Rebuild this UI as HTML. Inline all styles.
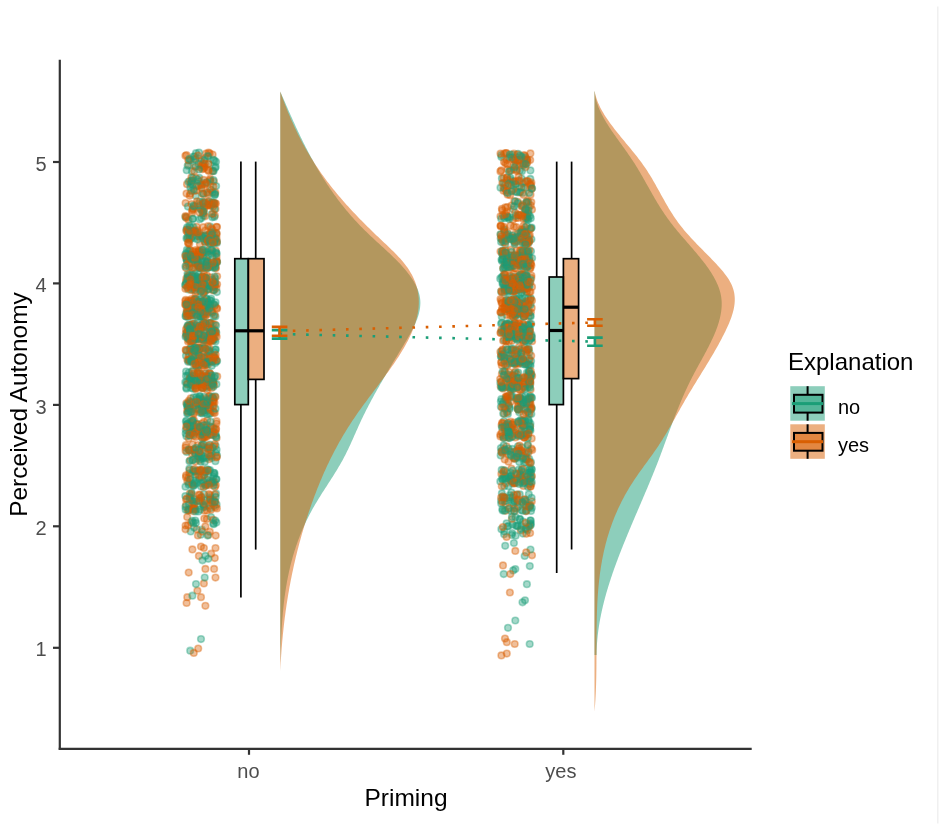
<!DOCTYPE html>
<html><head><meta charset="utf-8"><style>
html,body{margin:0;padding:0;background:#fff;}
body{width:945px;height:830px;overflow:hidden;}
svg{display:block;font-family:"Liberation Sans",sans-serif;filter:blur(0.4px);}
</style></head><body>
<svg width="945" height="830" viewBox="0 0 945 830">
<rect x="0" y="0" width="945" height="830" fill="#fff"/>
<line x1="937.8" y1="6.5" x2="937.8" y2="823.5" stroke="#efefef" stroke-width="1.4"/>
<path d="M280.3,91.6 L280.30,91.60 L280.92,93.03 L281.55,94.46 L282.17,95.89 L282.79,97.33 L283.41,98.76 L284.04,100.19 L284.66,101.62 L285.29,103.05 L285.91,104.48 L286.54,105.91 L287.16,107.34 L287.79,108.78 L288.42,110.21 L289.05,111.64 L289.69,113.07 L290.32,114.50 L290.96,115.93 L291.60,117.36 L292.24,118.80 L292.89,120.23 L293.53,121.66 L294.19,123.09 L294.84,124.52 L295.50,125.95 L296.16,127.38 L296.82,128.81 L297.49,130.25 L298.16,131.68 L298.84,133.11 L299.52,134.54 L300.21,135.97 L300.90,137.40 L301.59,138.83 L302.29,140.27 L303.00,141.70 L303.71,143.13 L304.42,144.56 L305.14,145.99 L305.87,147.42 L306.61,148.85 L307.35,150.28 L308.09,151.72 L308.85,153.15 L309.60,154.58 L310.37,156.01 L311.14,157.44 L311.93,158.87 L312.71,160.30 L313.51,161.74 L314.31,163.17 L315.13,164.60 L315.94,166.03 L316.77,167.46 L317.61,168.89 L318.45,170.32 L319.31,171.75 L320.17,173.19 L321.04,174.62 L321.92,176.05 L322.81,177.48 L323.71,178.91 L324.62,180.34 L325.54,181.77 L326.47,183.21 L327.41,184.64 L328.37,186.07 L329.33,187.50 L330.30,188.93 L331.29,190.36 L332.28,191.79 L333.29,193.22 L334.32,194.66 L335.35,196.09 L336.40,197.52 L337.46,198.95 L338.54,200.38 L339.63,201.81 L340.73,203.24 L341.85,204.67 L342.99,206.11 L344.14,207.54 L345.30,208.97 L346.49,210.40 L347.68,211.83 L348.90,213.26 L350.13,214.69 L351.38,216.13 L352.65,217.56 L353.93,218.99 L355.23,220.42 L356.56,221.85 L357.90,223.28 L359.25,224.71 L360.63,226.14 L362.03,227.58 L363.45,229.01 L364.89,230.44 L366.35,231.87 L367.83,233.30 L369.33,234.73 L370.84,236.16 L372.38,237.60 L373.92,239.03 L375.47,240.46 L377.03,241.89 L378.59,243.32 L380.16,244.75 L381.72,246.18 L383.28,247.61 L384.84,249.05 L386.39,250.48 L387.92,251.91 L389.45,253.34 L390.96,254.77 L392.45,256.20 L393.92,257.63 L395.37,259.07 L396.79,260.50 L398.18,261.93 L399.55,263.36 L400.88,264.79 L402.19,266.22 L403.46,267.65 L404.69,269.08 L405.89,270.52 L407.06,271.95 L408.18,273.38 L409.26,274.81 L410.30,276.24 L411.30,277.67 L412.26,279.10 L413.17,280.54 L414.03,281.97 L414.84,283.40 L415.60,284.83 L416.31,286.26 L416.97,287.69 L417.58,289.12 L418.12,290.55 L418.62,291.99 L419.05,293.42 L419.42,294.85 L419.73,296.28 L419.98,297.71 L420.17,299.14 L420.29,300.57 L420.36,302.01 L420.36,303.44 L420.31,304.87 L420.20,306.30 L420.05,307.73 L419.84,309.16 L419.58,310.59 L419.27,312.02 L418.92,313.46 L418.53,314.89 L418.10,316.32 L417.62,317.75 L417.11,319.18 L416.56,320.61 L415.98,322.04 L415.37,323.48 L414.73,324.91 L414.06,326.34 L413.36,327.77 L412.64,329.20 L411.90,330.63 L411.14,332.06 L410.36,333.49 L409.56,334.93 L408.75,336.36 L407.92,337.79 L407.08,339.22 L406.24,340.65 L405.39,342.08 L404.53,343.51 L403.67,344.95 L402.81,346.38 L401.94,347.81 L401.08,349.24 L400.22,350.67 L399.35,352.10 L398.49,353.53 L397.62,354.96 L396.76,356.40 L395.90,357.83 L395.04,359.26 L394.17,360.69 L393.31,362.12 L392.45,363.55 L391.60,364.98 L390.74,366.42 L389.89,367.85 L389.03,369.28 L388.18,370.71 L387.33,372.14 L386.49,373.57 L385.64,375.00 L384.80,376.43 L383.96,377.87 L383.13,379.30 L382.30,380.73 L381.47,382.16 L380.64,383.59 L379.82,385.02 L379.01,386.45 L378.19,387.88 L377.38,389.32 L376.58,390.75 L375.78,392.18 L374.98,393.61 L374.19,395.04 L373.41,396.47 L372.63,397.90 L371.85,399.34 L371.08,400.77 L370.32,402.20 L369.56,403.63 L368.81,405.06 L368.07,406.49 L367.33,407.92 L366.60,409.35 L365.87,410.79 L365.15,412.22 L364.44,413.65 L363.74,415.08 L363.04,416.51 L362.35,417.94 L361.67,419.37 L361.00,420.81 L360.33,422.24 L359.67,423.67 L359.02,425.10 L358.37,426.53 L357.73,427.96 L357.09,429.39 L356.45,430.82 L355.82,432.26 L355.19,433.69 L354.55,435.12 L353.92,436.55 L353.28,437.98 L352.64,439.41 L352.00,440.84 L351.35,442.28 L350.70,443.71 L350.05,445.14 L349.38,446.57 L348.71,448.00 L348.03,449.43 L347.34,450.86 L346.63,452.29 L345.92,453.73 L345.20,455.16 L344.46,456.59 L343.70,458.02 L342.94,459.45 L342.15,460.88 L341.36,462.31 L340.54,463.75 L339.72,465.18 L338.88,466.61 L338.03,468.04 L337.16,469.47 L336.29,470.90 L335.41,472.33 L334.52,473.76 L333.62,475.20 L332.72,476.63 L331.81,478.06 L330.89,479.49 L329.98,480.92 L329.06,482.35 L328.13,483.78 L327.21,485.22 L326.29,486.65 L325.37,488.08 L324.45,489.51 L323.53,490.94 L322.61,492.37 L321.70,493.80 L320.80,495.23 L319.90,496.67 L319.01,498.10 L318.13,499.53 L317.26,500.96 L316.39,502.39 L315.54,503.82 L314.70,505.25 L313.87,506.69 L313.06,508.12 L312.26,509.55 L311.47,510.98 L310.70,512.41 L309.94,513.84 L309.20,515.27 L308.46,516.70 L307.74,518.14 L307.04,519.57 L306.34,521.00 L305.66,522.43 L304.99,523.86 L304.34,525.29 L303.69,526.72 L303.06,528.16 L302.44,529.59 L301.83,531.02 L301.24,532.45 L300.65,533.88 L300.08,535.31 L299.52,536.74 L298.97,538.17 L298.43,539.61 L297.90,541.04 L297.39,542.47 L296.88,543.90 L296.39,545.33 L295.90,546.76 L295.43,548.19 L294.97,549.63 L294.51,551.06 L294.07,552.49 L293.64,553.92 L293.21,555.35 L292.80,556.78 L292.39,558.21 L292.00,559.64 L291.61,561.08 L291.24,562.51 L290.87,563.94 L290.51,565.37 L290.16,566.80 L289.82,568.23 L289.49,569.66 L289.16,571.09 L288.85,572.53 L288.54,573.96 L288.24,575.39 L287.95,576.82 L287.67,578.25 L287.39,579.68 L287.12,581.11 L286.86,582.55 L286.61,583.98 L286.36,585.41 L286.12,586.84 L285.89,588.27 L285.67,589.70 L285.45,591.13 L285.24,592.56 L285.03,594.00 L284.83,595.43 L284.64,596.86 L284.45,598.29 L284.27,599.72 L284.09,601.15 L283.93,602.58 L283.76,604.02 L283.60,605.45 L283.45,606.88 L283.30,608.31 L283.16,609.74 L283.02,611.17 L282.89,612.60 L282.76,614.03 L282.64,615.47 L282.52,616.90 L282.40,618.33 L282.29,619.76 L282.18,621.19 L282.08,622.62 L281.98,624.05 L281.89,625.49 L281.80,626.92 L281.71,628.35 L281.62,629.78 L281.54,631.21 L281.46,632.64 L281.39,634.07 L281.31,635.50 L281.24,636.94 L281.18,638.37 L281.11,639.80 L281.05,641.23 L280.99,642.66 L280.93,644.09 L280.87,645.52 L280.82,646.96 L280.76,648.39 L280.71,649.82 L280.66,651.25 L280.61,652.68 L280.57,654.11 L280.52,655.54 L280.48,656.97 L280.43,658.41 L280.39,659.84 L280.34,661.27 L280.30,662.70 L280.3,662.7 Z" fill="#1B9E77" fill-opacity="0.5"/>
<path d="M280.3,91.6 L280.30,91.60 L280.81,93.05 L281.32,94.50 L281.84,95.96 L282.36,97.41 L282.89,98.86 L283.43,100.31 L283.97,101.77 L284.52,103.22 L285.08,104.67 L285.64,106.12 L286.21,107.58 L286.79,109.03 L287.37,110.48 L287.96,111.93 L288.56,113.39 L289.17,114.84 L289.78,116.29 L290.40,117.74 L291.03,119.20 L291.67,120.65 L292.31,122.10 L292.96,123.55 L293.63,125.00 L294.30,126.46 L294.98,127.91 L295.66,129.36 L296.36,130.81 L297.07,132.27 L297.78,133.72 L298.50,135.17 L299.24,136.62 L299.98,138.08 L300.73,139.53 L301.50,140.98 L302.27,142.43 L303.05,143.89 L303.85,145.34 L304.65,146.79 L305.46,148.24 L306.29,149.70 L307.12,151.15 L307.97,152.60 L308.83,154.05 L309.70,155.50 L310.58,156.96 L311.47,158.41 L312.37,159.86 L313.29,161.31 L314.21,162.77 L315.15,164.22 L316.10,165.67 L317.06,167.12 L318.04,168.58 L319.03,170.03 L320.03,171.48 L321.04,172.93 L322.07,174.39 L323.10,175.84 L324.16,177.29 L325.22,178.74 L326.30,180.20 L327.39,181.65 L328.50,183.10 L329.62,184.55 L330.75,186.00 L331.90,187.46 L333.06,188.91 L334.23,190.36 L335.42,191.81 L336.62,193.27 L337.84,194.72 L339.06,196.17 L340.30,197.62 L341.56,199.08 L342.82,200.53 L344.10,201.98 L345.39,203.43 L346.69,204.89 L348.00,206.34 L349.32,207.79 L350.66,209.24 L352.01,210.70 L353.37,212.15 L354.74,213.60 L356.12,215.05 L357.51,216.50 L358.91,217.96 L360.32,219.41 L361.74,220.86 L363.18,222.31 L364.62,223.77 L366.07,225.22 L367.53,226.67 L369.01,228.12 L370.49,229.58 L371.98,231.03 L373.48,232.48 L374.98,233.93 L376.50,235.39 L378.03,236.84 L379.56,238.29 L381.10,239.74 L382.64,241.20 L384.18,242.65 L385.72,244.10 L387.25,245.55 L388.77,247.00 L390.28,248.46 L391.77,249.91 L393.24,251.36 L394.69,252.81 L396.11,254.27 L397.51,255.72 L398.87,257.17 L400.20,258.62 L401.48,260.08 L402.73,261.53 L403.93,262.98 L405.09,264.43 L406.19,265.89 L407.24,267.34 L408.24,268.79 L409.20,270.24 L410.10,271.70 L410.95,273.15 L411.76,274.60 L412.52,276.05 L413.23,277.50 L413.90,278.96 L414.52,280.41 L415.10,281.86 L415.63,283.31 L416.12,284.77 L416.57,286.22 L416.97,287.67 L417.34,289.12 L417.66,290.58 L417.94,292.03 L418.18,293.48 L418.38,294.93 L418.54,296.39 L418.66,297.84 L418.75,299.29 L418.79,300.74 L418.81,302.20 L418.78,303.65 L418.72,305.10 L418.63,306.55 L418.50,308.00 L418.34,309.46 L418.14,310.91 L417.92,312.36 L417.66,313.81 L417.37,315.27 L417.05,316.72 L416.70,318.17 L416.32,319.62 L415.91,321.08 L415.47,322.53 L415.01,323.98 L414.51,325.43 L414.00,326.89 L413.45,328.34 L412.88,329.79 L412.29,331.24 L411.67,332.70 L411.03,334.15 L410.36,335.60 L409.68,337.05 L408.97,338.50 L408.24,339.96 L407.49,341.41 L406.72,342.86 L405.93,344.31 L405.12,345.77 L404.30,347.22 L403.45,348.67 L402.59,350.12 L401.72,351.58 L400.82,353.03 L399.92,354.48 L399.00,355.93 L398.06,357.39 L397.11,358.84 L396.15,360.29 L395.17,361.74 L394.19,363.20 L393.19,364.65 L392.18,366.10 L391.16,367.55 L390.14,369.00 L389.10,370.46 L388.06,371.91 L387.01,373.36 L385.95,374.81 L384.89,376.27 L383.82,377.72 L382.74,379.17 L381.67,380.62 L380.58,382.08 L379.50,383.53 L378.41,384.98 L377.32,386.43 L376.22,387.89 L375.13,389.34 L374.04,390.79 L372.94,392.24 L371.85,393.70 L370.76,395.15 L369.67,396.60 L368.59,398.05 L367.50,399.50 L366.42,400.96 L365.35,402.41 L364.28,403.86 L363.21,405.31 L362.16,406.77 L361.11,408.22 L360.06,409.67 L359.03,411.12 L358.00,412.58 L356.98,414.03 L355.97,415.48 L354.97,416.93 L353.99,418.39 L353.01,419.84 L352.05,421.29 L351.09,422.74 L350.15,424.20 L349.21,425.65 L348.29,427.10 L347.38,428.55 L346.48,430.00 L345.58,431.46 L344.70,432.91 L343.83,434.36 L342.96,435.81 L342.11,437.27 L341.27,438.72 L340.43,440.17 L339.61,441.62 L338.79,443.08 L337.99,444.53 L337.19,445.98 L336.40,447.43 L335.62,448.89 L334.85,450.34 L334.09,451.79 L333.33,453.24 L332.59,454.70 L331.85,456.15 L331.12,457.60 L330.40,459.05 L329.69,460.50 L328.99,461.96 L328.29,463.41 L327.60,464.86 L326.92,466.31 L326.25,467.77 L325.58,469.22 L324.92,470.67 L324.27,472.12 L323.63,473.58 L322.99,475.03 L322.36,476.48 L321.74,477.93 L321.12,479.39 L320.51,480.84 L319.91,482.29 L319.31,483.74 L318.72,485.20 L318.13,486.65 L317.55,488.10 L316.98,489.55 L316.42,491.00 L315.86,492.46 L315.30,493.91 L314.75,495.36 L314.21,496.81 L313.67,498.27 L313.14,499.72 L312.61,501.17 L312.09,502.62 L311.57,504.08 L311.06,505.53 L310.55,506.98 L310.04,508.43 L309.55,509.89 L309.05,511.34 L308.56,512.79 L308.08,514.24 L307.60,515.70 L307.13,517.15 L306.66,518.60 L306.19,520.05 L305.73,521.50 L305.27,522.96 L304.82,524.41 L304.38,525.86 L303.93,527.31 L303.50,528.77 L303.06,530.22 L302.63,531.67 L302.21,533.12 L301.79,534.58 L301.38,536.03 L300.97,537.48 L300.56,538.93 L300.16,540.39 L299.76,541.84 L299.37,543.29 L298.98,544.74 L298.60,546.20 L298.22,547.65 L297.84,549.10 L297.47,550.55 L297.10,552.00 L296.74,553.46 L296.38,554.91 L296.03,556.36 L295.68,557.81 L295.34,559.27 L294.99,560.72 L294.66,562.17 L294.33,563.62 L294.00,565.08 L293.67,566.53 L293.35,567.98 L293.04,569.43 L292.73,570.89 L292.42,572.34 L292.11,573.79 L291.81,575.24 L291.52,576.70 L291.23,578.15 L290.94,579.60 L290.66,581.05 L290.38,582.50 L290.10,583.96 L289.83,585.41 L289.56,586.86 L289.30,588.31 L289.04,589.77 L288.79,591.22 L288.53,592.67 L288.29,594.12 L288.04,595.58 L287.80,597.03 L287.57,598.48 L287.33,599.93 L287.11,601.39 L286.88,602.84 L286.66,604.29 L286.44,605.74 L286.23,607.20 L286.02,608.65 L285.81,610.10 L285.61,611.55 L285.41,613.00 L285.22,614.46 L285.02,615.91 L284.84,617.36 L284.65,618.81 L284.47,620.27 L284.29,621.72 L284.12,623.17 L283.95,624.62 L283.79,626.08 L283.62,627.53 L283.46,628.98 L283.31,630.43 L283.16,631.89 L283.01,633.34 L282.86,634.79 L282.72,636.24 L282.58,637.70 L282.44,639.15 L282.31,640.60 L282.18,642.05 L282.06,643.50 L281.94,644.96 L281.82,646.41 L281.70,647.86 L281.59,649.31 L281.48,650.77 L281.38,652.22 L281.28,653.67 L281.18,655.12 L281.08,656.58 L280.99,658.03 L280.90,659.48 L280.81,660.93 L280.73,662.39 L280.65,663.84 L280.58,665.29 L280.50,666.74 L280.43,668.20 L280.36,669.65 L280.30,671.10 L280.3,671.1 Z" fill="#D95F02" fill-opacity="0.5"/>
<path d="M594.5,91.6 L594.80,91.60 L594.91,93.01 L595.07,94.42 L595.28,95.84 L595.53,97.25 L595.83,98.66 L596.17,100.07 L596.55,101.48 L596.98,102.90 L597.44,104.31 L597.94,105.72 L598.48,107.13 L599.05,108.54 L599.66,109.96 L600.30,111.37 L600.98,112.78 L601.68,114.19 L602.41,115.60 L603.17,117.02 L603.95,118.43 L604.76,119.84 L605.59,121.25 L606.45,122.66 L607.32,124.08 L608.22,125.49 L609.13,126.90 L610.05,128.31 L611.00,129.72 L611.95,131.14 L612.92,132.55 L613.90,133.96 L614.89,135.37 L615.89,136.78 L616.90,138.20 L617.91,139.61 L618.92,141.02 L619.94,142.43 L620.96,143.85 L621.98,145.26 L623.00,146.67 L624.01,148.08 L625.02,149.49 L626.03,150.91 L627.03,152.32 L628.02,153.73 L629.00,155.14 L629.97,156.55 L630.93,157.97 L631.88,159.38 L632.81,160.79 L633.73,162.20 L634.63,163.61 L635.52,165.03 L636.40,166.44 L637.26,167.85 L638.12,169.26 L638.96,170.67 L639.80,172.09 L640.63,173.50 L641.45,174.91 L642.26,176.32 L643.07,177.73 L643.87,179.15 L644.67,180.56 L645.47,181.97 L646.26,183.38 L647.06,184.79 L647.85,186.21 L648.64,187.62 L649.43,189.03 L650.23,190.44 L651.02,191.85 L651.83,193.27 L652.63,194.68 L653.44,196.09 L654.26,197.50 L655.08,198.91 L655.91,200.33 L656.75,201.74 L657.60,203.15 L658.46,204.56 L659.34,205.97 L660.22,207.39 L661.11,208.80 L662.02,210.21 L662.95,211.62 L663.89,213.03 L664.84,214.45 L665.81,215.86 L666.80,217.27 L667.81,218.68 L668.84,220.09 L669.89,221.51 L670.96,222.92 L672.05,224.33 L673.16,225.74 L674.28,227.15 L675.43,228.57 L676.59,229.98 L677.76,231.39 L678.94,232.80 L680.14,234.22 L681.34,235.63 L682.56,237.04 L683.77,238.45 L685.00,239.86 L686.22,241.28 L687.45,242.69 L688.68,244.10 L689.91,245.51 L691.13,246.92 L692.35,248.34 L693.56,249.75 L694.77,251.16 L695.96,252.57 L697.15,253.98 L698.33,255.40 L699.49,256.81 L700.64,258.22 L701.77,259.63 L702.88,261.04 L703.97,262.46 L705.05,263.87 L706.10,265.28 L707.13,266.69 L708.13,268.10 L709.11,269.52 L710.05,270.93 L710.97,272.34 L711.86,273.75 L712.72,275.16 L713.55,276.58 L714.34,277.99 L715.10,279.40 L715.82,280.81 L716.50,282.22 L717.15,283.64 L717.76,285.05 L718.33,286.46 L718.86,287.87 L719.35,289.28 L719.79,290.70 L720.19,292.11 L720.54,293.52 L720.84,294.93 L721.10,296.34 L721.31,297.76 L721.48,299.17 L721.60,300.58 L721.68,301.99 L721.71,303.40 L721.70,304.82 L721.66,306.23 L721.58,307.64 L721.46,309.05 L721.30,310.46 L721.11,311.88 L720.89,313.29 L720.64,314.70 L720.36,316.11 L720.05,317.52 L719.71,318.94 L719.34,320.35 L718.94,321.76 L718.52,323.17 L718.08,324.58 L717.61,326.00 L717.12,327.41 L716.60,328.82 L716.07,330.23 L715.51,331.65 L714.94,333.06 L714.34,334.47 L713.73,335.88 L713.10,337.29 L712.46,338.71 L711.80,340.12 L711.13,341.53 L710.44,342.94 L709.74,344.35 L709.03,345.77 L708.31,347.18 L707.58,348.59 L706.84,350.00 L706.09,351.41 L705.34,352.83 L704.58,354.24 L703.82,355.65 L703.05,357.06 L702.28,358.47 L701.50,359.89 L700.73,361.30 L699.95,362.71 L699.17,364.12 L698.40,365.53 L697.63,366.95 L696.86,368.36 L696.09,369.77 L695.33,371.18 L694.57,372.59 L693.83,374.01 L693.08,375.42 L692.35,376.83 L691.63,378.24 L690.91,379.65 L690.21,381.07 L689.51,382.48 L688.82,383.89 L688.15,385.30 L687.47,386.71 L686.81,388.13 L686.16,389.54 L685.51,390.95 L684.87,392.36 L684.24,393.77 L683.61,395.19 L682.99,396.60 L682.38,398.01 L681.77,399.42 L681.17,400.83 L680.57,402.25 L679.99,403.66 L679.40,405.07 L678.82,406.48 L678.25,407.89 L677.68,409.31 L677.12,410.72 L676.56,412.13 L676.00,413.54 L675.45,414.95 L674.90,416.37 L674.36,417.78 L673.81,419.19 L673.28,420.60 L672.74,422.02 L672.21,423.43 L671.68,424.84 L671.15,426.25 L670.62,427.66 L670.10,429.08 L669.57,430.49 L669.05,431.90 L668.53,433.31 L668.01,434.72 L667.49,436.14 L666.97,437.55 L666.45,438.96 L665.94,440.37 L665.42,441.78 L664.90,443.20 L664.38,444.61 L663.86,446.02 L663.34,447.43 L662.81,448.84 L662.29,450.26 L661.76,451.67 L661.23,453.08 L660.70,454.49 L660.17,455.90 L659.64,457.32 L659.10,458.73 L658.56,460.14 L658.01,461.55 L657.46,462.96 L656.91,464.38 L656.36,465.79 L655.80,467.20 L655.24,468.61 L654.68,470.02 L654.11,471.44 L653.54,472.85 L652.97,474.26 L652.39,475.67 L651.81,477.08 L651.23,478.50 L650.65,479.91 L650.06,481.32 L649.48,482.73 L648.89,484.14 L648.30,485.56 L647.71,486.97 L647.11,488.38 L646.52,489.79 L645.92,491.20 L645.32,492.62 L644.72,494.03 L644.12,495.44 L643.52,496.85 L642.92,498.26 L642.32,499.68 L641.71,501.09 L641.11,502.50 L640.50,503.91 L639.90,505.32 L639.29,506.74 L638.69,508.15 L638.08,509.56 L637.48,510.97 L636.87,512.38 L636.27,513.80 L635.66,515.21 L635.06,516.62 L634.46,518.03 L633.86,519.45 L633.26,520.86 L632.66,522.27 L632.06,523.68 L631.46,525.09 L630.86,526.51 L630.27,527.92 L629.68,529.33 L629.08,530.74 L628.49,532.15 L627.91,533.57 L627.32,534.98 L626.74,536.39 L626.16,537.80 L625.58,539.21 L625.00,540.63 L624.43,542.04 L623.85,543.45 L623.29,544.86 L622.72,546.27 L622.16,547.69 L621.60,549.10 L621.04,550.51 L620.49,551.92 L619.94,553.33 L619.39,554.75 L618.85,556.16 L618.31,557.57 L617.78,558.98 L617.25,560.39 L616.72,561.81 L616.20,563.22 L615.68,564.63 L615.17,566.04 L614.66,567.45 L614.15,568.87 L613.65,570.28 L613.16,571.69 L612.67,573.10 L612.19,574.51 L611.71,575.93 L611.23,577.34 L610.76,578.75 L610.30,580.16 L609.84,581.57 L609.39,582.99 L608.95,584.40 L608.51,585.81 L608.07,587.22 L607.65,588.63 L607.22,590.05 L606.81,591.46 L606.40,592.87 L606.00,594.28 L605.61,595.69 L605.22,597.11 L604.84,598.52 L604.46,599.93 L604.10,601.34 L603.74,602.75 L603.39,604.17 L603.04,605.58 L602.70,606.99 L602.38,608.40 L602.06,609.82 L601.74,611.23 L601.44,612.64 L601.14,614.05 L600.85,615.46 L600.57,616.88 L600.30,618.29 L600.04,619.70 L599.78,621.11 L599.54,622.52 L599.30,623.94 L599.08,625.35 L598.86,626.76 L598.65,628.17 L598.45,629.58 L598.26,631.00 L598.08,632.41 L597.91,633.82 L597.75,635.23 L597.60,636.64 L597.46,638.06 L597.33,639.47 L597.21,640.88 L597.10,642.29 L597.00,643.70 L596.91,645.12 L596.83,646.53 L596.77,647.94 L596.71,649.35 L596.67,650.76 L596.63,652.18 L596.61,653.59 L596.60,655.00 L594.5,655.0 Z" fill="#1B9E77" fill-opacity="0.5"/>
<path d="M594.5,91.6 L594.80,91.60 L595.08,93.15 L595.42,94.71 L595.82,96.26 L596.28,97.82 L596.79,99.37 L597.35,100.92 L597.96,102.48 L598.63,104.03 L599.34,105.58 L600.09,107.14 L600.90,108.69 L601.74,110.25 L602.62,111.80 L603.54,113.35 L604.50,114.91 L605.49,116.46 L606.51,118.02 L607.57,119.57 L608.65,121.12 L609.76,122.68 L610.90,124.23 L612.05,125.79 L613.23,127.34 L614.43,128.89 L615.65,130.45 L616.88,132.00 L618.12,133.55 L619.38,135.11 L620.65,136.66 L621.92,138.22 L623.20,139.77 L624.49,141.32 L625.77,142.88 L627.06,144.43 L628.35,145.99 L629.63,147.54 L630.91,149.09 L632.18,150.65 L633.44,152.20 L634.69,153.76 L635.93,155.31 L637.15,156.86 L638.36,158.42 L639.55,159.97 L640.72,161.52 L641.86,163.08 L642.99,164.63 L644.08,166.19 L645.15,167.74 L646.20,169.29 L647.22,170.85 L648.21,172.40 L649.19,173.96 L650.15,175.51 L651.09,177.06 L652.02,178.62 L652.93,180.17 L653.83,181.73 L654.72,183.28 L655.60,184.83 L656.47,186.39 L657.33,187.94 L658.19,189.49 L659.05,191.05 L659.90,192.60 L660.76,194.16 L661.61,195.71 L662.47,197.26 L663.34,198.82 L664.20,200.37 L665.08,201.93 L665.97,203.48 L666.86,205.03 L667.77,206.59 L668.70,208.14 L669.64,209.70 L670.59,211.25 L671.57,212.80 L672.56,214.36 L673.58,215.91 L674.62,217.46 L675.68,219.02 L676.77,220.57 L677.89,222.13 L679.04,223.68 L680.22,225.23 L681.43,226.79 L682.68,228.34 L683.96,229.90 L685.28,231.45 L686.62,233.00 L688.00,234.56 L689.40,236.11 L690.82,237.67 L692.27,239.22 L693.74,240.77 L695.22,242.33 L696.72,243.88 L698.23,245.43 L699.75,246.99 L701.27,248.54 L702.80,250.10 L704.34,251.65 L705.87,253.20 L707.40,254.76 L708.93,256.31 L710.45,257.87 L711.96,259.42 L713.46,260.97 L714.95,262.53 L716.41,264.08 L717.84,265.64 L719.25,267.19 L720.62,268.74 L721.94,270.30 L723.23,271.85 L724.47,273.40 L725.65,274.96 L726.78,276.51 L727.84,278.07 L728.84,279.62 L729.77,281.17 L730.62,282.73 L731.39,284.28 L732.07,285.84 L732.68,287.39 L733.20,288.94 L733.64,290.50 L734.01,292.05 L734.30,293.61 L734.52,295.16 L734.67,296.71 L734.75,298.27 L734.77,299.82 L734.73,301.37 L734.63,302.93 L734.47,304.48 L734.26,306.04 L734.00,307.59 L733.68,309.14 L733.32,310.70 L732.92,312.25 L732.47,313.81 L731.99,315.36 L731.47,316.91 L730.91,318.47 L730.33,320.02 L729.71,321.57 L729.07,323.13 L728.40,324.68 L727.71,326.24 L727.00,327.79 L726.27,329.34 L725.53,330.90 L724.78,332.45 L724.01,334.01 L723.22,335.56 L722.43,337.11 L721.62,338.67 L720.80,340.22 L719.97,341.78 L719.13,343.33 L718.27,344.88 L717.41,346.44 L716.54,347.99 L715.66,349.54 L714.77,351.10 L713.87,352.65 L712.96,354.21 L712.05,355.76 L711.13,357.31 L710.20,358.87 L709.27,360.42 L708.34,361.98 L707.40,363.53 L706.45,365.08 L705.50,366.64 L704.55,368.19 L703.60,369.75 L702.64,371.30 L701.69,372.85 L700.73,374.41 L699.77,375.96 L698.81,377.51 L697.85,379.07 L696.89,380.62 L695.94,382.18 L694.98,383.73 L694.03,385.28 L693.08,386.84 L692.13,388.39 L691.19,389.95 L690.25,391.50 L689.32,393.05 L688.39,394.61 L687.47,396.16 L686.55,397.72 L685.64,399.27 L684.74,400.82 L683.85,402.38 L682.96,403.93 L682.07,405.48 L681.19,407.04 L680.32,408.59 L679.45,410.15 L678.57,411.70 L677.71,413.25 L676.84,414.81 L675.97,416.36 L675.10,417.92 L674.22,419.47 L673.35,421.02 L672.47,422.58 L671.59,424.13 L670.70,425.69 L669.81,427.24 L668.91,428.79 L668.00,430.35 L667.09,431.90 L666.16,433.45 L665.23,435.01 L664.28,436.56 L663.33,438.12 L662.36,439.67 L661.38,441.22 L660.39,442.78 L659.38,444.33 L658.35,445.89 L657.31,447.44 L656.26,448.99 L655.19,450.55 L654.10,452.10 L653.00,453.66 L651.89,455.21 L650.78,456.76 L649.65,458.32 L648.52,459.87 L647.39,461.42 L646.25,462.98 L645.12,464.53 L643.98,466.09 L642.85,467.64 L641.73,469.19 L640.61,470.75 L639.50,472.30 L638.40,473.86 L637.31,475.41 L636.24,476.96 L635.18,478.52 L634.14,480.07 L633.11,481.63 L632.11,483.18 L631.12,484.73 L630.16,486.29 L629.21,487.84 L628.28,489.39 L627.37,490.95 L626.47,492.50 L625.59,494.06 L624.73,495.61 L623.89,497.16 L623.06,498.72 L622.25,500.27 L621.46,501.83 L620.69,503.38 L619.93,504.93 L619.18,506.49 L618.46,508.04 L617.74,509.59 L617.05,511.15 L616.37,512.70 L615.70,514.26 L615.05,515.81 L614.41,517.36 L613.79,518.92 L613.19,520.47 L612.60,522.03 L612.02,523.58 L611.45,525.13 L610.90,526.69 L610.37,528.24 L609.85,529.80 L609.34,531.35 L608.84,532.90 L608.36,534.46 L607.89,536.01 L607.43,537.56 L606.98,539.12 L606.55,540.67 L606.13,542.23 L605.72,543.78 L605.33,545.33 L604.94,546.89 L604.57,548.44 L604.20,550.00 L603.85,551.55 L603.51,553.10 L603.18,554.66 L602.86,556.21 L602.55,557.77 L602.25,559.32 L601.97,560.87 L601.69,562.43 L601.42,563.98 L601.16,565.53 L600.91,567.09 L600.67,568.64 L600.44,570.20 L600.21,571.75 L600.00,573.30 L599.79,574.86 L599.59,576.41 L599.41,577.97 L599.22,579.52 L599.05,581.07 L598.88,582.63 L598.73,584.18 L598.57,585.74 L598.43,587.29 L598.29,588.84 L598.16,590.40 L598.04,591.95 L597.92,593.50 L597.81,595.06 L597.70,596.61 L597.60,598.17 L597.51,599.72 L597.42,601.27 L597.34,602.83 L597.26,604.38 L597.19,605.94 L597.12,607.49 L597.06,609.04 L597.00,610.60 L596.94,612.15 L596.89,613.71 L596.85,615.26 L596.80,616.81 L596.77,618.37 L596.73,619.92 L596.70,621.47 L596.67,623.03 L596.64,624.58 L596.62,626.14 L596.60,627.69 L596.58,629.24 L596.56,630.80 L596.55,632.35 L596.54,633.91 L596.53,635.46 L596.52,637.01 L596.51,638.57 L596.51,640.12 L596.50,641.68 L596.50,643.23 L596.49,644.78 L596.49,646.34 L596.49,647.89 L596.48,649.44 L596.48,651.00 L596.48,652.55 L596.47,654.11 L596.47,655.66 L596.46,657.21 L596.46,658.77 L596.45,660.32 L596.44,661.88 L596.44,663.43 L596.42,664.98 L596.41,666.54 L596.40,668.09 L596.38,669.65 L596.36,671.20 L596.34,672.75 L596.32,674.31 L596.29,675.86 L596.26,677.41 L596.23,678.97 L596.19,680.52 L596.15,682.08 L596.11,683.63 L596.06,685.18 L596.01,686.74 L595.95,688.29 L595.89,689.85 L595.83,691.40 L595.76,692.95 L595.68,694.51 L595.61,696.06 L595.52,697.62 L595.43,699.17 L595.34,700.72 L595.24,702.28 L595.13,703.83 L595.02,705.38 L594.90,706.94 L594.77,708.49 L594.64,710.05 L594.50,711.60 L594.5,711.6 Z" fill="#D95F02" fill-opacity="0.5"/>
<g fill-opacity="0.4" stroke-opacity="0.4" stroke-width="1.6"><circle cx="531.0" cy="472.8" r="3.3" fill="#1B9E77" stroke="#1B9E77"/><circle cx="507.5" cy="526.5" r="3.3" fill="#1B9E77" stroke="#1B9E77"/><circle cx="194.1" cy="190.9" r="3.3" fill="#D95F02" stroke="#D95F02"/><circle cx="529.7" cy="330.1" r="3.3" fill="#D95F02" stroke="#D95F02"/><circle cx="190.7" cy="347.0" r="3.3" fill="#D95F02" stroke="#D95F02"/><circle cx="529.2" cy="458.8" r="3.3" fill="#1B9E77" stroke="#1B9E77"/><circle cx="512.8" cy="219.8" r="3.3" fill="#D95F02" stroke="#D95F02"/><circle cx="529.8" cy="566.1" r="3.3" fill="#1B9E77" stroke="#1B9E77"/><circle cx="514.6" cy="322.8" r="3.3" fill="#1B9E77" stroke="#1B9E77"/><circle cx="195.6" cy="389.3" r="3.3" fill="#D95F02" stroke="#D95F02"/><circle cx="506.2" cy="379.9" r="3.3" fill="#D95F02" stroke="#D95F02"/><circle cx="523.4" cy="313.8" r="3.3" fill="#1B9E77" stroke="#1B9E77"/><circle cx="531.3" cy="374.2" r="3.3" fill="#1B9E77" stroke="#1B9E77"/><circle cx="208.8" cy="264.3" r="3.3" fill="#1B9E77" stroke="#1B9E77"/><circle cx="202.2" cy="432.2" r="3.3" fill="#1B9E77" stroke="#1B9E77"/><circle cx="198.3" cy="310.8" r="3.3" fill="#1B9E77" stroke="#1B9E77"/><circle cx="508.9" cy="379.3" r="3.3" fill="#D95F02" stroke="#D95F02"/><circle cx="510.2" cy="497.5" r="3.3" fill="#D95F02" stroke="#D95F02"/><circle cx="506.7" cy="431.7" r="3.3" fill="#D95F02" stroke="#D95F02"/><circle cx="507.8" cy="330.5" r="3.3" fill="#D95F02" stroke="#D95F02"/><circle cx="505.9" cy="387.0" r="3.3" fill="#1B9E77" stroke="#1B9E77"/><circle cx="189.6" cy="249.9" r="3.3" fill="#D95F02" stroke="#D95F02"/><circle cx="216.6" cy="449.8" r="3.3" fill="#1B9E77" stroke="#1B9E77"/><circle cx="529.4" cy="352.5" r="3.3" fill="#1B9E77" stroke="#1B9E77"/><circle cx="214.7" cy="193.5" r="3.3" fill="#1B9E77" stroke="#1B9E77"/><circle cx="189.8" cy="181.1" r="3.3" fill="#D95F02" stroke="#D95F02"/><circle cx="528.8" cy="421.1" r="3.3" fill="#1B9E77" stroke="#1B9E77"/><circle cx="203.0" cy="276.7" r="3.3" fill="#D95F02" stroke="#D95F02"/><circle cx="198.4" cy="306.8" r="3.3" fill="#1B9E77" stroke="#1B9E77"/><circle cx="212.3" cy="501.3" r="3.3" fill="#1B9E77" stroke="#1B9E77"/><circle cx="202.3" cy="413.5" r="3.3" fill="#1B9E77" stroke="#1B9E77"/><circle cx="213.7" cy="483.0" r="3.3" fill="#D95F02" stroke="#D95F02"/><circle cx="203.4" cy="447.9" r="3.3" fill="#D95F02" stroke="#D95F02"/><circle cx="525.8" cy="501.3" r="3.3" fill="#1B9E77" stroke="#1B9E77"/><circle cx="505.1" cy="325.9" r="3.3" fill="#1B9E77" stroke="#1B9E77"/><circle cx="507.4" cy="261.1" r="3.3" fill="#1B9E77" stroke="#1B9E77"/><circle cx="519.9" cy="323.7" r="3.3" fill="#D95F02" stroke="#D95F02"/><circle cx="521.2" cy="250.3" r="3.3" fill="#D95F02" stroke="#D95F02"/><circle cx="532.0" cy="286.9" r="3.3" fill="#D95F02" stroke="#D95F02"/><circle cx="528.9" cy="207.0" r="3.3" fill="#1B9E77" stroke="#1B9E77"/><circle cx="193.4" cy="511.2" r="3.3" fill="#D95F02" stroke="#D95F02"/><circle cx="503.1" cy="268.3" r="3.3" fill="#D95F02" stroke="#D95F02"/><circle cx="207.2" cy="314.3" r="3.3" fill="#D95F02" stroke="#D95F02"/><circle cx="508.4" cy="486.3" r="3.3" fill="#1B9E77" stroke="#1B9E77"/><circle cx="190.6" cy="326.4" r="3.3" fill="#1B9E77" stroke="#1B9E77"/><circle cx="507.2" cy="177.0" r="3.3" fill="#D95F02" stroke="#D95F02"/><circle cx="526.3" cy="276.4" r="3.3" fill="#D95F02" stroke="#D95F02"/><circle cx="506.9" cy="412.7" r="3.3" fill="#D95F02" stroke="#D95F02"/><circle cx="524.7" cy="347.9" r="3.3" fill="#1B9E77" stroke="#1B9E77"/><circle cx="199.5" cy="477.1" r="3.3" fill="#D95F02" stroke="#D95F02"/><circle cx="193.8" cy="309.5" r="3.3" fill="#D95F02" stroke="#D95F02"/><circle cx="527.1" cy="350.1" r="3.3" fill="#1B9E77" stroke="#1B9E77"/><circle cx="200.2" cy="299.0" r="3.3" fill="#1B9E77" stroke="#1B9E77"/><circle cx="188.7" cy="484.7" r="3.3" fill="#1B9E77" stroke="#1B9E77"/><circle cx="204.2" cy="356.9" r="3.3" fill="#1B9E77" stroke="#1B9E77"/><circle cx="215.8" cy="485.0" r="3.3" fill="#D95F02" stroke="#D95F02"/><circle cx="199.3" cy="267.7" r="3.3" fill="#D95F02" stroke="#D95F02"/><circle cx="197.0" cy="352.2" r="3.3" fill="#1B9E77" stroke="#1B9E77"/><circle cx="216.6" cy="437.9" r="3.3" fill="#D95F02" stroke="#D95F02"/><circle cx="513.4" cy="327.3" r="3.3" fill="#1B9E77" stroke="#1B9E77"/><circle cx="519.9" cy="307.3" r="3.3" fill="#1B9E77" stroke="#1B9E77"/><circle cx="209.3" cy="372.8" r="3.3" fill="#1B9E77" stroke="#1B9E77"/><circle cx="515.5" cy="237.0" r="3.3" fill="#1B9E77" stroke="#1B9E77"/><circle cx="515.8" cy="525.6" r="3.3" fill="#1B9E77" stroke="#1B9E77"/><circle cx="194.9" cy="471.3" r="3.3" fill="#D95F02" stroke="#D95F02"/><circle cx="209.1" cy="242.9" r="3.3" fill="#1B9E77" stroke="#1B9E77"/><circle cx="523.4" cy="485.9" r="3.3" fill="#D95F02" stroke="#D95F02"/><circle cx="197.4" cy="232.4" r="3.3" fill="#D95F02" stroke="#D95F02"/><circle cx="524.6" cy="256.0" r="3.3" fill="#1B9E77" stroke="#1B9E77"/><circle cx="198.0" cy="260.4" r="3.3" fill="#D95F02" stroke="#D95F02"/><circle cx="522.1" cy="256.0" r="3.3" fill="#D95F02" stroke="#D95F02"/><circle cx="511.1" cy="476.2" r="3.3" fill="#D95F02" stroke="#D95F02"/><circle cx="519.0" cy="451.5" r="3.3" fill="#D95F02" stroke="#D95F02"/><circle cx="192.9" cy="338.9" r="3.3" fill="#D95F02" stroke="#D95F02"/><circle cx="212.1" cy="241.0" r="3.3" fill="#D95F02" stroke="#D95F02"/><circle cx="527.2" cy="216.9" r="3.3" fill="#1B9E77" stroke="#1B9E77"/><circle cx="193.0" cy="208.7" r="3.3" fill="#D95F02" stroke="#D95F02"/><circle cx="200.3" cy="338.8" r="3.3" fill="#D95F02" stroke="#D95F02"/><circle cx="513.8" cy="261.2" r="3.3" fill="#D95F02" stroke="#D95F02"/><circle cx="191.9" cy="453.5" r="3.3" fill="#D95F02" stroke="#D95F02"/><circle cx="526.7" cy="379.7" r="3.3" fill="#1B9E77" stroke="#1B9E77"/><circle cx="187.9" cy="317.0" r="3.3" fill="#1B9E77" stroke="#1B9E77"/><circle cx="200.2" cy="384.2" r="3.3" fill="#1B9E77" stroke="#1B9E77"/><circle cx="514.7" cy="382.4" r="3.3" fill="#1B9E77" stroke="#1B9E77"/><circle cx="506.4" cy="190.4" r="3.3" fill="#D95F02" stroke="#D95F02"/><circle cx="519.9" cy="170.4" r="3.3" fill="#1B9E77" stroke="#1B9E77"/><circle cx="189.3" cy="473.3" r="3.3" fill="#D95F02" stroke="#D95F02"/><circle cx="530.4" cy="170.4" r="3.3" fill="#1B9E77" stroke="#1B9E77"/><circle cx="214.0" cy="237.8" r="3.3" fill="#D95F02" stroke="#D95F02"/><circle cx="208.1" cy="240.6" r="3.3" fill="#1B9E77" stroke="#1B9E77"/><circle cx="527.8" cy="445.5" r="3.3" fill="#D95F02" stroke="#D95F02"/><circle cx="517.1" cy="386.4" r="3.3" fill="#1B9E77" stroke="#1B9E77"/><circle cx="516.0" cy="298.8" r="3.3" fill="#1B9E77" stroke="#1B9E77"/><circle cx="523.5" cy="359.6" r="3.3" fill="#1B9E77" stroke="#1B9E77"/><circle cx="216.9" cy="241.6" r="3.3" fill="#1B9E77" stroke="#1B9E77"/><circle cx="506.6" cy="424.6" r="3.3" fill="#1B9E77" stroke="#1B9E77"/><circle cx="526.5" cy="277.2" r="3.3" fill="#1B9E77" stroke="#1B9E77"/><circle cx="512.4" cy="448.9" r="3.3" fill="#1B9E77" stroke="#1B9E77"/><circle cx="518.2" cy="423.6" r="3.3" fill="#D95F02" stroke="#D95F02"/><circle cx="514.1" cy="501.4" r="3.3" fill="#1B9E77" stroke="#1B9E77"/><circle cx="523.3" cy="260.0" r="3.3" fill="#D95F02" stroke="#D95F02"/><circle cx="199.5" cy="279.0" r="3.3" fill="#1B9E77" stroke="#1B9E77"/><circle cx="523.3" cy="287.9" r="3.3" fill="#D95F02" stroke="#D95F02"/><circle cx="528.7" cy="341.2" r="3.3" fill="#1B9E77" stroke="#1B9E77"/><circle cx="207.6" cy="448.6" r="3.3" fill="#D95F02" stroke="#D95F02"/><circle cx="200.8" cy="534.7" r="3.3" fill="#1B9E77" stroke="#1B9E77"/><circle cx="205.4" cy="323.8" r="3.3" fill="#1B9E77" stroke="#1B9E77"/><circle cx="502.8" cy="276.4" r="3.3" fill="#1B9E77" stroke="#1B9E77"/><circle cx="210.2" cy="181.4" r="3.3" fill="#D95F02" stroke="#D95F02"/><circle cx="196.0" cy="336.1" r="3.3" fill="#1B9E77" stroke="#1B9E77"/><circle cx="204.4" cy="340.0" r="3.3" fill="#D95F02" stroke="#D95F02"/><circle cx="188.6" cy="220.1" r="3.3" fill="#D95F02" stroke="#D95F02"/><circle cx="501.9" cy="450.7" r="3.3" fill="#D95F02" stroke="#D95F02"/><circle cx="531.2" cy="228.3" r="3.3" fill="#1B9E77" stroke="#1B9E77"/><circle cx="525.3" cy="217.5" r="3.3" fill="#D95F02" stroke="#D95F02"/><circle cx="525.5" cy="459.0" r="3.3" fill="#D95F02" stroke="#D95F02"/><circle cx="505.0" cy="333.5" r="3.3" fill="#D95F02" stroke="#D95F02"/><circle cx="217.1" cy="361.0" r="3.3" fill="#1B9E77" stroke="#1B9E77"/><circle cx="207.1" cy="289.7" r="3.3" fill="#D95F02" stroke="#D95F02"/><circle cx="190.3" cy="258.5" r="3.3" fill="#1B9E77" stroke="#1B9E77"/><circle cx="187.9" cy="338.3" r="3.3" fill="#D95F02" stroke="#D95F02"/><circle cx="215.7" cy="349.4" r="3.3" fill="#1B9E77" stroke="#1B9E77"/><circle cx="195.8" cy="256.0" r="3.3" fill="#1B9E77" stroke="#1B9E77"/><circle cx="215.4" cy="316.4" r="3.3" fill="#1B9E77" stroke="#1B9E77"/><circle cx="207.6" cy="346.9" r="3.3" fill="#D95F02" stroke="#D95F02"/><circle cx="520.6" cy="313.3" r="3.3" fill="#1B9E77" stroke="#1B9E77"/><circle cx="524.9" cy="499.3" r="3.3" fill="#D95F02" stroke="#D95F02"/><circle cx="501.2" cy="503.5" r="3.3" fill="#1B9E77" stroke="#1B9E77"/><circle cx="215.3" cy="192.3" r="3.3" fill="#D95F02" stroke="#D95F02"/><circle cx="511.8" cy="534.9" r="3.3" fill="#1B9E77" stroke="#1B9E77"/><circle cx="508.3" cy="428.0" r="3.3" fill="#D95F02" stroke="#D95F02"/><circle cx="505.2" cy="278.4" r="3.3" fill="#1B9E77" stroke="#1B9E77"/><circle cx="215.3" cy="285.4" r="3.3" fill="#D95F02" stroke="#D95F02"/><circle cx="525.3" cy="420.4" r="3.3" fill="#1B9E77" stroke="#1B9E77"/><circle cx="508.2" cy="454.6" r="3.3" fill="#D95F02" stroke="#D95F02"/><circle cx="513.9" cy="169.3" r="3.3" fill="#1B9E77" stroke="#1B9E77"/><circle cx="201.7" cy="284.5" r="3.3" fill="#1B9E77" stroke="#1B9E77"/><circle cx="202.4" cy="401.0" r="3.3" fill="#1B9E77" stroke="#1B9E77"/><circle cx="522.0" cy="232.6" r="3.3" fill="#D95F02" stroke="#D95F02"/><circle cx="513.7" cy="237.9" r="3.3" fill="#D95F02" stroke="#D95F02"/><circle cx="515.2" cy="260.7" r="3.3" fill="#D95F02" stroke="#D95F02"/><circle cx="205.2" cy="253.7" r="3.3" fill="#D95F02" stroke="#D95F02"/><circle cx="530.3" cy="486.6" r="3.3" fill="#D95F02" stroke="#D95F02"/><circle cx="530.7" cy="520.6" r="3.3" fill="#1B9E77" stroke="#1B9E77"/><circle cx="201.0" cy="597.2" r="3.3" fill="#D95F02" stroke="#D95F02"/><circle cx="520.6" cy="419.9" r="3.3" fill="#1B9E77" stroke="#1B9E77"/><circle cx="519.2" cy="192.4" r="3.3" fill="#D95F02" stroke="#D95F02"/><circle cx="518.1" cy="278.3" r="3.3" fill="#D95F02" stroke="#D95F02"/><circle cx="532.1" cy="341.2" r="3.3" fill="#D95F02" stroke="#D95F02"/><circle cx="505.8" cy="483.3" r="3.3" fill="#D95F02" stroke="#D95F02"/><circle cx="521.5" cy="476.5" r="3.3" fill="#1B9E77" stroke="#1B9E77"/><circle cx="191.9" cy="313.3" r="3.3" fill="#D95F02" stroke="#D95F02"/><circle cx="515.0" cy="335.8" r="3.3" fill="#D95F02" stroke="#D95F02"/><circle cx="215.9" cy="436.1" r="3.3" fill="#1B9E77" stroke="#1B9E77"/><circle cx="530.1" cy="426.6" r="3.3" fill="#1B9E77" stroke="#1B9E77"/><circle cx="510.5" cy="306.3" r="3.3" fill="#D95F02" stroke="#D95F02"/><circle cx="511.0" cy="350.4" r="3.3" fill="#D95F02" stroke="#D95F02"/><circle cx="192.0" cy="339.0" r="3.3" fill="#1B9E77" stroke="#1B9E77"/><circle cx="516.9" cy="387.7" r="3.3" fill="#D95F02" stroke="#D95F02"/><circle cx="523.3" cy="316.4" r="3.3" fill="#D95F02" stroke="#D95F02"/><circle cx="215.0" cy="357.6" r="3.3" fill="#D95F02" stroke="#D95F02"/><circle cx="515.2" cy="181.2" r="3.3" fill="#D95F02" stroke="#D95F02"/><circle cx="217.2" cy="376.4" r="3.3" fill="#D95F02" stroke="#D95F02"/><circle cx="206.2" cy="375.7" r="3.3" fill="#D95F02" stroke="#D95F02"/><circle cx="211.6" cy="377.9" r="3.3" fill="#1B9E77" stroke="#1B9E77"/><circle cx="504.2" cy="274.0" r="3.3" fill="#D95F02" stroke="#D95F02"/><circle cx="212.5" cy="192.4" r="3.3" fill="#1B9E77" stroke="#1B9E77"/><circle cx="500.5" cy="216.3" r="3.3" fill="#D95F02" stroke="#D95F02"/><circle cx="199.3" cy="177.8" r="3.3" fill="#1B9E77" stroke="#1B9E77"/><circle cx="198.2" cy="471.8" r="3.3" fill="#D95F02" stroke="#D95F02"/><circle cx="528.4" cy="202.2" r="3.3" fill="#1B9E77" stroke="#1B9E77"/><circle cx="195.8" cy="308.4" r="3.3" fill="#1B9E77" stroke="#1B9E77"/><circle cx="190.6" cy="336.8" r="3.3" fill="#1B9E77" stroke="#1B9E77"/><circle cx="201.9" cy="445.8" r="3.3" fill="#D95F02" stroke="#D95F02"/><circle cx="511.0" cy="170.5" r="3.3" fill="#D95F02" stroke="#D95F02"/><circle cx="186.7" cy="428.6" r="3.3" fill="#D95F02" stroke="#D95F02"/><circle cx="205.2" cy="234.9" r="3.3" fill="#1B9E77" stroke="#1B9E77"/><circle cx="189.4" cy="239.9" r="3.3" fill="#1B9E77" stroke="#1B9E77"/><circle cx="210.7" cy="413.3" r="3.3" fill="#1B9E77" stroke="#1B9E77"/><circle cx="507.8" cy="428.6" r="3.3" fill="#D95F02" stroke="#D95F02"/><circle cx="215.7" cy="535.6" r="3.3" fill="#D95F02" stroke="#D95F02"/><circle cx="507.7" cy="309.7" r="3.3" fill="#1B9E77" stroke="#1B9E77"/><circle cx="520.8" cy="432.6" r="3.3" fill="#D95F02" stroke="#D95F02"/><circle cx="524.5" cy="421.0" r="3.3" fill="#1B9E77" stroke="#1B9E77"/><circle cx="189.6" cy="267.0" r="3.3" fill="#1B9E77" stroke="#1B9E77"/><circle cx="186.4" cy="436.2" r="3.3" fill="#1B9E77" stroke="#1B9E77"/><circle cx="209.2" cy="403.5" r="3.3" fill="#1B9E77" stroke="#1B9E77"/><circle cx="527.7" cy="213.0" r="3.3" fill="#1B9E77" stroke="#1B9E77"/><circle cx="208.5" cy="484.1" r="3.3" fill="#D95F02" stroke="#D95F02"/><circle cx="190.0" cy="378.2" r="3.3" fill="#1B9E77" stroke="#1B9E77"/><circle cx="513.3" cy="181.3" r="3.3" fill="#D95F02" stroke="#D95F02"/><circle cx="210.8" cy="206.0" r="3.3" fill="#D95F02" stroke="#D95F02"/><circle cx="191.9" cy="430.6" r="3.3" fill="#1B9E77" stroke="#1B9E77"/><circle cx="523.4" cy="280.6" r="3.3" fill="#D95F02" stroke="#D95F02"/><circle cx="510.3" cy="179.7" r="3.3" fill="#1B9E77" stroke="#1B9E77"/><circle cx="210.5" cy="305.2" r="3.3" fill="#D95F02" stroke="#D95F02"/><circle cx="501.1" cy="362.4" r="3.3" fill="#D95F02" stroke="#D95F02"/><circle cx="203.8" cy="436.6" r="3.3" fill="#1B9E77" stroke="#1B9E77"/><circle cx="215.1" cy="167.9" r="3.3" fill="#1B9E77" stroke="#1B9E77"/><circle cx="527.3" cy="288.1" r="3.3" fill="#D95F02" stroke="#D95F02"/><circle cx="513.2" cy="375.8" r="3.3" fill="#D95F02" stroke="#D95F02"/><circle cx="516.2" cy="287.3" r="3.3" fill="#D95F02" stroke="#D95F02"/><circle cx="511.4" cy="468.6" r="3.3" fill="#D95F02" stroke="#D95F02"/><circle cx="198.9" cy="456.8" r="3.3" fill="#1B9E77" stroke="#1B9E77"/><circle cx="506.4" cy="299.9" r="3.3" fill="#D95F02" stroke="#D95F02"/><circle cx="528.3" cy="373.3" r="3.3" fill="#D95F02" stroke="#D95F02"/><circle cx="203.1" cy="163.7" r="3.3" fill="#D95F02" stroke="#D95F02"/><circle cx="524.6" cy="288.8" r="3.3" fill="#D95F02" stroke="#D95F02"/><circle cx="512.6" cy="483.4" r="3.3" fill="#1B9E77" stroke="#1B9E77"/><circle cx="189.6" cy="349.6" r="3.3" fill="#1B9E77" stroke="#1B9E77"/><circle cx="510.8" cy="182.4" r="3.3" fill="#D95F02" stroke="#D95F02"/><circle cx="523.9" cy="158.9" r="3.3" fill="#1B9E77" stroke="#1B9E77"/><circle cx="523.3" cy="425.8" r="3.3" fill="#D95F02" stroke="#D95F02"/><circle cx="203.9" cy="410.3" r="3.3" fill="#D95F02" stroke="#D95F02"/><circle cx="525.3" cy="528.5" r="3.3" fill="#1B9E77" stroke="#1B9E77"/><circle cx="509.9" cy="259.4" r="3.3" fill="#1B9E77" stroke="#1B9E77"/><circle cx="190.6" cy="250.6" r="3.3" fill="#D95F02" stroke="#D95F02"/><circle cx="529.1" cy="383.2" r="3.3" fill="#D95F02" stroke="#D95F02"/><circle cx="529.5" cy="414.3" r="3.3" fill="#D95F02" stroke="#D95F02"/><circle cx="520.4" cy="192.0" r="3.3" fill="#1B9E77" stroke="#1B9E77"/><circle cx="510.0" cy="382.7" r="3.3" fill="#D95F02" stroke="#D95F02"/><circle cx="188.5" cy="165.0" r="3.3" fill="#D95F02" stroke="#D95F02"/><circle cx="511.0" cy="475.6" r="3.3" fill="#1B9E77" stroke="#1B9E77"/><circle cx="521.9" cy="356.8" r="3.3" fill="#1B9E77" stroke="#1B9E77"/><circle cx="193.2" cy="471.8" r="3.3" fill="#D95F02" stroke="#D95F02"/><circle cx="507.5" cy="332.0" r="3.3" fill="#D95F02" stroke="#D95F02"/><circle cx="205.6" cy="471.8" r="3.3" fill="#1B9E77" stroke="#1B9E77"/><circle cx="524.3" cy="289.8" r="3.3" fill="#1B9E77" stroke="#1B9E77"/><circle cx="516.8" cy="334.0" r="3.3" fill="#D95F02" stroke="#D95F02"/><circle cx="502.1" cy="354.6" r="3.3" fill="#D95F02" stroke="#D95F02"/><circle cx="210.1" cy="305.5" r="3.3" fill="#D95F02" stroke="#D95F02"/><circle cx="197.9" cy="535.5" r="3.3" fill="#D95F02" stroke="#D95F02"/><circle cx="211.8" cy="457.9" r="3.3" fill="#1B9E77" stroke="#1B9E77"/><circle cx="212.6" cy="154.5" r="3.3" fill="#D95F02" stroke="#D95F02"/><circle cx="194.5" cy="375.0" r="3.3" fill="#D95F02" stroke="#D95F02"/><circle cx="201.0" cy="546.5" r="3.3" fill="#D95F02" stroke="#D95F02"/><circle cx="199.5" cy="381.3" r="3.3" fill="#D95F02" stroke="#D95F02"/><circle cx="520.6" cy="252.7" r="3.3" fill="#1B9E77" stroke="#1B9E77"/><circle cx="198.8" cy="494.7" r="3.3" fill="#D95F02" stroke="#D95F02"/><circle cx="197.4" cy="470.7" r="3.3" fill="#1B9E77" stroke="#1B9E77"/><circle cx="508.0" cy="336.1" r="3.3" fill="#D95F02" stroke="#D95F02"/><circle cx="522.8" cy="249.9" r="3.3" fill="#D95F02" stroke="#D95F02"/><circle cx="519.8" cy="382.2" r="3.3" fill="#1B9E77" stroke="#1B9E77"/><circle cx="195.8" cy="257.6" r="3.3" fill="#D95F02" stroke="#D95F02"/><circle cx="526.2" cy="336.0" r="3.3" fill="#1B9E77" stroke="#1B9E77"/><circle cx="210.3" cy="226.7" r="3.3" fill="#1B9E77" stroke="#1B9E77"/><circle cx="194.1" cy="299.8" r="3.3" fill="#1B9E77" stroke="#1B9E77"/><circle cx="529.4" cy="286.6" r="3.3" fill="#1B9E77" stroke="#1B9E77"/><circle cx="199.4" cy="401.2" r="3.3" fill="#1B9E77" stroke="#1B9E77"/><circle cx="525.7" cy="232.6" r="3.3" fill="#D95F02" stroke="#D95F02"/><circle cx="217.0" cy="455.4" r="3.3" fill="#1B9E77" stroke="#1B9E77"/><circle cx="201.9" cy="423.5" r="3.3" fill="#D95F02" stroke="#D95F02"/><circle cx="208.3" cy="156.3" r="3.3" fill="#1B9E77" stroke="#1B9E77"/><circle cx="517.0" cy="373.9" r="3.3" fill="#D95F02" stroke="#D95F02"/><circle cx="528.0" cy="434.4" r="3.3" fill="#D95F02" stroke="#D95F02"/><circle cx="514.9" cy="262.8" r="3.3" fill="#1B9E77" stroke="#1B9E77"/><circle cx="506.8" cy="642.2" r="3.3" fill="#D95F02" stroke="#D95F02"/><circle cx="510.5" cy="479.0" r="3.3" fill="#1B9E77" stroke="#1B9E77"/><circle cx="522.3" cy="479.4" r="3.3" fill="#D95F02" stroke="#D95F02"/><circle cx="521.0" cy="510.1" r="3.3" fill="#1B9E77" stroke="#1B9E77"/><circle cx="517.2" cy="456.6" r="3.3" fill="#1B9E77" stroke="#1B9E77"/><circle cx="504.0" cy="216.4" r="3.3" fill="#1B9E77" stroke="#1B9E77"/><circle cx="185.6" cy="447.4" r="3.3" fill="#D95F02" stroke="#D95F02"/><circle cx="500.9" cy="406.8" r="3.3" fill="#1B9E77" stroke="#1B9E77"/><circle cx="520.5" cy="237.2" r="3.3" fill="#D95F02" stroke="#D95F02"/><circle cx="201.4" cy="185.7" r="3.3" fill="#1B9E77" stroke="#1B9E77"/><circle cx="213.1" cy="206.7" r="3.3" fill="#D95F02" stroke="#D95F02"/><circle cx="207.3" cy="285.9" r="3.3" fill="#D95F02" stroke="#D95F02"/><circle cx="211.5" cy="361.5" r="3.3" fill="#1B9E77" stroke="#1B9E77"/><circle cx="206.6" cy="404.6" r="3.3" fill="#1B9E77" stroke="#1B9E77"/><circle cx="518.9" cy="469.6" r="3.3" fill="#1B9E77" stroke="#1B9E77"/><circle cx="201.3" cy="254.6" r="3.3" fill="#D95F02" stroke="#D95F02"/><circle cx="504.1" cy="534.3" r="3.3" fill="#1B9E77" stroke="#1B9E77"/><circle cx="215.5" cy="577.6" r="3.3" fill="#D95F02" stroke="#D95F02"/><circle cx="206.9" cy="518.9" r="3.3" fill="#D95F02" stroke="#D95F02"/><circle cx="206.4" cy="401.8" r="3.3" fill="#1B9E77" stroke="#1B9E77"/><circle cx="206.1" cy="458.0" r="3.3" fill="#1B9E77" stroke="#1B9E77"/><circle cx="208.0" cy="192.8" r="3.3" fill="#1B9E77" stroke="#1B9E77"/><circle cx="194.7" cy="262.2" r="3.3" fill="#D95F02" stroke="#D95F02"/><circle cx="214.0" cy="233.5" r="3.3" fill="#1B9E77" stroke="#1B9E77"/><circle cx="507.7" cy="400.5" r="3.3" fill="#1B9E77" stroke="#1B9E77"/><circle cx="516.9" cy="300.0" r="3.3" fill="#1B9E77" stroke="#1B9E77"/><circle cx="518.6" cy="436.2" r="3.3" fill="#1B9E77" stroke="#1B9E77"/><circle cx="506.1" cy="252.8" r="3.3" fill="#1B9E77" stroke="#1B9E77"/><circle cx="194.8" cy="230.4" r="3.3" fill="#D95F02" stroke="#D95F02"/><circle cx="192.5" cy="350.2" r="3.3" fill="#1B9E77" stroke="#1B9E77"/><circle cx="526.1" cy="528.9" r="3.3" fill="#1B9E77" stroke="#1B9E77"/><circle cx="515.0" cy="315.5" r="3.3" fill="#D95F02" stroke="#D95F02"/><circle cx="530.4" cy="430.4" r="3.3" fill="#1B9E77" stroke="#1B9E77"/><circle cx="200.0" cy="399.4" r="3.3" fill="#1B9E77" stroke="#1B9E77"/><circle cx="198.4" cy="163.8" r="3.3" fill="#1B9E77" stroke="#1B9E77"/><circle cx="185.6" cy="525.5" r="3.3" fill="#D95F02" stroke="#D95F02"/><circle cx="513.3" cy="159.2" r="3.3" fill="#D95F02" stroke="#D95F02"/><circle cx="501.2" cy="155.1" r="3.3" fill="#1B9E77" stroke="#1B9E77"/><circle cx="513.2" cy="209.3" r="3.3" fill="#1B9E77" stroke="#1B9E77"/><circle cx="189.5" cy="470.1" r="3.3" fill="#D95F02" stroke="#D95F02"/><circle cx="206.9" cy="355.6" r="3.3" fill="#D95F02" stroke="#D95F02"/><circle cx="192.3" cy="360.0" r="3.3" fill="#D95F02" stroke="#D95F02"/><circle cx="215.1" cy="324.6" r="3.3" fill="#D95F02" stroke="#D95F02"/><circle cx="196.5" cy="428.9" r="3.3" fill="#1B9E77" stroke="#1B9E77"/><circle cx="199.9" cy="244.2" r="3.3" fill="#D95F02" stroke="#D95F02"/><circle cx="211.1" cy="311.6" r="3.3" fill="#1B9E77" stroke="#1B9E77"/><circle cx="202.4" cy="399.3" r="3.3" fill="#1B9E77" stroke="#1B9E77"/><circle cx="530.6" cy="299.2" r="3.3" fill="#D95F02" stroke="#D95F02"/><circle cx="500.7" cy="312.3" r="3.3" fill="#D95F02" stroke="#D95F02"/><circle cx="191.9" cy="313.3" r="3.3" fill="#D95F02" stroke="#D95F02"/><circle cx="528.5" cy="213.5" r="3.3" fill="#1B9E77" stroke="#1B9E77"/><circle cx="529.9" cy="402.3" r="3.3" fill="#D95F02" stroke="#D95F02"/><circle cx="511.2" cy="389.8" r="3.3" fill="#D95F02" stroke="#D95F02"/><circle cx="509.5" cy="451.0" r="3.3" fill="#D95F02" stroke="#D95F02"/><circle cx="192.3" cy="483.2" r="3.3" fill="#1B9E77" stroke="#1B9E77"/><circle cx="515.5" cy="162.6" r="3.3" fill="#D95F02" stroke="#D95F02"/><circle cx="188.9" cy="340.3" r="3.3" fill="#D95F02" stroke="#D95F02"/><circle cx="508.7" cy="437.8" r="3.3" fill="#1B9E77" stroke="#1B9E77"/><circle cx="209.9" cy="495.2" r="3.3" fill="#D95F02" stroke="#D95F02"/><circle cx="504.7" cy="231.8" r="3.3" fill="#1B9E77" stroke="#1B9E77"/><circle cx="505.2" cy="244.4" r="3.3" fill="#1B9E77" stroke="#1B9E77"/><circle cx="204.3" cy="336.2" r="3.3" fill="#1B9E77" stroke="#1B9E77"/><circle cx="522.3" cy="396.0" r="3.3" fill="#1B9E77" stroke="#1B9E77"/><circle cx="504.7" cy="326.4" r="3.3" fill="#D95F02" stroke="#D95F02"/><circle cx="190.8" cy="325.9" r="3.3" fill="#D95F02" stroke="#D95F02"/><circle cx="514.8" cy="238.3" r="3.3" fill="#D95F02" stroke="#D95F02"/><circle cx="199.0" cy="404.0" r="3.3" fill="#1B9E77" stroke="#1B9E77"/><circle cx="194.6" cy="504.9" r="3.3" fill="#D95F02" stroke="#D95F02"/><circle cx="502.3" cy="452.9" r="3.3" fill="#D95F02" stroke="#D95F02"/><circle cx="199.7" cy="334.5" r="3.3" fill="#D95F02" stroke="#D95F02"/><circle cx="214.0" cy="506.0" r="3.3" fill="#1B9E77" stroke="#1B9E77"/><circle cx="187.2" cy="332.7" r="3.3" fill="#D95F02" stroke="#D95F02"/><circle cx="511.3" cy="452.2" r="3.3" fill="#1B9E77" stroke="#1B9E77"/><circle cx="529.2" cy="472.6" r="3.3" fill="#1B9E77" stroke="#1B9E77"/><circle cx="199.3" cy="452.8" r="3.3" fill="#1B9E77" stroke="#1B9E77"/><circle cx="512.2" cy="315.8" r="3.3" fill="#1B9E77" stroke="#1B9E77"/><circle cx="210.9" cy="333.8" r="3.3" fill="#D95F02" stroke="#D95F02"/><circle cx="507.0" cy="397.1" r="3.3" fill="#D95F02" stroke="#D95F02"/><circle cx="525.3" cy="341.1" r="3.3" fill="#1B9E77" stroke="#1B9E77"/><circle cx="506.3" cy="310.9" r="3.3" fill="#D95F02" stroke="#D95F02"/><circle cx="528.2" cy="298.3" r="3.3" fill="#1B9E77" stroke="#1B9E77"/><circle cx="213.3" cy="290.4" r="3.3" fill="#D95F02" stroke="#D95F02"/><circle cx="208.1" cy="226.2" r="3.3" fill="#D95F02" stroke="#D95F02"/><circle cx="189.2" cy="354.1" r="3.3" fill="#1B9E77" stroke="#1B9E77"/><circle cx="191.2" cy="287.6" r="3.3" fill="#D95F02" stroke="#D95F02"/><circle cx="185.4" cy="284.9" r="3.3" fill="#1B9E77" stroke="#1B9E77"/><circle cx="198.2" cy="338.1" r="3.3" fill="#1B9E77" stroke="#1B9E77"/><circle cx="201.4" cy="383.6" r="3.3" fill="#1B9E77" stroke="#1B9E77"/><circle cx="516.6" cy="250.4" r="3.3" fill="#D95F02" stroke="#D95F02"/><circle cx="509.7" cy="156.7" r="3.3" fill="#1B9E77" stroke="#1B9E77"/><circle cx="209.9" cy="322.9" r="3.3" fill="#1B9E77" stroke="#1B9E77"/><circle cx="518.1" cy="506.7" r="3.3" fill="#D95F02" stroke="#D95F02"/><circle cx="215.7" cy="445.8" r="3.3" fill="#1B9E77" stroke="#1B9E77"/><circle cx="212.7" cy="202.6" r="3.3" fill="#D95F02" stroke="#D95F02"/><circle cx="214.8" cy="558.1" r="3.3" fill="#D95F02" stroke="#D95F02"/><circle cx="522.8" cy="386.6" r="3.3" fill="#D95F02" stroke="#D95F02"/><circle cx="202.9" cy="431.8" r="3.3" fill="#1B9E77" stroke="#1B9E77"/><circle cx="213.3" cy="239.5" r="3.3" fill="#D95F02" stroke="#D95F02"/><circle cx="512.1" cy="436.6" r="3.3" fill="#D95F02" stroke="#D95F02"/><circle cx="191.9" cy="336.8" r="3.3" fill="#1B9E77" stroke="#1B9E77"/><circle cx="525.9" cy="412.9" r="3.3" fill="#D95F02" stroke="#D95F02"/><circle cx="195.6" cy="475.3" r="3.3" fill="#1B9E77" stroke="#1B9E77"/><circle cx="530.3" cy="505.2" r="3.3" fill="#1B9E77" stroke="#1B9E77"/><circle cx="520.5" cy="255.9" r="3.3" fill="#1B9E77" stroke="#1B9E77"/><circle cx="203.6" cy="449.6" r="3.3" fill="#D95F02" stroke="#D95F02"/><circle cx="186.7" cy="310.0" r="3.3" fill="#D95F02" stroke="#D95F02"/><circle cx="528.3" cy="365.1" r="3.3" fill="#1B9E77" stroke="#1B9E77"/><circle cx="203.0" cy="316.1" r="3.3" fill="#D95F02" stroke="#D95F02"/><circle cx="511.4" cy="492.6" r="3.3" fill="#1B9E77" stroke="#1B9E77"/><circle cx="524.2" cy="260.7" r="3.3" fill="#D95F02" stroke="#D95F02"/><circle cx="501.2" cy="218.7" r="3.3" fill="#1B9E77" stroke="#1B9E77"/><circle cx="514.5" cy="483.0" r="3.3" fill="#D95F02" stroke="#D95F02"/><circle cx="527.3" cy="280.5" r="3.3" fill="#D95F02" stroke="#D95F02"/><circle cx="190.8" cy="183.9" r="3.3" fill="#D95F02" stroke="#D95F02"/><circle cx="529.4" cy="340.5" r="3.3" fill="#1B9E77" stroke="#1B9E77"/><circle cx="526.7" cy="276.7" r="3.3" fill="#1B9E77" stroke="#1B9E77"/><circle cx="198.3" cy="250.5" r="3.3" fill="#D95F02" stroke="#D95F02"/><circle cx="213.0" cy="340.8" r="3.3" fill="#D95F02" stroke="#D95F02"/><circle cx="200.7" cy="256.1" r="3.3" fill="#D95F02" stroke="#D95F02"/><circle cx="211.4" cy="380.6" r="3.3" fill="#1B9E77" stroke="#1B9E77"/><circle cx="518.6" cy="289.7" r="3.3" fill="#D95F02" stroke="#D95F02"/><circle cx="203.1" cy="411.1" r="3.3" fill="#1B9E77" stroke="#1B9E77"/><circle cx="520.8" cy="399.3" r="3.3" fill="#1B9E77" stroke="#1B9E77"/><circle cx="508.0" cy="336.4" r="3.3" fill="#D95F02" stroke="#D95F02"/><circle cx="532.0" cy="555.3" r="3.3" fill="#D95F02" stroke="#D95F02"/><circle cx="526.8" cy="355.3" r="3.3" fill="#D95F02" stroke="#D95F02"/><circle cx="526.1" cy="453.7" r="3.3" fill="#1B9E77" stroke="#1B9E77"/><circle cx="504.1" cy="340.2" r="3.3" fill="#1B9E77" stroke="#1B9E77"/><circle cx="186.0" cy="281.8" r="3.3" fill="#D95F02" stroke="#D95F02"/><circle cx="511.4" cy="205.6" r="3.3" fill="#D95F02" stroke="#D95F02"/><circle cx="518.0" cy="446.3" r="3.3" fill="#1B9E77" stroke="#1B9E77"/><circle cx="213.1" cy="280.7" r="3.3" fill="#D95F02" stroke="#D95F02"/><circle cx="195.0" cy="206.2" r="3.3" fill="#1B9E77" stroke="#1B9E77"/><circle cx="529.8" cy="378.7" r="3.3" fill="#D95F02" stroke="#D95F02"/><circle cx="189.3" cy="324.7" r="3.3" fill="#1B9E77" stroke="#1B9E77"/><circle cx="525.7" cy="237.5" r="3.3" fill="#1B9E77" stroke="#1B9E77"/><circle cx="216.9" cy="243.1" r="3.3" fill="#1B9E77" stroke="#1B9E77"/><circle cx="525.7" cy="242.6" r="3.3" fill="#1B9E77" stroke="#1B9E77"/><circle cx="530.9" cy="312.2" r="3.3" fill="#D95F02" stroke="#D95F02"/><circle cx="531.4" cy="336.4" r="3.3" fill="#D95F02" stroke="#D95F02"/><circle cx="204.3" cy="312.2" r="3.3" fill="#1B9E77" stroke="#1B9E77"/><circle cx="502.4" cy="259.3" r="3.3" fill="#1B9E77" stroke="#1B9E77"/><circle cx="522.3" cy="274.4" r="3.3" fill="#D95F02" stroke="#D95F02"/><circle cx="532.0" cy="397.9" r="3.3" fill="#1B9E77" stroke="#1B9E77"/><circle cx="523.4" cy="382.1" r="3.3" fill="#1B9E77" stroke="#1B9E77"/><circle cx="510.3" cy="260.3" r="3.3" fill="#1B9E77" stroke="#1B9E77"/><circle cx="501.8" cy="322.8" r="3.3" fill="#1B9E77" stroke="#1B9E77"/><circle cx="203.5" cy="324.8" r="3.3" fill="#1B9E77" stroke="#1B9E77"/><circle cx="193.5" cy="276.7" r="3.3" fill="#D95F02" stroke="#D95F02"/><circle cx="500.7" cy="455.4" r="3.3" fill="#1B9E77" stroke="#1B9E77"/><circle cx="528.8" cy="472.9" r="3.3" fill="#1B9E77" stroke="#1B9E77"/><circle cx="211.3" cy="254.1" r="3.3" fill="#1B9E77" stroke="#1B9E77"/><circle cx="524.1" cy="462.7" r="3.3" fill="#1B9E77" stroke="#1B9E77"/><circle cx="502.8" cy="436.0" r="3.3" fill="#1B9E77" stroke="#1B9E77"/><circle cx="510.5" cy="177.8" r="3.3" fill="#1B9E77" stroke="#1B9E77"/><circle cx="213.5" cy="381.7" r="3.3" fill="#1B9E77" stroke="#1B9E77"/><circle cx="510.3" cy="283.6" r="3.3" fill="#1B9E77" stroke="#1B9E77"/><circle cx="200.5" cy="291.9" r="3.3" fill="#1B9E77" stroke="#1B9E77"/><circle cx="516.3" cy="227.1" r="3.3" fill="#D95F02" stroke="#D95F02"/><circle cx="516.6" cy="473.8" r="3.3" fill="#1B9E77" stroke="#1B9E77"/><circle cx="503.8" cy="470.2" r="3.3" fill="#D95F02" stroke="#D95F02"/><circle cx="504.0" cy="421.1" r="3.3" fill="#1B9E77" stroke="#1B9E77"/><circle cx="188.8" cy="372.5" r="3.3" fill="#1B9E77" stroke="#1B9E77"/><circle cx="214.8" cy="444.1" r="3.3" fill="#D95F02" stroke="#D95F02"/><circle cx="193.1" cy="341.0" r="3.3" fill="#1B9E77" stroke="#1B9E77"/><circle cx="526.0" cy="218.8" r="3.3" fill="#1B9E77" stroke="#1B9E77"/><circle cx="526.6" cy="401.7" r="3.3" fill="#D95F02" stroke="#D95F02"/><circle cx="522.4" cy="339.9" r="3.3" fill="#D95F02" stroke="#D95F02"/><circle cx="185.7" cy="433.5" r="3.3" fill="#1B9E77" stroke="#1B9E77"/><circle cx="215.3" cy="363.0" r="3.3" fill="#1B9E77" stroke="#1B9E77"/><circle cx="518.9" cy="302.7" r="3.3" fill="#1B9E77" stroke="#1B9E77"/><circle cx="528.6" cy="452.3" r="3.3" fill="#D95F02" stroke="#D95F02"/><circle cx="203.0" cy="387.9" r="3.3" fill="#1B9E77" stroke="#1B9E77"/><circle cx="520.1" cy="361.1" r="3.3" fill="#1B9E77" stroke="#1B9E77"/><circle cx="188.4" cy="407.3" r="3.3" fill="#1B9E77" stroke="#1B9E77"/><circle cx="212.1" cy="335.6" r="3.3" fill="#D95F02" stroke="#D95F02"/><circle cx="523.5" cy="408.5" r="3.3" fill="#1B9E77" stroke="#1B9E77"/><circle cx="517.8" cy="526.1" r="3.3" fill="#1B9E77" stroke="#1B9E77"/><circle cx="520.8" cy="292.9" r="3.3" fill="#1B9E77" stroke="#1B9E77"/><circle cx="514.9" cy="278.5" r="3.3" fill="#D95F02" stroke="#D95F02"/><circle cx="505.9" cy="397.7" r="3.3" fill="#D95F02" stroke="#D95F02"/><circle cx="215.0" cy="396.4" r="3.3" fill="#1B9E77" stroke="#1B9E77"/><circle cx="522.6" cy="193.0" r="3.3" fill="#1B9E77" stroke="#1B9E77"/><circle cx="508.3" cy="280.3" r="3.3" fill="#D95F02" stroke="#D95F02"/><circle cx="212.2" cy="340.5" r="3.3" fill="#D95F02" stroke="#D95F02"/><circle cx="518.9" cy="347.1" r="3.3" fill="#D95F02" stroke="#D95F02"/><circle cx="212.4" cy="279.3" r="3.3" fill="#D95F02" stroke="#D95F02"/><circle cx="504.5" cy="239.3" r="3.3" fill="#D95F02" stroke="#D95F02"/><circle cx="216.3" cy="288.1" r="3.3" fill="#D95F02" stroke="#D95F02"/><circle cx="190.1" cy="310.2" r="3.3" fill="#D95F02" stroke="#D95F02"/><circle cx="210.1" cy="178.7" r="3.3" fill="#D95F02" stroke="#D95F02"/><circle cx="531.8" cy="501.4" r="3.3" fill="#D95F02" stroke="#D95F02"/><circle cx="186.2" cy="218.0" r="3.3" fill="#D95F02" stroke="#D95F02"/><circle cx="514.3" cy="201.2" r="3.3" fill="#D95F02" stroke="#D95F02"/><circle cx="523.4" cy="503.7" r="3.3" fill="#1B9E77" stroke="#1B9E77"/><circle cx="518.5" cy="339.5" r="3.3" fill="#D95F02" stroke="#D95F02"/><circle cx="513.7" cy="164.8" r="3.3" fill="#D95F02" stroke="#D95F02"/><circle cx="197.5" cy="403.5" r="3.3" fill="#D95F02" stroke="#D95F02"/><circle cx="209.7" cy="483.0" r="3.3" fill="#D95F02" stroke="#D95F02"/><circle cx="522.9" cy="267.4" r="3.3" fill="#D95F02" stroke="#D95F02"/><circle cx="210.1" cy="308.5" r="3.3" fill="#D95F02" stroke="#D95F02"/><circle cx="532.1" cy="376.1" r="3.3" fill="#D95F02" stroke="#D95F02"/><circle cx="525.2" cy="210.2" r="3.3" fill="#1B9E77" stroke="#1B9E77"/><circle cx="508.6" cy="309.4" r="3.3" fill="#1B9E77" stroke="#1B9E77"/><circle cx="518.9" cy="358.2" r="3.3" fill="#1B9E77" stroke="#1B9E77"/><circle cx="214.5" cy="482.1" r="3.3" fill="#D95F02" stroke="#D95F02"/><circle cx="196.7" cy="226.7" r="3.3" fill="#D95F02" stroke="#D95F02"/><circle cx="526.9" cy="292.0" r="3.3" fill="#1B9E77" stroke="#1B9E77"/><circle cx="520.1" cy="287.8" r="3.3" fill="#1B9E77" stroke="#1B9E77"/><circle cx="211.6" cy="228.6" r="3.3" fill="#D95F02" stroke="#D95F02"/><circle cx="199.8" cy="201.5" r="3.3" fill="#1B9E77" stroke="#1B9E77"/><circle cx="216.6" cy="504.5" r="3.3" fill="#1B9E77" stroke="#1B9E77"/><circle cx="205.1" cy="484.5" r="3.3" fill="#1B9E77" stroke="#1B9E77"/><circle cx="514.4" cy="284.5" r="3.3" fill="#1B9E77" stroke="#1B9E77"/><circle cx="503.4" cy="355.3" r="3.3" fill="#1B9E77" stroke="#1B9E77"/><circle cx="531.4" cy="265.6" r="3.3" fill="#D95F02" stroke="#D95F02"/><circle cx="531.7" cy="438.4" r="3.3" fill="#D95F02" stroke="#D95F02"/><circle cx="209.7" cy="335.6" r="3.3" fill="#D95F02" stroke="#D95F02"/><circle cx="196.1" cy="365.4" r="3.3" fill="#1B9E77" stroke="#1B9E77"/><circle cx="201.0" cy="383.4" r="3.3" fill="#1B9E77" stroke="#1B9E77"/><circle cx="501.3" cy="357.1" r="3.3" fill="#1B9E77" stroke="#1B9E77"/><circle cx="204.0" cy="332.0" r="3.3" fill="#D95F02" stroke="#D95F02"/><circle cx="186.7" cy="452.0" r="3.3" fill="#1B9E77" stroke="#1B9E77"/><circle cx="203.1" cy="313.9" r="3.3" fill="#D95F02" stroke="#D95F02"/><circle cx="501.1" cy="323.8" r="3.3" fill="#1B9E77" stroke="#1B9E77"/><circle cx="207.0" cy="484.6" r="3.3" fill="#D95F02" stroke="#D95F02"/><circle cx="188.0" cy="413.3" r="3.3" fill="#1B9E77" stroke="#1B9E77"/><circle cx="187.3" cy="383.8" r="3.3" fill="#D95F02" stroke="#D95F02"/><circle cx="528.0" cy="487.0" r="3.3" fill="#1B9E77" stroke="#1B9E77"/><circle cx="526.3" cy="164.1" r="3.3" fill="#1B9E77" stroke="#1B9E77"/><circle cx="211.7" cy="214.1" r="3.3" fill="#1B9E77" stroke="#1B9E77"/><circle cx="507.2" cy="282.9" r="3.3" fill="#1B9E77" stroke="#1B9E77"/><circle cx="522.6" cy="420.5" r="3.3" fill="#D95F02" stroke="#D95F02"/><circle cx="502.3" cy="253.9" r="3.3" fill="#1B9E77" stroke="#1B9E77"/><circle cx="526.4" cy="459.5" r="3.3" fill="#D95F02" stroke="#D95F02"/><circle cx="524.4" cy="309.5" r="3.3" fill="#D95F02" stroke="#D95F02"/><circle cx="526.5" cy="476.1" r="3.3" fill="#1B9E77" stroke="#1B9E77"/><circle cx="517.8" cy="501.8" r="3.3" fill="#1B9E77" stroke="#1B9E77"/><circle cx="190.2" cy="650.7" r="3.3" fill="#1B9E77" stroke="#1B9E77"/><circle cx="205.9" cy="278.5" r="3.3" fill="#D95F02" stroke="#D95F02"/><circle cx="523.4" cy="242.2" r="3.3" fill="#1B9E77" stroke="#1B9E77"/><circle cx="210.2" cy="374.0" r="3.3" fill="#D95F02" stroke="#D95F02"/><circle cx="520.4" cy="306.4" r="3.3" fill="#1B9E77" stroke="#1B9E77"/><circle cx="531.0" cy="510.9" r="3.3" fill="#1B9E77" stroke="#1B9E77"/><circle cx="517.1" cy="312.0" r="3.3" fill="#D95F02" stroke="#D95F02"/><circle cx="205.4" cy="358.3" r="3.3" fill="#D95F02" stroke="#D95F02"/><circle cx="199.8" cy="234.3" r="3.3" fill="#1B9E77" stroke="#1B9E77"/><circle cx="189.1" cy="276.7" r="3.3" fill="#1B9E77" stroke="#1B9E77"/><circle cx="212.2" cy="265.9" r="3.3" fill="#D95F02" stroke="#D95F02"/><circle cx="522.7" cy="164.1" r="3.3" fill="#D95F02" stroke="#D95F02"/><circle cx="522.3" cy="204.6" r="3.3" fill="#D95F02" stroke="#D95F02"/><circle cx="506.6" cy="497.9" r="3.3" fill="#1B9E77" stroke="#1B9E77"/><circle cx="214.5" cy="339.7" r="3.3" fill="#1B9E77" stroke="#1B9E77"/><circle cx="530.1" cy="229.2" r="3.3" fill="#D95F02" stroke="#D95F02"/><circle cx="194.0" cy="485.8" r="3.3" fill="#1B9E77" stroke="#1B9E77"/><circle cx="203.0" cy="481.3" r="3.3" fill="#1B9E77" stroke="#1B9E77"/><circle cx="198.4" cy="304.6" r="3.3" fill="#1B9E77" stroke="#1B9E77"/><circle cx="186.9" cy="260.9" r="3.3" fill="#1B9E77" stroke="#1B9E77"/><circle cx="510.0" cy="263.9" r="3.3" fill="#1B9E77" stroke="#1B9E77"/><circle cx="505.3" cy="324.3" r="3.3" fill="#D95F02" stroke="#D95F02"/><circle cx="192.8" cy="485.8" r="3.3" fill="#1B9E77" stroke="#1B9E77"/><circle cx="187.0" cy="184.2" r="3.3" fill="#D95F02" stroke="#D95F02"/><circle cx="514.8" cy="459.0" r="3.3" fill="#D95F02" stroke="#D95F02"/><circle cx="529.8" cy="374.0" r="3.3" fill="#1B9E77" stroke="#1B9E77"/><circle cx="525.9" cy="362.0" r="3.3" fill="#D95F02" stroke="#D95F02"/><circle cx="211.6" cy="204.9" r="3.3" fill="#D95F02" stroke="#D95F02"/><circle cx="205.1" cy="236.0" r="3.3" fill="#D95F02" stroke="#D95F02"/><circle cx="514.2" cy="483.5" r="3.3" fill="#D95F02" stroke="#D95F02"/><circle cx="510.2" cy="389.4" r="3.3" fill="#1B9E77" stroke="#1B9E77"/><circle cx="191.4" cy="182.5" r="3.3" fill="#1B9E77" stroke="#1B9E77"/><circle cx="512.6" cy="524.4" r="3.3" fill="#1B9E77" stroke="#1B9E77"/><circle cx="191.8" cy="508.6" r="3.3" fill="#D95F02" stroke="#D95F02"/><circle cx="504.9" cy="242.5" r="3.3" fill="#D95F02" stroke="#D95F02"/><circle cx="189.2" cy="275.1" r="3.3" fill="#1B9E77" stroke="#1B9E77"/><circle cx="213.0" cy="500.1" r="3.3" fill="#D95F02" stroke="#D95F02"/><circle cx="506.8" cy="215.6" r="3.3" fill="#D95F02" stroke="#D95F02"/><circle cx="502.6" cy="427.1" r="3.3" fill="#1B9E77" stroke="#1B9E77"/><circle cx="201.9" cy="497.2" r="3.3" fill="#1B9E77" stroke="#1B9E77"/><circle cx="191.6" cy="493.5" r="3.3" fill="#D95F02" stroke="#D95F02"/><circle cx="205.0" cy="249.7" r="3.3" fill="#1B9E77" stroke="#1B9E77"/><circle cx="506.7" cy="261.3" r="3.3" fill="#D95F02" stroke="#D95F02"/><circle cx="209.1" cy="459.2" r="3.3" fill="#D95F02" stroke="#D95F02"/><circle cx="215.9" cy="203.5" r="3.3" fill="#D95F02" stroke="#D95F02"/><circle cx="514.3" cy="427.3" r="3.3" fill="#1B9E77" stroke="#1B9E77"/><circle cx="207.0" cy="262.7" r="3.3" fill="#1B9E77" stroke="#1B9E77"/><circle cx="518.4" cy="314.6" r="3.3" fill="#1B9E77" stroke="#1B9E77"/><circle cx="527.3" cy="458.1" r="3.3" fill="#D95F02" stroke="#D95F02"/><circle cx="529.6" cy="381.6" r="3.3" fill="#D95F02" stroke="#D95F02"/><circle cx="531.7" cy="408.1" r="3.3" fill="#1B9E77" stroke="#1B9E77"/><circle cx="509.7" cy="322.8" r="3.3" fill="#1B9E77" stroke="#1B9E77"/><circle cx="216.4" cy="384.2" r="3.3" fill="#1B9E77" stroke="#1B9E77"/><circle cx="208.2" cy="250.8" r="3.3" fill="#D95F02" stroke="#D95F02"/><circle cx="215.7" cy="267.5" r="3.3" fill="#D95F02" stroke="#D95F02"/><circle cx="505.1" cy="408.9" r="3.3" fill="#1B9E77" stroke="#1B9E77"/><circle cx="188.2" cy="406.8" r="3.3" fill="#1B9E77" stroke="#1B9E77"/><circle cx="203.7" cy="406.9" r="3.3" fill="#D95F02" stroke="#D95F02"/><circle cx="201.8" cy="326.3" r="3.3" fill="#D95F02" stroke="#D95F02"/><circle cx="531.1" cy="361.0" r="3.3" fill="#1B9E77" stroke="#1B9E77"/><circle cx="511.5" cy="385.9" r="3.3" fill="#D95F02" stroke="#D95F02"/><circle cx="530.7" cy="524.4" r="3.3" fill="#1B9E77" stroke="#1B9E77"/><circle cx="203.5" cy="506.9" r="3.3" fill="#1B9E77" stroke="#1B9E77"/><circle cx="207.0" cy="260.3" r="3.3" fill="#D95F02" stroke="#D95F02"/><circle cx="214.5" cy="331.7" r="3.3" fill="#1B9E77" stroke="#1B9E77"/><circle cx="525.8" cy="511.1" r="3.3" fill="#1B9E77" stroke="#1B9E77"/><circle cx="501.4" cy="329.8" r="3.3" fill="#D95F02" stroke="#D95F02"/><circle cx="504.5" cy="308.7" r="3.3" fill="#D95F02" stroke="#D95F02"/><circle cx="196.6" cy="302.5" r="3.3" fill="#1B9E77" stroke="#1B9E77"/><circle cx="517.1" cy="287.4" r="3.3" fill="#D95F02" stroke="#D95F02"/><circle cx="192.3" cy="385.3" r="3.3" fill="#D95F02" stroke="#D95F02"/><circle cx="521.8" cy="447.3" r="3.3" fill="#1B9E77" stroke="#1B9E77"/><circle cx="511.5" cy="301.5" r="3.3" fill="#D95F02" stroke="#D95F02"/><circle cx="530.0" cy="327.8" r="3.3" fill="#1B9E77" stroke="#1B9E77"/><circle cx="518.1" cy="256.1" r="3.3" fill="#1B9E77" stroke="#1B9E77"/><circle cx="186.0" cy="505.1" r="3.3" fill="#D95F02" stroke="#D95F02"/><circle cx="213.8" cy="181.6" r="3.3" fill="#D95F02" stroke="#D95F02"/><circle cx="185.6" cy="203.1" r="3.3" fill="#D95F02" stroke="#D95F02"/><circle cx="199.9" cy="396.6" r="3.3" fill="#1B9E77" stroke="#1B9E77"/><circle cx="215.4" cy="461.2" r="3.3" fill="#1B9E77" stroke="#1B9E77"/><circle cx="189.9" cy="284.0" r="3.3" fill="#1B9E77" stroke="#1B9E77"/><circle cx="207.9" cy="267.9" r="3.3" fill="#1B9E77" stroke="#1B9E77"/><circle cx="505.0" cy="306.2" r="3.3" fill="#D95F02" stroke="#D95F02"/><circle cx="204.0" cy="322.6" r="3.3" fill="#D95F02" stroke="#D95F02"/><circle cx="200.9" cy="412.1" r="3.3" fill="#D95F02" stroke="#D95F02"/><circle cx="522.8" cy="360.5" r="3.3" fill="#D95F02" stroke="#D95F02"/><circle cx="519.3" cy="159.9" r="3.3" fill="#D95F02" stroke="#D95F02"/><circle cx="185.4" cy="254.7" r="3.3" fill="#1B9E77" stroke="#1B9E77"/><circle cx="513.9" cy="290.2" r="3.3" fill="#1B9E77" stroke="#1B9E77"/><circle cx="213.6" cy="356.7" r="3.3" fill="#D95F02" stroke="#D95F02"/><circle cx="201.0" cy="209.4" r="3.3" fill="#1B9E77" stroke="#1B9E77"/><circle cx="528.3" cy="240.9" r="3.3" fill="#D95F02" stroke="#D95F02"/><circle cx="528.4" cy="312.5" r="3.3" fill="#D95F02" stroke="#D95F02"/><circle cx="214.4" cy="356.6" r="3.3" fill="#D95F02" stroke="#D95F02"/><circle cx="216.0" cy="493.7" r="3.3" fill="#1B9E77" stroke="#1B9E77"/><circle cx="506.6" cy="290.6" r="3.3" fill="#1B9E77" stroke="#1B9E77"/><circle cx="200.6" cy="316.5" r="3.3" fill="#D95F02" stroke="#D95F02"/><circle cx="192.1" cy="259.9" r="3.3" fill="#D95F02" stroke="#D95F02"/><circle cx="203.7" cy="322.8" r="3.3" fill="#1B9E77" stroke="#1B9E77"/><circle cx="204.9" cy="363.6" r="3.3" fill="#D95F02" stroke="#D95F02"/><circle cx="203.5" cy="215.7" r="3.3" fill="#1B9E77" stroke="#1B9E77"/><circle cx="215.1" cy="194.4" r="3.3" fill="#1B9E77" stroke="#1B9E77"/><circle cx="215.7" cy="433.6" r="3.3" fill="#1B9E77" stroke="#1B9E77"/><circle cx="200.4" cy="184.2" r="3.3" fill="#1B9E77" stroke="#1B9E77"/><circle cx="190.3" cy="402.9" r="3.3" fill="#1B9E77" stroke="#1B9E77"/><circle cx="502.1" cy="261.3" r="3.3" fill="#1B9E77" stroke="#1B9E77"/><circle cx="508.2" cy="302.1" r="3.3" fill="#D95F02" stroke="#D95F02"/><circle cx="515.3" cy="620.5" r="3.3" fill="#1B9E77" stroke="#1B9E77"/><circle cx="205.3" cy="327.0" r="3.3" fill="#1B9E77" stroke="#1B9E77"/><circle cx="519.1" cy="400.1" r="3.3" fill="#1B9E77" stroke="#1B9E77"/><circle cx="186.3" cy="278.7" r="3.3" fill="#D95F02" stroke="#D95F02"/><circle cx="525.8" cy="462.6" r="3.3" fill="#1B9E77" stroke="#1B9E77"/><circle cx="196.0" cy="153.2" r="3.3" fill="#1B9E77" stroke="#1B9E77"/><circle cx="516.6" cy="383.7" r="3.3" fill="#D95F02" stroke="#D95F02"/><circle cx="214.4" cy="358.2" r="3.3" fill="#D95F02" stroke="#D95F02"/><circle cx="529.5" cy="334.5" r="3.3" fill="#1B9E77" stroke="#1B9E77"/><circle cx="188.8" cy="510.6" r="3.3" fill="#1B9E77" stroke="#1B9E77"/><circle cx="511.0" cy="267.3" r="3.3" fill="#1B9E77" stroke="#1B9E77"/><circle cx="503.5" cy="183.0" r="3.3" fill="#1B9E77" stroke="#1B9E77"/><circle cx="211.3" cy="502.9" r="3.3" fill="#D95F02" stroke="#D95F02"/><circle cx="522.8" cy="425.6" r="3.3" fill="#D95F02" stroke="#D95F02"/><circle cx="517.3" cy="333.5" r="3.3" fill="#1B9E77" stroke="#1B9E77"/><circle cx="521.4" cy="312.7" r="3.3" fill="#D95F02" stroke="#D95F02"/><circle cx="206.7" cy="387.9" r="3.3" fill="#1B9E77" stroke="#1B9E77"/><circle cx="505.3" cy="268.0" r="3.3" fill="#1B9E77" stroke="#1B9E77"/><circle cx="513.3" cy="504.4" r="3.3" fill="#1B9E77" stroke="#1B9E77"/><circle cx="530.8" cy="205.5" r="3.3" fill="#D95F02" stroke="#D95F02"/><circle cx="529.7" cy="506.5" r="3.3" fill="#1B9E77" stroke="#1B9E77"/><circle cx="516.8" cy="337.8" r="3.3" fill="#1B9E77" stroke="#1B9E77"/><circle cx="513.3" cy="331.0" r="3.3" fill="#D95F02" stroke="#D95F02"/><circle cx="190.4" cy="283.9" r="3.3" fill="#D95F02" stroke="#D95F02"/><circle cx="505.5" cy="252.3" r="3.3" fill="#1B9E77" stroke="#1B9E77"/><circle cx="211.8" cy="202.3" r="3.3" fill="#1B9E77" stroke="#1B9E77"/><circle cx="186.0" cy="355.7" r="3.3" fill="#1B9E77" stroke="#1B9E77"/><circle cx="518.1" cy="352.1" r="3.3" fill="#1B9E77" stroke="#1B9E77"/><circle cx="193.9" cy="420.0" r="3.3" fill="#D95F02" stroke="#D95F02"/><circle cx="521.0" cy="331.7" r="3.3" fill="#D95F02" stroke="#D95F02"/><circle cx="530.8" cy="298.3" r="3.3" fill="#1B9E77" stroke="#1B9E77"/><circle cx="205.2" cy="373.6" r="3.3" fill="#1B9E77" stroke="#1B9E77"/><circle cx="202.2" cy="236.7" r="3.3" fill="#1B9E77" stroke="#1B9E77"/><circle cx="194.6" cy="298.5" r="3.3" fill="#D95F02" stroke="#D95F02"/><circle cx="518.2" cy="180.7" r="3.3" fill="#D95F02" stroke="#D95F02"/><circle cx="202.1" cy="469.6" r="3.3" fill="#D95F02" stroke="#D95F02"/><circle cx="523.2" cy="341.2" r="3.3" fill="#D95F02" stroke="#D95F02"/><circle cx="209.7" cy="341.1" r="3.3" fill="#D95F02" stroke="#D95F02"/><circle cx="215.8" cy="250.5" r="3.3" fill="#D95F02" stroke="#D95F02"/><circle cx="194.7" cy="238.3" r="3.3" fill="#1B9E77" stroke="#1B9E77"/><circle cx="200.6" cy="331.1" r="3.3" fill="#D95F02" stroke="#D95F02"/><circle cx="216.6" cy="261.8" r="3.3" fill="#1B9E77" stroke="#1B9E77"/><circle cx="528.5" cy="375.4" r="3.3" fill="#D95F02" stroke="#D95F02"/><circle cx="203.2" cy="204.0" r="3.3" fill="#1B9E77" stroke="#1B9E77"/><circle cx="193.0" cy="323.6" r="3.3" fill="#1B9E77" stroke="#1B9E77"/><circle cx="518.6" cy="322.9" r="3.3" fill="#D95F02" stroke="#D95F02"/><circle cx="514.8" cy="322.7" r="3.3" fill="#D95F02" stroke="#D95F02"/><circle cx="209.3" cy="203.9" r="3.3" fill="#1B9E77" stroke="#1B9E77"/><circle cx="203.8" cy="383.2" r="3.3" fill="#D95F02" stroke="#D95F02"/><circle cx="529.8" cy="323.9" r="3.3" fill="#D95F02" stroke="#D95F02"/><circle cx="207.0" cy="267.3" r="3.3" fill="#1B9E77" stroke="#1B9E77"/><circle cx="209.8" cy="357.1" r="3.3" fill="#D95F02" stroke="#D95F02"/><circle cx="199.0" cy="236.6" r="3.3" fill="#D95F02" stroke="#D95F02"/><circle cx="210.4" cy="456.2" r="3.3" fill="#1B9E77" stroke="#1B9E77"/><circle cx="500.7" cy="386.5" r="3.3" fill="#D95F02" stroke="#D95F02"/><circle cx="531.7" cy="307.9" r="3.3" fill="#D95F02" stroke="#D95F02"/><circle cx="185.9" cy="445.2" r="3.3" fill="#D95F02" stroke="#D95F02"/><circle cx="501.6" cy="303.0" r="3.3" fill="#D95F02" stroke="#D95F02"/><circle cx="515.0" cy="303.4" r="3.3" fill="#D95F02" stroke="#D95F02"/><circle cx="511.9" cy="519.0" r="3.3" fill="#D95F02" stroke="#D95F02"/><circle cx="194.8" cy="303.2" r="3.3" fill="#D95F02" stroke="#D95F02"/><circle cx="209.6" cy="361.2" r="3.3" fill="#1B9E77" stroke="#1B9E77"/><circle cx="517.5" cy="237.1" r="3.3" fill="#1B9E77" stroke="#1B9E77"/><circle cx="189.1" cy="160.5" r="3.3" fill="#1B9E77" stroke="#1B9E77"/><circle cx="190.6" cy="231.7" r="3.3" fill="#1B9E77" stroke="#1B9E77"/><circle cx="520.8" cy="311.8" r="3.3" fill="#D95F02" stroke="#D95F02"/><circle cx="194.7" cy="282.2" r="3.3" fill="#D95F02" stroke="#D95F02"/><circle cx="205.2" cy="279.1" r="3.3" fill="#D95F02" stroke="#D95F02"/><circle cx="513.2" cy="570.4" r="3.3" fill="#1B9E77" stroke="#1B9E77"/><circle cx="194.4" cy="352.9" r="3.3" fill="#D95F02" stroke="#D95F02"/><circle cx="209.4" cy="323.0" r="3.3" fill="#1B9E77" stroke="#1B9E77"/><circle cx="201.0" cy="167.8" r="3.3" fill="#D95F02" stroke="#D95F02"/><circle cx="522.7" cy="472.2" r="3.3" fill="#1B9E77" stroke="#1B9E77"/><circle cx="501.4" cy="157.1" r="3.3" fill="#1B9E77" stroke="#1B9E77"/><circle cx="500.9" cy="356.3" r="3.3" fill="#1B9E77" stroke="#1B9E77"/><circle cx="528.7" cy="262.3" r="3.3" fill="#D95F02" stroke="#D95F02"/><circle cx="504.9" cy="372.0" r="3.3" fill="#1B9E77" stroke="#1B9E77"/><circle cx="514.2" cy="290.9" r="3.3" fill="#D95F02" stroke="#D95F02"/><circle cx="201.4" cy="235.8" r="3.3" fill="#1B9E77" stroke="#1B9E77"/><circle cx="510.9" cy="511.0" r="3.3" fill="#1B9E77" stroke="#1B9E77"/><circle cx="531.4" cy="239.3" r="3.3" fill="#1B9E77" stroke="#1B9E77"/><circle cx="194.7" cy="385.9" r="3.3" fill="#D95F02" stroke="#D95F02"/><circle cx="504.0" cy="330.9" r="3.3" fill="#1B9E77" stroke="#1B9E77"/><circle cx="201.8" cy="282.4" r="3.3" fill="#1B9E77" stroke="#1B9E77"/><circle cx="195.5" cy="292.9" r="3.3" fill="#D95F02" stroke="#D95F02"/><circle cx="210.9" cy="189.9" r="3.3" fill="#1B9E77" stroke="#1B9E77"/><circle cx="526.1" cy="251.3" r="3.3" fill="#D95F02" stroke="#D95F02"/><circle cx="518.1" cy="399.6" r="3.3" fill="#1B9E77" stroke="#1B9E77"/><circle cx="195.2" cy="453.8" r="3.3" fill="#1B9E77" stroke="#1B9E77"/><circle cx="522.9" cy="481.3" r="3.3" fill="#1B9E77" stroke="#1B9E77"/><circle cx="198.2" cy="265.4" r="3.3" fill="#D95F02" stroke="#D95F02"/><circle cx="196.7" cy="529.3" r="3.3" fill="#D95F02" stroke="#D95F02"/><circle cx="504.9" cy="387.1" r="3.3" fill="#D95F02" stroke="#D95F02"/><circle cx="196.0" cy="509.4" r="3.3" fill="#1B9E77" stroke="#1B9E77"/><circle cx="204.0" cy="283.8" r="3.3" fill="#1B9E77" stroke="#1B9E77"/><circle cx="510.9" cy="332.1" r="3.3" fill="#1B9E77" stroke="#1B9E77"/><circle cx="213.5" cy="397.8" r="3.3" fill="#D95F02" stroke="#D95F02"/><circle cx="203.4" cy="444.2" r="3.3" fill="#1B9E77" stroke="#1B9E77"/><circle cx="197.9" cy="327.4" r="3.3" fill="#1B9E77" stroke="#1B9E77"/><circle cx="190.6" cy="398.4" r="3.3" fill="#D95F02" stroke="#D95F02"/><circle cx="195.8" cy="195.8" r="3.3" fill="#1B9E77" stroke="#1B9E77"/><circle cx="205.9" cy="484.8" r="3.3" fill="#1B9E77" stroke="#1B9E77"/><circle cx="203.2" cy="227.2" r="3.3" fill="#D95F02" stroke="#D95F02"/><circle cx="190.7" cy="325.6" r="3.3" fill="#D95F02" stroke="#D95F02"/><circle cx="525.3" cy="430.9" r="3.3" fill="#D95F02" stroke="#D95F02"/><circle cx="531.3" cy="277.9" r="3.3" fill="#D95F02" stroke="#D95F02"/><circle cx="191.0" cy="330.3" r="3.3" fill="#1B9E77" stroke="#1B9E77"/><circle cx="525.4" cy="458.5" r="3.3" fill="#D95F02" stroke="#D95F02"/><circle cx="525.0" cy="332.4" r="3.3" fill="#1B9E77" stroke="#1B9E77"/><circle cx="528.7" cy="325.9" r="3.3" fill="#1B9E77" stroke="#1B9E77"/><circle cx="518.4" cy="409.1" r="3.3" fill="#1B9E77" stroke="#1B9E77"/><circle cx="215.2" cy="278.7" r="3.3" fill="#1B9E77" stroke="#1B9E77"/><circle cx="211.9" cy="334.3" r="3.3" fill="#1B9E77" stroke="#1B9E77"/><circle cx="194.7" cy="361.6" r="3.3" fill="#D95F02" stroke="#D95F02"/><circle cx="201.1" cy="486.6" r="3.3" fill="#1B9E77" stroke="#1B9E77"/><circle cx="521.6" cy="178.6" r="3.3" fill="#1B9E77" stroke="#1B9E77"/><circle cx="530.1" cy="426.2" r="3.3" fill="#D95F02" stroke="#D95F02"/><circle cx="514.5" cy="381.7" r="3.3" fill="#1B9E77" stroke="#1B9E77"/><circle cx="520.6" cy="262.9" r="3.3" fill="#D95F02" stroke="#D95F02"/><circle cx="216.2" cy="233.0" r="3.3" fill="#1B9E77" stroke="#1B9E77"/><circle cx="199.1" cy="405.1" r="3.3" fill="#D95F02" stroke="#D95F02"/><circle cx="512.8" cy="384.4" r="3.3" fill="#1B9E77" stroke="#1B9E77"/><circle cx="508.5" cy="461.7" r="3.3" fill="#D95F02" stroke="#D95F02"/><circle cx="512.0" cy="516.9" r="3.3" fill="#1B9E77" stroke="#1B9E77"/><circle cx="524.9" cy="284.6" r="3.3" fill="#1B9E77" stroke="#1B9E77"/><circle cx="501.8" cy="365.6" r="3.3" fill="#D95F02" stroke="#D95F02"/><circle cx="194.8" cy="289.9" r="3.3" fill="#1B9E77" stroke="#1B9E77"/><circle cx="531.4" cy="448.5" r="3.3" fill="#D95F02" stroke="#D95F02"/><circle cx="528.6" cy="266.1" r="3.3" fill="#1B9E77" stroke="#1B9E77"/><circle cx="500.5" cy="299.0" r="3.3" fill="#D95F02" stroke="#D95F02"/><circle cx="199.4" cy="460.3" r="3.3" fill="#D95F02" stroke="#D95F02"/><circle cx="521.9" cy="455.8" r="3.3" fill="#D95F02" stroke="#D95F02"/><circle cx="508.4" cy="526.0" r="3.3" fill="#1B9E77" stroke="#1B9E77"/><circle cx="213.6" cy="399.6" r="3.3" fill="#D95F02" stroke="#D95F02"/><circle cx="506.3" cy="287.8" r="3.3" fill="#D95F02" stroke="#D95F02"/><circle cx="202.0" cy="276.4" r="3.3" fill="#1B9E77" stroke="#1B9E77"/><circle cx="210.0" cy="402.6" r="3.3" fill="#D95F02" stroke="#D95F02"/><circle cx="528.2" cy="349.6" r="3.3" fill="#1B9E77" stroke="#1B9E77"/><circle cx="187.9" cy="403.7" r="3.3" fill="#1B9E77" stroke="#1B9E77"/><circle cx="193.4" cy="276.2" r="3.3" fill="#D95F02" stroke="#D95F02"/><circle cx="526.7" cy="510.2" r="3.3" fill="#1B9E77" stroke="#1B9E77"/><circle cx="505.2" cy="545.8" r="3.3" fill="#1B9E77" stroke="#1B9E77"/><circle cx="509.9" cy="592.5" r="3.3" fill="#D95F02" stroke="#D95F02"/><circle cx="200.1" cy="208.5" r="3.3" fill="#1B9E77" stroke="#1B9E77"/><circle cx="504.7" cy="459.5" r="3.3" fill="#D95F02" stroke="#D95F02"/><circle cx="506.5" cy="235.3" r="3.3" fill="#1B9E77" stroke="#1B9E77"/><circle cx="193.4" cy="156.5" r="3.3" fill="#1B9E77" stroke="#1B9E77"/><circle cx="191.5" cy="299.1" r="3.3" fill="#D95F02" stroke="#D95F02"/><circle cx="188.0" cy="275.3" r="3.3" fill="#D95F02" stroke="#D95F02"/><circle cx="188.7" cy="572.6" r="3.3" fill="#D95F02" stroke="#D95F02"/><circle cx="192.9" cy="307.1" r="3.3" fill="#1B9E77" stroke="#1B9E77"/><circle cx="505.5" cy="504.1" r="3.3" fill="#D95F02" stroke="#D95F02"/><circle cx="194.5" cy="360.6" r="3.3" fill="#D95F02" stroke="#D95F02"/><circle cx="187.6" cy="279.4" r="3.3" fill="#1B9E77" stroke="#1B9E77"/><circle cx="200.9" cy="299.7" r="3.3" fill="#1B9E77" stroke="#1B9E77"/><circle cx="211.1" cy="334.7" r="3.3" fill="#1B9E77" stroke="#1B9E77"/><circle cx="203.4" cy="211.6" r="3.3" fill="#D95F02" stroke="#D95F02"/><circle cx="509.4" cy="278.7" r="3.3" fill="#1B9E77" stroke="#1B9E77"/><circle cx="506.9" cy="426.5" r="3.3" fill="#1B9E77" stroke="#1B9E77"/><circle cx="185.9" cy="333.4" r="3.3" fill="#D95F02" stroke="#D95F02"/><circle cx="197.4" cy="590.7" r="3.3" fill="#D95F02" stroke="#D95F02"/><circle cx="524.5" cy="288.4" r="3.3" fill="#D95F02" stroke="#D95F02"/><circle cx="503.4" cy="478.1" r="3.3" fill="#1B9E77" stroke="#1B9E77"/><circle cx="506.6" cy="279.3" r="3.3" fill="#1B9E77" stroke="#1B9E77"/><circle cx="201.3" cy="349.3" r="3.3" fill="#1B9E77" stroke="#1B9E77"/><circle cx="208.9" cy="201.4" r="3.3" fill="#1B9E77" stroke="#1B9E77"/><circle cx="504.6" cy="218.2" r="3.3" fill="#1B9E77" stroke="#1B9E77"/><circle cx="200.2" cy="277.6" r="3.3" fill="#D95F02" stroke="#D95F02"/><circle cx="502.4" cy="251.2" r="3.3" fill="#1B9E77" stroke="#1B9E77"/><circle cx="202.8" cy="283.2" r="3.3" fill="#1B9E77" stroke="#1B9E77"/><circle cx="529.4" cy="397.3" r="3.3" fill="#1B9E77" stroke="#1B9E77"/><circle cx="199.4" cy="479.0" r="3.3" fill="#1B9E77" stroke="#1B9E77"/><circle cx="216.4" cy="361.2" r="3.3" fill="#1B9E77" stroke="#1B9E77"/><circle cx="190.1" cy="422.4" r="3.3" fill="#D95F02" stroke="#D95F02"/><circle cx="214.6" cy="500.9" r="3.3" fill="#D95F02" stroke="#D95F02"/><circle cx="521.4" cy="263.6" r="3.3" fill="#1B9E77" stroke="#1B9E77"/><circle cx="198.5" cy="511.5" r="3.3" fill="#1B9E77" stroke="#1B9E77"/><circle cx="513.6" cy="274.1" r="3.3" fill="#D95F02" stroke="#D95F02"/><circle cx="502.1" cy="253.6" r="3.3" fill="#1B9E77" stroke="#1B9E77"/><circle cx="212.5" cy="286.4" r="3.3" fill="#1B9E77" stroke="#1B9E77"/><circle cx="528.3" cy="280.2" r="3.3" fill="#1B9E77" stroke="#1B9E77"/><circle cx="505.3" cy="279.0" r="3.3" fill="#D95F02" stroke="#D95F02"/><circle cx="210.3" cy="497.2" r="3.3" fill="#1B9E77" stroke="#1B9E77"/><circle cx="186.7" cy="257.5" r="3.3" fill="#D95F02" stroke="#D95F02"/><circle cx="187.3" cy="597.2" r="3.3" fill="#D95F02" stroke="#D95F02"/><circle cx="519.8" cy="494.4" r="3.3" fill="#1B9E77" stroke="#1B9E77"/><circle cx="207.3" cy="420.3" r="3.3" fill="#D95F02" stroke="#D95F02"/><circle cx="521.2" cy="332.9" r="3.3" fill="#1B9E77" stroke="#1B9E77"/><circle cx="205.0" cy="241.7" r="3.3" fill="#1B9E77" stroke="#1B9E77"/><circle cx="209.0" cy="446.8" r="3.3" fill="#1B9E77" stroke="#1B9E77"/><circle cx="513.5" cy="309.4" r="3.3" fill="#1B9E77" stroke="#1B9E77"/><circle cx="188.9" cy="305.2" r="3.3" fill="#D95F02" stroke="#D95F02"/><circle cx="512.9" cy="240.0" r="3.3" fill="#1B9E77" stroke="#1B9E77"/><circle cx="211.5" cy="362.0" r="3.3" fill="#1B9E77" stroke="#1B9E77"/><circle cx="530.3" cy="478.7" r="3.3" fill="#D95F02" stroke="#D95F02"/><circle cx="201.5" cy="387.6" r="3.3" fill="#1B9E77" stroke="#1B9E77"/><circle cx="532.0" cy="209.5" r="3.3" fill="#D95F02" stroke="#D95F02"/><circle cx="510.9" cy="249.7" r="3.3" fill="#D95F02" stroke="#D95F02"/><circle cx="510.4" cy="324.8" r="3.3" fill="#1B9E77" stroke="#1B9E77"/><circle cx="212.9" cy="330.0" r="3.3" fill="#D95F02" stroke="#D95F02"/><circle cx="526.8" cy="159.5" r="3.3" fill="#D95F02" stroke="#D95F02"/><circle cx="186.6" cy="335.2" r="3.3" fill="#1B9E77" stroke="#1B9E77"/><circle cx="215.7" cy="331.0" r="3.3" fill="#1B9E77" stroke="#1B9E77"/><circle cx="529.1" cy="479.2" r="3.3" fill="#D95F02" stroke="#D95F02"/><circle cx="513.0" cy="497.3" r="3.3" fill="#1B9E77" stroke="#1B9E77"/><circle cx="518.6" cy="284.8" r="3.3" fill="#D95F02" stroke="#D95F02"/><circle cx="520.8" cy="530.4" r="3.3" fill="#D95F02" stroke="#D95F02"/><circle cx="191.0" cy="238.7" r="3.3" fill="#1B9E77" stroke="#1B9E77"/><circle cx="194.3" cy="336.1" r="3.3" fill="#D95F02" stroke="#D95F02"/><circle cx="500.4" cy="351.8" r="3.3" fill="#D95F02" stroke="#D95F02"/><circle cx="512.6" cy="278.4" r="3.3" fill="#1B9E77" stroke="#1B9E77"/><circle cx="514.0" cy="290.6" r="3.3" fill="#1B9E77" stroke="#1B9E77"/><circle cx="512.9" cy="429.8" r="3.3" fill="#D95F02" stroke="#D95F02"/><circle cx="514.5" cy="362.2" r="3.3" fill="#D95F02" stroke="#D95F02"/><circle cx="201.8" cy="250.0" r="3.3" fill="#D95F02" stroke="#D95F02"/><circle cx="504.1" cy="228.9" r="3.3" fill="#D95F02" stroke="#D95F02"/><circle cx="212.9" cy="267.6" r="3.3" fill="#1B9E77" stroke="#1B9E77"/><circle cx="206.0" cy="372.7" r="3.3" fill="#D95F02" stroke="#D95F02"/><circle cx="208.0" cy="305.8" r="3.3" fill="#D95F02" stroke="#D95F02"/><circle cx="504.6" cy="371.2" r="3.3" fill="#D95F02" stroke="#D95F02"/><circle cx="209.6" cy="396.1" r="3.3" fill="#D95F02" stroke="#D95F02"/><circle cx="518.8" cy="292.9" r="3.3" fill="#1B9E77" stroke="#1B9E77"/><circle cx="201.5" cy="302.3" r="3.3" fill="#1B9E77" stroke="#1B9E77"/><circle cx="185.3" cy="382.2" r="3.3" fill="#1B9E77" stroke="#1B9E77"/><circle cx="215.8" cy="268.3" r="3.3" fill="#D95F02" stroke="#D95F02"/><circle cx="514.1" cy="500.4" r="3.3" fill="#1B9E77" stroke="#1B9E77"/><circle cx="526.5" cy="201.5" r="3.3" fill="#1B9E77" stroke="#1B9E77"/><circle cx="193.2" cy="226.9" r="3.3" fill="#1B9E77" stroke="#1B9E77"/><circle cx="519.9" cy="326.0" r="3.3" fill="#1B9E77" stroke="#1B9E77"/><circle cx="521.3" cy="206.3" r="3.3" fill="#D95F02" stroke="#D95F02"/><circle cx="205.0" cy="347.8" r="3.3" fill="#D95F02" stroke="#D95F02"/><circle cx="203.5" cy="313.9" r="3.3" fill="#D95F02" stroke="#D95F02"/><circle cx="188.0" cy="341.5" r="3.3" fill="#D95F02" stroke="#D95F02"/><circle cx="507.5" cy="169.3" r="3.3" fill="#D95F02" stroke="#D95F02"/><circle cx="505.4" cy="426.4" r="3.3" fill="#1B9E77" stroke="#1B9E77"/><circle cx="516.7" cy="494.5" r="3.3" fill="#1B9E77" stroke="#1B9E77"/><circle cx="201.7" cy="324.5" r="3.3" fill="#D95F02" stroke="#D95F02"/><circle cx="207.5" cy="205.6" r="3.3" fill="#D95F02" stroke="#D95F02"/><circle cx="502.3" cy="356.3" r="3.3" fill="#1B9E77" stroke="#1B9E77"/><circle cx="187.7" cy="412.0" r="3.3" fill="#D95F02" stroke="#D95F02"/><circle cx="214.0" cy="334.7" r="3.3" fill="#D95F02" stroke="#D95F02"/><circle cx="500.7" cy="225.5" r="3.3" fill="#D95F02" stroke="#D95F02"/><circle cx="501.1" cy="500.5" r="3.3" fill="#1B9E77" stroke="#1B9E77"/><circle cx="194.5" cy="323.6" r="3.3" fill="#D95F02" stroke="#D95F02"/><circle cx="516.1" cy="268.5" r="3.3" fill="#D95F02" stroke="#D95F02"/><circle cx="210.1" cy="498.9" r="3.3" fill="#1B9E77" stroke="#1B9E77"/><circle cx="204.8" cy="201.9" r="3.3" fill="#D95F02" stroke="#D95F02"/><circle cx="512.4" cy="424.6" r="3.3" fill="#D95F02" stroke="#D95F02"/><circle cx="185.4" cy="217.0" r="3.3" fill="#1B9E77" stroke="#1B9E77"/><circle cx="190.1" cy="401.4" r="3.3" fill="#1B9E77" stroke="#1B9E77"/><circle cx="514.7" cy="243.9" r="3.3" fill="#1B9E77" stroke="#1B9E77"/><circle cx="207.5" cy="301.9" r="3.3" fill="#D95F02" stroke="#D95F02"/><circle cx="205.7" cy="364.9" r="3.3" fill="#D95F02" stroke="#D95F02"/><circle cx="516.8" cy="508.3" r="3.3" fill="#1B9E77" stroke="#1B9E77"/><circle cx="528.6" cy="422.6" r="3.3" fill="#1B9E77" stroke="#1B9E77"/><circle cx="194.8" cy="254.4" r="3.3" fill="#D95F02" stroke="#D95F02"/><circle cx="531.5" cy="408.8" r="3.3" fill="#1B9E77" stroke="#1B9E77"/><circle cx="212.9" cy="431.6" r="3.3" fill="#D95F02" stroke="#D95F02"/><circle cx="190.3" cy="348.9" r="3.3" fill="#1B9E77" stroke="#1B9E77"/><circle cx="202.5" cy="430.9" r="3.3" fill="#D95F02" stroke="#D95F02"/><circle cx="189.7" cy="195.8" r="3.3" fill="#D95F02" stroke="#D95F02"/><circle cx="187.9" cy="404.2" r="3.3" fill="#1B9E77" stroke="#1B9E77"/><circle cx="187.8" cy="276.9" r="3.3" fill="#D95F02" stroke="#D95F02"/><circle cx="214.6" cy="284.9" r="3.3" fill="#1B9E77" stroke="#1B9E77"/><circle cx="217.0" cy="227.1" r="3.3" fill="#D95F02" stroke="#D95F02"/><circle cx="209.4" cy="505.8" r="3.3" fill="#D95F02" stroke="#D95F02"/><circle cx="514.6" cy="372.8" r="3.3" fill="#1B9E77" stroke="#1B9E77"/><circle cx="194.0" cy="255.4" r="3.3" fill="#D95F02" stroke="#D95F02"/><circle cx="206.1" cy="470.5" r="3.3" fill="#D95F02" stroke="#D95F02"/><circle cx="509.8" cy="276.8" r="3.3" fill="#1B9E77" stroke="#1B9E77"/><circle cx="518.2" cy="307.4" r="3.3" fill="#1B9E77" stroke="#1B9E77"/><circle cx="191.3" cy="327.0" r="3.3" fill="#1B9E77" stroke="#1B9E77"/><circle cx="517.9" cy="402.0" r="3.3" fill="#D95F02" stroke="#D95F02"/><circle cx="519.3" cy="462.1" r="3.3" fill="#1B9E77" stroke="#1B9E77"/><circle cx="515.5" cy="371.4" r="3.3" fill="#D95F02" stroke="#D95F02"/><circle cx="504.3" cy="230.2" r="3.3" fill="#1B9E77" stroke="#1B9E77"/><circle cx="195.3" cy="167.0" r="3.3" fill="#D95F02" stroke="#D95F02"/><circle cx="186.0" cy="375.9" r="3.3" fill="#1B9E77" stroke="#1B9E77"/><circle cx="203.1" cy="504.8" r="3.3" fill="#1B9E77" stroke="#1B9E77"/><circle cx="210.8" cy="277.4" r="3.3" fill="#D95F02" stroke="#D95F02"/><circle cx="191.5" cy="495.2" r="3.3" fill="#D95F02" stroke="#D95F02"/><circle cx="186.5" cy="193.6" r="3.3" fill="#D95F02" stroke="#D95F02"/><circle cx="522.1" cy="307.6" r="3.3" fill="#D95F02" stroke="#D95F02"/><circle cx="522.5" cy="265.1" r="3.3" fill="#1B9E77" stroke="#1B9E77"/><circle cx="528.8" cy="494.2" r="3.3" fill="#1B9E77" stroke="#1B9E77"/><circle cx="511.0" cy="266.2" r="3.3" fill="#1B9E77" stroke="#1B9E77"/><circle cx="207.2" cy="339.7" r="3.3" fill="#1B9E77" stroke="#1B9E77"/><circle cx="216.1" cy="428.8" r="3.3" fill="#D95F02" stroke="#D95F02"/><circle cx="188.4" cy="329.6" r="3.3" fill="#D95F02" stroke="#D95F02"/><circle cx="507.9" cy="300.8" r="3.3" fill="#1B9E77" stroke="#1B9E77"/><circle cx="509.2" cy="284.5" r="3.3" fill="#D95F02" stroke="#D95F02"/><circle cx="195.7" cy="480.4" r="3.3" fill="#1B9E77" stroke="#1B9E77"/><circle cx="200.1" cy="316.6" r="3.3" fill="#1B9E77" stroke="#1B9E77"/><circle cx="500.5" cy="251.5" r="3.3" fill="#D95F02" stroke="#D95F02"/><circle cx="203.5" cy="265.4" r="3.3" fill="#D95F02" stroke="#D95F02"/><circle cx="510.6" cy="421.7" r="3.3" fill="#D95F02" stroke="#D95F02"/><circle cx="190.0" cy="377.5" r="3.3" fill="#D95F02" stroke="#D95F02"/><circle cx="506.7" cy="332.6" r="3.3" fill="#1B9E77" stroke="#1B9E77"/><circle cx="213.7" cy="524.2" r="3.3" fill="#1B9E77" stroke="#1B9E77"/><circle cx="507.2" cy="235.7" r="3.3" fill="#D95F02" stroke="#D95F02"/><circle cx="186.4" cy="229.6" r="3.3" fill="#1B9E77" stroke="#1B9E77"/><circle cx="201.5" cy="477.0" r="3.3" fill="#D95F02" stroke="#D95F02"/><circle cx="503.3" cy="437.8" r="3.3" fill="#D95F02" stroke="#D95F02"/><circle cx="514.6" cy="255.8" r="3.3" fill="#1B9E77" stroke="#1B9E77"/><circle cx="523.0" cy="340.4" r="3.3" fill="#D95F02" stroke="#D95F02"/><circle cx="187.0" cy="304.3" r="3.3" fill="#D95F02" stroke="#D95F02"/><circle cx="528.8" cy="413.4" r="3.3" fill="#D95F02" stroke="#D95F02"/><circle cx="530.3" cy="408.3" r="3.3" fill="#D95F02" stroke="#D95F02"/><circle cx="519.0" cy="434.1" r="3.3" fill="#D95F02" stroke="#D95F02"/><circle cx="214.3" cy="261.8" r="3.3" fill="#D95F02" stroke="#D95F02"/><circle cx="189.1" cy="309.1" r="3.3" fill="#D95F02" stroke="#D95F02"/><circle cx="515.2" cy="361.1" r="3.3" fill="#D95F02" stroke="#D95F02"/><circle cx="511.5" cy="325.6" r="3.3" fill="#D95F02" stroke="#D95F02"/><circle cx="523.1" cy="229.5" r="3.3" fill="#D95F02" stroke="#D95F02"/><circle cx="198.9" cy="354.8" r="3.3" fill="#D95F02" stroke="#D95F02"/><circle cx="186.1" cy="313.9" r="3.3" fill="#1B9E77" stroke="#1B9E77"/><circle cx="202.7" cy="213.3" r="3.3" fill="#1B9E77" stroke="#1B9E77"/><circle cx="510.4" cy="313.2" r="3.3" fill="#D95F02" stroke="#D95F02"/><circle cx="197.3" cy="379.7" r="3.3" fill="#1B9E77" stroke="#1B9E77"/><circle cx="204.6" cy="403.1" r="3.3" fill="#D95F02" stroke="#D95F02"/><circle cx="506.8" cy="264.3" r="3.3" fill="#1B9E77" stroke="#1B9E77"/><circle cx="192.8" cy="371.2" r="3.3" fill="#D95F02" stroke="#D95F02"/><circle cx="514.0" cy="276.8" r="3.3" fill="#1B9E77" stroke="#1B9E77"/><circle cx="196.1" cy="178.0" r="3.3" fill="#D95F02" stroke="#D95F02"/><circle cx="522.9" cy="533.6" r="3.3" fill="#1B9E77" stroke="#1B9E77"/><circle cx="196.5" cy="235.9" r="3.3" fill="#1B9E77" stroke="#1B9E77"/><circle cx="192.0" cy="289.4" r="3.3" fill="#1B9E77" stroke="#1B9E77"/><circle cx="213.0" cy="243.0" r="3.3" fill="#D95F02" stroke="#D95F02"/><circle cx="208.9" cy="304.5" r="3.3" fill="#1B9E77" stroke="#1B9E77"/><circle cx="208.5" cy="152.6" r="3.3" fill="#D95F02" stroke="#D95F02"/><circle cx="210.0" cy="499.5" r="3.3" fill="#1B9E77" stroke="#1B9E77"/><circle cx="502.1" cy="251.2" r="3.3" fill="#1B9E77" stroke="#1B9E77"/><circle cx="197.2" cy="458.7" r="3.3" fill="#1B9E77" stroke="#1B9E77"/><circle cx="187.7" cy="238.8" r="3.3" fill="#D95F02" stroke="#D95F02"/><circle cx="200.7" cy="263.7" r="3.3" fill="#1B9E77" stroke="#1B9E77"/><circle cx="527.7" cy="201.2" r="3.3" fill="#D95F02" stroke="#D95F02"/><circle cx="202.2" cy="193.4" r="3.3" fill="#D95F02" stroke="#D95F02"/><circle cx="192.7" cy="429.4" r="3.3" fill="#1B9E77" stroke="#1B9E77"/><circle cx="191.5" cy="359.0" r="3.3" fill="#1B9E77" stroke="#1B9E77"/><circle cx="197.3" cy="304.7" r="3.3" fill="#1B9E77" stroke="#1B9E77"/><circle cx="501.1" cy="291.7" r="3.3" fill="#1B9E77" stroke="#1B9E77"/><circle cx="208.2" cy="410.4" r="3.3" fill="#D95F02" stroke="#D95F02"/><circle cx="187.3" cy="424.1" r="3.3" fill="#1B9E77" stroke="#1B9E77"/><circle cx="186.4" cy="403.1" r="3.3" fill="#D95F02" stroke="#D95F02"/><circle cx="201.5" cy="267.4" r="3.3" fill="#D95F02" stroke="#D95F02"/><circle cx="216.6" cy="261.6" r="3.3" fill="#1B9E77" stroke="#1B9E77"/><circle cx="511.4" cy="255.3" r="3.3" fill="#D95F02" stroke="#D95F02"/><circle cx="200.4" cy="316.4" r="3.3" fill="#1B9E77" stroke="#1B9E77"/><circle cx="525.1" cy="242.3" r="3.3" fill="#1B9E77" stroke="#1B9E77"/><circle cx="186.2" cy="316.6" r="3.3" fill="#1B9E77" stroke="#1B9E77"/><circle cx="522.9" cy="284.6" r="3.3" fill="#1B9E77" stroke="#1B9E77"/><circle cx="186.3" cy="283.3" r="3.3" fill="#1B9E77" stroke="#1B9E77"/><circle cx="523.9" cy="399.5" r="3.3" fill="#1B9E77" stroke="#1B9E77"/><circle cx="525.4" cy="167.3" r="3.3" fill="#D95F02" stroke="#D95F02"/><circle cx="516.0" cy="258.8" r="3.3" fill="#1B9E77" stroke="#1B9E77"/><circle cx="509.7" cy="408.8" r="3.3" fill="#1B9E77" stroke="#1B9E77"/><circle cx="523.8" cy="187.5" r="3.3" fill="#1B9E77" stroke="#1B9E77"/><circle cx="206.3" cy="385.4" r="3.3" fill="#D95F02" stroke="#D95F02"/><circle cx="202.8" cy="365.5" r="3.3" fill="#D95F02" stroke="#D95F02"/><circle cx="514.8" cy="268.3" r="3.3" fill="#D95F02" stroke="#D95F02"/><circle cx="187.5" cy="277.8" r="3.3" fill="#1B9E77" stroke="#1B9E77"/><circle cx="508.8" cy="303.8" r="3.3" fill="#1B9E77" stroke="#1B9E77"/><circle cx="517.3" cy="474.6" r="3.3" fill="#1B9E77" stroke="#1B9E77"/><circle cx="206.7" cy="424.7" r="3.3" fill="#1B9E77" stroke="#1B9E77"/><circle cx="202.4" cy="326.7" r="3.3" fill="#1B9E77" stroke="#1B9E77"/><circle cx="518.9" cy="364.0" r="3.3" fill="#D95F02" stroke="#D95F02"/><circle cx="508.4" cy="237.7" r="3.3" fill="#1B9E77" stroke="#1B9E77"/><circle cx="515.1" cy="212.6" r="3.3" fill="#D95F02" stroke="#D95F02"/><circle cx="206.0" cy="182.3" r="3.3" fill="#1B9E77" stroke="#1B9E77"/><circle cx="513.8" cy="326.0" r="3.3" fill="#D95F02" stroke="#D95F02"/><circle cx="518.7" cy="261.1" r="3.3" fill="#1B9E77" stroke="#1B9E77"/><circle cx="506.6" cy="261.8" r="3.3" fill="#D95F02" stroke="#D95F02"/><circle cx="531.4" cy="275.5" r="3.3" fill="#D95F02" stroke="#D95F02"/><circle cx="191.0" cy="411.6" r="3.3" fill="#1B9E77" stroke="#1B9E77"/><circle cx="190.3" cy="187.4" r="3.3" fill="#1B9E77" stroke="#1B9E77"/><circle cx="213.3" cy="434.9" r="3.3" fill="#D95F02" stroke="#D95F02"/><circle cx="507.3" cy="329.5" r="3.3" fill="#1B9E77" stroke="#1B9E77"/><circle cx="202.4" cy="408.2" r="3.3" fill="#D95F02" stroke="#D95F02"/><circle cx="187.5" cy="274.1" r="3.3" fill="#1B9E77" stroke="#1B9E77"/><circle cx="208.5" cy="289.5" r="3.3" fill="#D95F02" stroke="#D95F02"/><circle cx="522.9" cy="435.8" r="3.3" fill="#1B9E77" stroke="#1B9E77"/><circle cx="501.9" cy="208.8" r="3.3" fill="#D95F02" stroke="#D95F02"/><circle cx="198.2" cy="256.9" r="3.3" fill="#1B9E77" stroke="#1B9E77"/><circle cx="197.8" cy="306.9" r="3.3" fill="#1B9E77" stroke="#1B9E77"/><circle cx="201.5" cy="445.9" r="3.3" fill="#D95F02" stroke="#D95F02"/><circle cx="521.5" cy="255.8" r="3.3" fill="#1B9E77" stroke="#1B9E77"/><circle cx="190.9" cy="255.4" r="3.3" fill="#D95F02" stroke="#D95F02"/><circle cx="522.1" cy="426.6" r="3.3" fill="#D95F02" stroke="#D95F02"/><circle cx="195.3" cy="331.3" r="3.3" fill="#1B9E77" stroke="#1B9E77"/><circle cx="505.0" cy="638.6" r="3.3" fill="#D95F02" stroke="#D95F02"/><circle cx="512.5" cy="355.1" r="3.3" fill="#1B9E77" stroke="#1B9E77"/><circle cx="195.4" cy="231.5" r="3.3" fill="#1B9E77" stroke="#1B9E77"/><circle cx="203.7" cy="357.5" r="3.3" fill="#D95F02" stroke="#D95F02"/><circle cx="504.1" cy="275.0" r="3.3" fill="#D95F02" stroke="#D95F02"/><circle cx="194.7" cy="347.5" r="3.3" fill="#1B9E77" stroke="#1B9E77"/><circle cx="521.2" cy="403.6" r="3.3" fill="#D95F02" stroke="#D95F02"/><circle cx="212.6" cy="406.3" r="3.3" fill="#D95F02" stroke="#D95F02"/><circle cx="204.5" cy="474.8" r="3.3" fill="#1B9E77" stroke="#1B9E77"/><circle cx="195.5" cy="252.2" r="3.3" fill="#D95F02" stroke="#D95F02"/><circle cx="511.1" cy="428.0" r="3.3" fill="#1B9E77" stroke="#1B9E77"/><circle cx="517.8" cy="359.1" r="3.3" fill="#1B9E77" stroke="#1B9E77"/><circle cx="510.9" cy="328.4" r="3.3" fill="#D95F02" stroke="#D95F02"/><circle cx="517.6" cy="408.6" r="3.3" fill="#1B9E77" stroke="#1B9E77"/><circle cx="196.0" cy="405.7" r="3.3" fill="#D95F02" stroke="#D95F02"/><circle cx="503.4" cy="255.8" r="3.3" fill="#1B9E77" stroke="#1B9E77"/><circle cx="527.7" cy="387.4" r="3.3" fill="#1B9E77" stroke="#1B9E77"/><circle cx="191.3" cy="522.4" r="3.3" fill="#D95F02" stroke="#D95F02"/><circle cx="522.8" cy="235.0" r="3.3" fill="#D95F02" stroke="#D95F02"/><circle cx="522.4" cy="378.7" r="3.3" fill="#D95F02" stroke="#D95F02"/><circle cx="191.9" cy="268.2" r="3.3" fill="#1B9E77" stroke="#1B9E77"/><circle cx="525.0" cy="267.0" r="3.3" fill="#1B9E77" stroke="#1B9E77"/><circle cx="529.4" cy="331.6" r="3.3" fill="#1B9E77" stroke="#1B9E77"/><circle cx="517.0" cy="241.3" r="3.3" fill="#D95F02" stroke="#D95F02"/><circle cx="531.3" cy="414.0" r="3.3" fill="#1B9E77" stroke="#1B9E77"/><circle cx="207.6" cy="261.4" r="3.3" fill="#1B9E77" stroke="#1B9E77"/><circle cx="516.1" cy="483.1" r="3.3" fill="#D95F02" stroke="#D95F02"/><circle cx="530.2" cy="160.1" r="3.3" fill="#D95F02" stroke="#D95F02"/><circle cx="509.0" cy="362.1" r="3.3" fill="#D95F02" stroke="#D95F02"/><circle cx="207.8" cy="364.9" r="3.3" fill="#D95F02" stroke="#D95F02"/><circle cx="194.3" cy="499.2" r="3.3" fill="#1B9E77" stroke="#1B9E77"/><circle cx="530.5" cy="549.5" r="3.3" fill="#1B9E77" stroke="#1B9E77"/><circle cx="209.0" cy="405.2" r="3.3" fill="#D95F02" stroke="#D95F02"/><circle cx="509.2" cy="239.1" r="3.3" fill="#D95F02" stroke="#D95F02"/><circle cx="211.5" cy="361.1" r="3.3" fill="#1B9E77" stroke="#1B9E77"/><circle cx="207.1" cy="286.1" r="3.3" fill="#1B9E77" stroke="#1B9E77"/><circle cx="208.7" cy="235.1" r="3.3" fill="#1B9E77" stroke="#1B9E77"/><circle cx="198.7" cy="355.3" r="3.3" fill="#1B9E77" stroke="#1B9E77"/><circle cx="515.1" cy="315.1" r="3.3" fill="#D95F02" stroke="#D95F02"/><circle cx="514.2" cy="329.4" r="3.3" fill="#D95F02" stroke="#D95F02"/><circle cx="512.1" cy="533.0" r="3.3" fill="#1B9E77" stroke="#1B9E77"/><circle cx="202.1" cy="438.3" r="3.3" fill="#1B9E77" stroke="#1B9E77"/><circle cx="506.7" cy="211.6" r="3.3" fill="#D95F02" stroke="#D95F02"/><circle cx="211.0" cy="517.0" r="3.3" fill="#1B9E77" stroke="#1B9E77"/><circle cx="527.8" cy="437.9" r="3.3" fill="#1B9E77" stroke="#1B9E77"/><circle cx="198.5" cy="185.9" r="3.3" fill="#D95F02" stroke="#D95F02"/><circle cx="208.6" cy="361.4" r="3.3" fill="#1B9E77" stroke="#1B9E77"/><circle cx="508.2" cy="437.6" r="3.3" fill="#D95F02" stroke="#D95F02"/><circle cx="514.2" cy="364.1" r="3.3" fill="#1B9E77" stroke="#1B9E77"/><circle cx="187.5" cy="423.5" r="3.3" fill="#1B9E77" stroke="#1B9E77"/><circle cx="524.7" cy="437.1" r="3.3" fill="#D95F02" stroke="#D95F02"/><circle cx="204.5" cy="472.1" r="3.3" fill="#1B9E77" stroke="#1B9E77"/><circle cx="186.5" cy="420.6" r="3.3" fill="#1B9E77" stroke="#1B9E77"/><circle cx="505.6" cy="283.6" r="3.3" fill="#1B9E77" stroke="#1B9E77"/><circle cx="500.9" cy="448.0" r="3.3" fill="#1B9E77" stroke="#1B9E77"/><circle cx="522.7" cy="264.0" r="3.3" fill="#1B9E77" stroke="#1B9E77"/><circle cx="505.6" cy="451.8" r="3.3" fill="#D95F02" stroke="#D95F02"/><circle cx="212.4" cy="337.6" r="3.3" fill="#D95F02" stroke="#D95F02"/><circle cx="206.8" cy="432.8" r="3.3" fill="#D95F02" stroke="#D95F02"/><circle cx="511.4" cy="429.2" r="3.3" fill="#1B9E77" stroke="#1B9E77"/><circle cx="197.2" cy="278.8" r="3.3" fill="#1B9E77" stroke="#1B9E77"/><circle cx="207.7" cy="204.9" r="3.3" fill="#D95F02" stroke="#D95F02"/><circle cx="504.4" cy="497.9" r="3.3" fill="#1B9E77" stroke="#1B9E77"/><circle cx="194.6" cy="337.6" r="3.3" fill="#1B9E77" stroke="#1B9E77"/><circle cx="512.7" cy="330.1" r="3.3" fill="#1B9E77" stroke="#1B9E77"/><circle cx="504.4" cy="427.2" r="3.3" fill="#1B9E77" stroke="#1B9E77"/><circle cx="501.6" cy="277.4" r="3.3" fill="#1B9E77" stroke="#1B9E77"/><circle cx="521.9" cy="453.0" r="3.3" fill="#D95F02" stroke="#D95F02"/><circle cx="528.7" cy="235.9" r="3.3" fill="#D95F02" stroke="#D95F02"/><circle cx="204.3" cy="401.9" r="3.3" fill="#1B9E77" stroke="#1B9E77"/><circle cx="503.0" cy="251.1" r="3.3" fill="#D95F02" stroke="#D95F02"/><circle cx="516.6" cy="263.3" r="3.3" fill="#1B9E77" stroke="#1B9E77"/><circle cx="510.3" cy="289.3" r="3.3" fill="#D95F02" stroke="#D95F02"/><circle cx="206.9" cy="268.2" r="3.3" fill="#1B9E77" stroke="#1B9E77"/><circle cx="512.8" cy="312.8" r="3.3" fill="#D95F02" stroke="#D95F02"/><circle cx="518.8" cy="281.9" r="3.3" fill="#D95F02" stroke="#D95F02"/><circle cx="187.8" cy="408.0" r="3.3" fill="#1B9E77" stroke="#1B9E77"/><circle cx="529.7" cy="257.9" r="3.3" fill="#D95F02" stroke="#D95F02"/><circle cx="524.9" cy="386.7" r="3.3" fill="#1B9E77" stroke="#1B9E77"/><circle cx="206.3" cy="376.6" r="3.3" fill="#1B9E77" stroke="#1B9E77"/><circle cx="509.1" cy="425.6" r="3.3" fill="#1B9E77" stroke="#1B9E77"/><circle cx="530.6" cy="365.5" r="3.3" fill="#1B9E77" stroke="#1B9E77"/><circle cx="507.7" cy="258.2" r="3.3" fill="#1B9E77" stroke="#1B9E77"/><circle cx="197.1" cy="399.1" r="3.3" fill="#1B9E77" stroke="#1B9E77"/><circle cx="506.4" cy="340.6" r="3.3" fill="#1B9E77" stroke="#1B9E77"/><circle cx="529.0" cy="484.1" r="3.3" fill="#1B9E77" stroke="#1B9E77"/><circle cx="522.9" cy="329.0" r="3.3" fill="#D95F02" stroke="#D95F02"/><circle cx="195.2" cy="349.9" r="3.3" fill="#1B9E77" stroke="#1B9E77"/><circle cx="187.4" cy="359.8" r="3.3" fill="#D95F02" stroke="#D95F02"/><circle cx="505.0" cy="184.7" r="3.3" fill="#1B9E77" stroke="#1B9E77"/><circle cx="212.5" cy="229.9" r="3.3" fill="#D95F02" stroke="#D95F02"/><circle cx="505.6" cy="510.8" r="3.3" fill="#D95F02" stroke="#D95F02"/><circle cx="508.9" cy="363.7" r="3.3" fill="#D95F02" stroke="#D95F02"/><circle cx="505.3" cy="408.1" r="3.3" fill="#1B9E77" stroke="#1B9E77"/><circle cx="500.4" cy="434.5" r="3.3" fill="#D95F02" stroke="#D95F02"/><circle cx="515.3" cy="569.0" r="3.3" fill="#1B9E77" stroke="#1B9E77"/><circle cx="202.0" cy="501.2" r="3.3" fill="#1B9E77" stroke="#1B9E77"/><circle cx="509.7" cy="217.1" r="3.3" fill="#1B9E77" stroke="#1B9E77"/><circle cx="188.6" cy="359.8" r="3.3" fill="#D95F02" stroke="#D95F02"/><circle cx="201.2" cy="159.3" r="3.3" fill="#1B9E77" stroke="#1B9E77"/><circle cx="199.6" cy="236.7" r="3.3" fill="#D95F02" stroke="#D95F02"/><circle cx="521.2" cy="529.1" r="3.3" fill="#1B9E77" stroke="#1B9E77"/><circle cx="212.4" cy="385.2" r="3.3" fill="#1B9E77" stroke="#1B9E77"/><circle cx="192.7" cy="422.5" r="3.3" fill="#D95F02" stroke="#D95F02"/><circle cx="530.5" cy="291.8" r="3.3" fill="#D95F02" stroke="#D95F02"/><circle cx="199.7" cy="358.9" r="3.3" fill="#D95F02" stroke="#D95F02"/><circle cx="195.7" cy="231.9" r="3.3" fill="#1B9E77" stroke="#1B9E77"/><circle cx="512.0" cy="260.5" r="3.3" fill="#1B9E77" stroke="#1B9E77"/><circle cx="196.4" cy="338.9" r="3.3" fill="#1B9E77" stroke="#1B9E77"/><circle cx="515.7" cy="364.0" r="3.3" fill="#D95F02" stroke="#D95F02"/><circle cx="530.6" cy="304.8" r="3.3" fill="#1B9E77" stroke="#1B9E77"/><circle cx="506.1" cy="261.8" r="3.3" fill="#D95F02" stroke="#D95F02"/><circle cx="188.0" cy="335.4" r="3.3" fill="#1B9E77" stroke="#1B9E77"/><circle cx="187.7" cy="286.9" r="3.3" fill="#1B9E77" stroke="#1B9E77"/><circle cx="199.0" cy="365.3" r="3.3" fill="#1B9E77" stroke="#1B9E77"/><circle cx="208.8" cy="359.1" r="3.3" fill="#D95F02" stroke="#D95F02"/><circle cx="513.3" cy="336.4" r="3.3" fill="#D95F02" stroke="#D95F02"/><circle cx="216.9" cy="242.1" r="3.3" fill="#D95F02" stroke="#D95F02"/><circle cx="214.3" cy="352.2" r="3.3" fill="#1B9E77" stroke="#1B9E77"/><circle cx="186.3" cy="336.1" r="3.3" fill="#D95F02" stroke="#D95F02"/><circle cx="524.1" cy="361.3" r="3.3" fill="#1B9E77" stroke="#1B9E77"/><circle cx="500.2" cy="379.1" r="3.3" fill="#D95F02" stroke="#D95F02"/><circle cx="189.0" cy="509.0" r="3.3" fill="#1B9E77" stroke="#1B9E77"/><circle cx="189.2" cy="409.0" r="3.3" fill="#D95F02" stroke="#D95F02"/><circle cx="520.5" cy="473.2" r="3.3" fill="#D95F02" stroke="#D95F02"/><circle cx="188.5" cy="181.8" r="3.3" fill="#1B9E77" stroke="#1B9E77"/><circle cx="193.4" cy="315.8" r="3.3" fill="#1B9E77" stroke="#1B9E77"/><circle cx="514.7" cy="451.9" r="3.3" fill="#D95F02" stroke="#D95F02"/><circle cx="522.1" cy="350.9" r="3.3" fill="#D95F02" stroke="#D95F02"/><circle cx="190.3" cy="227.4" r="3.3" fill="#1B9E77" stroke="#1B9E77"/><circle cx="517.9" cy="201.9" r="3.3" fill="#D95F02" stroke="#D95F02"/><circle cx="202.1" cy="357.1" r="3.3" fill="#1B9E77" stroke="#1B9E77"/><circle cx="212.7" cy="251.8" r="3.3" fill="#D95F02" stroke="#D95F02"/><circle cx="192.6" cy="420.0" r="3.3" fill="#D95F02" stroke="#D95F02"/><circle cx="215.0" cy="203.3" r="3.3" fill="#D95F02" stroke="#D95F02"/><circle cx="206.3" cy="239.1" r="3.3" fill="#1B9E77" stroke="#1B9E77"/><circle cx="513.9" cy="543.0" r="3.3" fill="#1B9E77" stroke="#1B9E77"/><circle cx="501.3" cy="451.5" r="3.3" fill="#1B9E77" stroke="#1B9E77"/><circle cx="511.6" cy="278.8" r="3.3" fill="#1B9E77" stroke="#1B9E77"/><circle cx="199.9" cy="267.7" r="3.3" fill="#D95F02" stroke="#D95F02"/><circle cx="508.8" cy="157.5" r="3.3" fill="#1B9E77" stroke="#1B9E77"/><circle cx="501.4" cy="473.9" r="3.3" fill="#D95F02" stroke="#D95F02"/><circle cx="510.0" cy="170.4" r="3.3" fill="#D95F02" stroke="#D95F02"/><circle cx="195.4" cy="304.5" r="3.3" fill="#D95F02" stroke="#D95F02"/><circle cx="523.4" cy="218.7" r="3.3" fill="#D95F02" stroke="#D95F02"/><circle cx="526.0" cy="458.7" r="3.3" fill="#1B9E77" stroke="#1B9E77"/><circle cx="528.3" cy="419.7" r="3.3" fill="#1B9E77" stroke="#1B9E77"/><circle cx="527.5" cy="217.3" r="3.3" fill="#D95F02" stroke="#D95F02"/><circle cx="215.5" cy="209.1" r="3.3" fill="#D95F02" stroke="#D95F02"/><circle cx="200.8" cy="459.0" r="3.3" fill="#1B9E77" stroke="#1B9E77"/><circle cx="215.8" cy="429.7" r="3.3" fill="#D95F02" stroke="#D95F02"/><circle cx="216.4" cy="457.5" r="3.3" fill="#D95F02" stroke="#D95F02"/><circle cx="529.9" cy="364.8" r="3.3" fill="#1B9E77" stroke="#1B9E77"/><circle cx="521.3" cy="229.4" r="3.3" fill="#D95F02" stroke="#D95F02"/><circle cx="190.5" cy="497.8" r="3.3" fill="#D95F02" stroke="#D95F02"/><circle cx="189.9" cy="428.5" r="3.3" fill="#D95F02" stroke="#D95F02"/><circle cx="509.3" cy="358.3" r="3.3" fill="#D95F02" stroke="#D95F02"/><circle cx="205.4" cy="568.9" r="3.3" fill="#D95F02" stroke="#D95F02"/><circle cx="521.4" cy="450.8" r="3.3" fill="#D95F02" stroke="#D95F02"/><circle cx="516.7" cy="277.1" r="3.3" fill="#D95F02" stroke="#D95F02"/><circle cx="516.0" cy="218.1" r="3.3" fill="#D95F02" stroke="#D95F02"/><circle cx="524.7" cy="235.1" r="3.3" fill="#1B9E77" stroke="#1B9E77"/><circle cx="187.3" cy="310.8" r="3.3" fill="#1B9E77" stroke="#1B9E77"/><circle cx="214.9" cy="305.9" r="3.3" fill="#D95F02" stroke="#D95F02"/><circle cx="512.2" cy="266.4" r="3.3" fill="#D95F02" stroke="#D95F02"/><circle cx="503.2" cy="474.2" r="3.3" fill="#D95F02" stroke="#D95F02"/><circle cx="189.5" cy="379.5" r="3.3" fill="#D95F02" stroke="#D95F02"/><circle cx="507.5" cy="411.6" r="3.3" fill="#D95F02" stroke="#D95F02"/><circle cx="503.4" cy="255.5" r="3.3" fill="#D95F02" stroke="#D95F02"/><circle cx="502.3" cy="386.9" r="3.3" fill="#1B9E77" stroke="#1B9E77"/><circle cx="517.1" cy="479.2" r="3.3" fill="#D95F02" stroke="#D95F02"/><circle cx="511.8" cy="340.8" r="3.3" fill="#D95F02" stroke="#D95F02"/><circle cx="530.3" cy="383.6" r="3.3" fill="#1B9E77" stroke="#1B9E77"/><circle cx="515.8" cy="216.1" r="3.3" fill="#1B9E77" stroke="#1B9E77"/><circle cx="203.9" cy="475.2" r="3.3" fill="#D95F02" stroke="#D95F02"/><circle cx="200.7" cy="302.2" r="3.3" fill="#D95F02" stroke="#D95F02"/><circle cx="205.2" cy="311.6" r="3.3" fill="#D95F02" stroke="#D95F02"/><circle cx="185.7" cy="349.9" r="3.3" fill="#D95F02" stroke="#D95F02"/><circle cx="201.6" cy="316.5" r="3.3" fill="#1B9E77" stroke="#1B9E77"/><circle cx="192.7" cy="411.8" r="3.3" fill="#1B9E77" stroke="#1B9E77"/><circle cx="210.2" cy="323.4" r="3.3" fill="#1B9E77" stroke="#1B9E77"/><circle cx="216.4" cy="423.5" r="3.3" fill="#D95F02" stroke="#D95F02"/><circle cx="501.1" cy="354.6" r="3.3" fill="#D95F02" stroke="#D95F02"/><circle cx="187.9" cy="206.6" r="3.3" fill="#1B9E77" stroke="#1B9E77"/><circle cx="215.4" cy="507.2" r="3.3" fill="#D95F02" stroke="#D95F02"/><circle cx="530.9" cy="462.2" r="3.3" fill="#1B9E77" stroke="#1B9E77"/><circle cx="202.8" cy="252.8" r="3.3" fill="#1B9E77" stroke="#1B9E77"/><circle cx="199.9" cy="361.0" r="3.3" fill="#D95F02" stroke="#D95F02"/><circle cx="202.9" cy="347.7" r="3.3" fill="#D95F02" stroke="#D95F02"/><circle cx="506.4" cy="326.0" r="3.3" fill="#D95F02" stroke="#D95F02"/><circle cx="507.6" cy="403.5" r="3.3" fill="#1B9E77" stroke="#1B9E77"/><circle cx="202.5" cy="437.7" r="3.3" fill="#D95F02" stroke="#D95F02"/><circle cx="502.3" cy="240.2" r="3.3" fill="#1B9E77" stroke="#1B9E77"/><circle cx="204.0" cy="421.9" r="3.3" fill="#D95F02" stroke="#D95F02"/><circle cx="214.8" cy="304.8" r="3.3" fill="#1B9E77" stroke="#1B9E77"/><circle cx="198.4" cy="382.4" r="3.3" fill="#D95F02" stroke="#D95F02"/><circle cx="508.0" cy="378.6" r="3.3" fill="#1B9E77" stroke="#1B9E77"/><circle cx="522.5" cy="242.1" r="3.3" fill="#D95F02" stroke="#D95F02"/><circle cx="532.1" cy="258.0" r="3.3" fill="#1B9E77" stroke="#1B9E77"/><circle cx="525.3" cy="214.5" r="3.3" fill="#D95F02" stroke="#D95F02"/><circle cx="503.2" cy="332.8" r="3.3" fill="#1B9E77" stroke="#1B9E77"/><circle cx="504.4" cy="501.2" r="3.3" fill="#1B9E77" stroke="#1B9E77"/><circle cx="209.7" cy="153.3" r="3.3" fill="#D95F02" stroke="#D95F02"/><circle cx="205.0" cy="362.1" r="3.3" fill="#D95F02" stroke="#D95F02"/><circle cx="518.4" cy="279.6" r="3.3" fill="#1B9E77" stroke="#1B9E77"/><circle cx="204.7" cy="261.0" r="3.3" fill="#1B9E77" stroke="#1B9E77"/><circle cx="505.0" cy="288.6" r="3.3" fill="#D95F02" stroke="#D95F02"/><circle cx="509.5" cy="267.8" r="3.3" fill="#D95F02" stroke="#D95F02"/><circle cx="515.1" cy="325.0" r="3.3" fill="#D95F02" stroke="#D95F02"/><circle cx="501.6" cy="351.3" r="3.3" fill="#1B9E77" stroke="#1B9E77"/><circle cx="211.6" cy="285.3" r="3.3" fill="#1B9E77" stroke="#1B9E77"/><circle cx="500.5" cy="153.6" r="3.3" fill="#D95F02" stroke="#D95F02"/><circle cx="194.0" cy="267.9" r="3.3" fill="#D95F02" stroke="#D95F02"/><circle cx="191.5" cy="190.8" r="3.3" fill="#1B9E77" stroke="#1B9E77"/><circle cx="216.7" cy="307.8" r="3.3" fill="#D95F02" stroke="#D95F02"/><circle cx="213.3" cy="265.3" r="3.3" fill="#D95F02" stroke="#D95F02"/><circle cx="206.0" cy="340.2" r="3.3" fill="#D95F02" stroke="#D95F02"/><circle cx="202.4" cy="184.6" r="3.3" fill="#D95F02" stroke="#D95F02"/><circle cx="500.3" cy="481.4" r="3.3" fill="#1B9E77" stroke="#1B9E77"/><circle cx="505.0" cy="311.4" r="3.3" fill="#D95F02" stroke="#D95F02"/><circle cx="522.0" cy="231.0" r="3.3" fill="#1B9E77" stroke="#1B9E77"/><circle cx="211.0" cy="322.9" r="3.3" fill="#D95F02" stroke="#D95F02"/><circle cx="515.6" cy="316.1" r="3.3" fill="#1B9E77" stroke="#1B9E77"/><circle cx="196.5" cy="424.3" r="3.3" fill="#D95F02" stroke="#D95F02"/><circle cx="526.3" cy="533.8" r="3.3" fill="#D95F02" stroke="#D95F02"/><circle cx="188.3" cy="300.6" r="3.3" fill="#D95F02" stroke="#D95F02"/><circle cx="523.7" cy="402.2" r="3.3" fill="#1B9E77" stroke="#1B9E77"/><circle cx="529.5" cy="360.1" r="3.3" fill="#D95F02" stroke="#D95F02"/><circle cx="528.8" cy="316.6" r="3.3" fill="#D95F02" stroke="#D95F02"/><circle cx="515.7" cy="358.3" r="3.3" fill="#D95F02" stroke="#D95F02"/><circle cx="204.5" cy="510.7" r="3.3" fill="#D95F02" stroke="#D95F02"/><circle cx="185.3" cy="284.9" r="3.3" fill="#1B9E77" stroke="#1B9E77"/><circle cx="524.9" cy="479.3" r="3.3" fill="#1B9E77" stroke="#1B9E77"/><circle cx="202.3" cy="384.9" r="3.3" fill="#D95F02" stroke="#D95F02"/><circle cx="193.0" cy="328.7" r="3.3" fill="#D95F02" stroke="#D95F02"/><circle cx="209.9" cy="456.3" r="3.3" fill="#D95F02" stroke="#D95F02"/><circle cx="197.4" cy="230.3" r="3.3" fill="#D95F02" stroke="#D95F02"/><circle cx="531.4" cy="477.3" r="3.3" fill="#1B9E77" stroke="#1B9E77"/><circle cx="208.5" cy="164.0" r="3.3" fill="#1B9E77" stroke="#1B9E77"/><circle cx="528.2" cy="451.2" r="3.3" fill="#1B9E77" stroke="#1B9E77"/><circle cx="205.2" cy="216.3" r="3.3" fill="#D95F02" stroke="#D95F02"/><circle cx="518.4" cy="421.5" r="3.3" fill="#1B9E77" stroke="#1B9E77"/><circle cx="509.9" cy="388.1" r="3.3" fill="#D95F02" stroke="#D95F02"/><circle cx="207.2" cy="252.3" r="3.3" fill="#1B9E77" stroke="#1B9E77"/><circle cx="190.8" cy="160.2" r="3.3" fill="#1B9E77" stroke="#1B9E77"/><circle cx="198.5" cy="264.3" r="3.3" fill="#D95F02" stroke="#D95F02"/><circle cx="517.8" cy="435.2" r="3.3" fill="#1B9E77" stroke="#1B9E77"/><circle cx="512.5" cy="286.4" r="3.3" fill="#1B9E77" stroke="#1B9E77"/><circle cx="519.2" cy="185.7" r="3.3" fill="#D95F02" stroke="#D95F02"/><circle cx="506.5" cy="315.0" r="3.3" fill="#D95F02" stroke="#D95F02"/><circle cx="213.8" cy="472.8" r="3.3" fill="#1B9E77" stroke="#1B9E77"/><circle cx="192.9" cy="408.9" r="3.3" fill="#1B9E77" stroke="#1B9E77"/><circle cx="504.6" cy="264.7" r="3.3" fill="#D95F02" stroke="#D95F02"/><circle cx="500.7" cy="238.3" r="3.3" fill="#1B9E77" stroke="#1B9E77"/><circle cx="515.6" cy="191.6" r="3.3" fill="#1B9E77" stroke="#1B9E77"/><circle cx="190.6" cy="301.1" r="3.3" fill="#D95F02" stroke="#D95F02"/><circle cx="197.5" cy="287.7" r="3.3" fill="#D95F02" stroke="#D95F02"/><circle cx="202.2" cy="401.8" r="3.3" fill="#D95F02" stroke="#D95F02"/><circle cx="519.9" cy="519.4" r="3.3" fill="#1B9E77" stroke="#1B9E77"/><circle cx="508.3" cy="355.7" r="3.3" fill="#D95F02" stroke="#D95F02"/><circle cx="505.9" cy="153.0" r="3.3" fill="#D95F02" stroke="#D95F02"/><circle cx="197.8" cy="445.0" r="3.3" fill="#D95F02" stroke="#D95F02"/><circle cx="211.7" cy="286.5" r="3.3" fill="#1B9E77" stroke="#1B9E77"/><circle cx="531.5" cy="334.7" r="3.3" fill="#1B9E77" stroke="#1B9E77"/><circle cx="196.0" cy="584.1" r="3.3" fill="#1B9E77" stroke="#1B9E77"/><circle cx="519.2" cy="276.1" r="3.3" fill="#D95F02" stroke="#D95F02"/><circle cx="198.0" cy="339.2" r="3.3" fill="#D95F02" stroke="#D95F02"/><circle cx="513.3" cy="259.6" r="3.3" fill="#1B9E77" stroke="#1B9E77"/><circle cx="204.0" cy="494.0" r="3.3" fill="#1B9E77" stroke="#1B9E77"/><circle cx="194.1" cy="527.6" r="3.3" fill="#1B9E77" stroke="#1B9E77"/><circle cx="518.7" cy="255.2" r="3.3" fill="#D95F02" stroke="#D95F02"/><circle cx="521.5" cy="327.0" r="3.3" fill="#D95F02" stroke="#D95F02"/><circle cx="188.6" cy="355.9" r="3.3" fill="#D95F02" stroke="#D95F02"/><circle cx="531.6" cy="188.7" r="3.3" fill="#D95F02" stroke="#D95F02"/><circle cx="508.1" cy="374.5" r="3.3" fill="#1B9E77" stroke="#1B9E77"/><circle cx="186.7" cy="303.6" r="3.3" fill="#D95F02" stroke="#D95F02"/><circle cx="198.5" cy="341.5" r="3.3" fill="#D95F02" stroke="#D95F02"/><circle cx="192.4" cy="549.4" r="3.3" fill="#D95F02" stroke="#D95F02"/><circle cx="527.5" cy="530.3" r="3.3" fill="#1B9E77" stroke="#1B9E77"/><circle cx="196.7" cy="308.6" r="3.3" fill="#1B9E77" stroke="#1B9E77"/><circle cx="523.0" cy="521.5" r="3.3" fill="#1B9E77" stroke="#1B9E77"/><circle cx="185.4" cy="301.1" r="3.3" fill="#D95F02" stroke="#D95F02"/><circle cx="500.7" cy="234.6" r="3.3" fill="#D95F02" stroke="#D95F02"/><circle cx="188.6" cy="254.0" r="3.3" fill="#1B9E77" stroke="#1B9E77"/><circle cx="512.9" cy="314.4" r="3.3" fill="#D95F02" stroke="#D95F02"/><circle cx="194.7" cy="471.3" r="3.3" fill="#1B9E77" stroke="#1B9E77"/><circle cx="505.3" cy="207.4" r="3.3" fill="#D95F02" stroke="#D95F02"/><circle cx="515.3" cy="242.5" r="3.3" fill="#D95F02" stroke="#D95F02"/><circle cx="525.2" cy="302.7" r="3.3" fill="#D95F02" stroke="#D95F02"/><circle cx="215.3" cy="349.8" r="3.3" fill="#1B9E77" stroke="#1B9E77"/><circle cx="504.2" cy="253.0" r="3.3" fill="#D95F02" stroke="#D95F02"/><circle cx="192.8" cy="218.9" r="3.3" fill="#1B9E77" stroke="#1B9E77"/><circle cx="187.7" cy="165.8" r="3.3" fill="#1B9E77" stroke="#1B9E77"/><circle cx="521.2" cy="274.0" r="3.3" fill="#D95F02" stroke="#D95F02"/><circle cx="530.1" cy="504.8" r="3.3" fill="#D95F02" stroke="#D95F02"/><circle cx="217.1" cy="276.3" r="3.3" fill="#D95F02" stroke="#D95F02"/><circle cx="527.7" cy="324.5" r="3.3" fill="#1B9E77" stroke="#1B9E77"/><circle cx="194.5" cy="314.4" r="3.3" fill="#D95F02" stroke="#D95F02"/><circle cx="517.6" cy="500.8" r="3.3" fill="#D95F02" stroke="#D95F02"/><circle cx="526.9" cy="584.2" r="3.3" fill="#1B9E77" stroke="#1B9E77"/><circle cx="186.9" cy="350.9" r="3.3" fill="#1B9E77" stroke="#1B9E77"/><circle cx="504.3" cy="510.7" r="3.3" fill="#1B9E77" stroke="#1B9E77"/><circle cx="526.4" cy="291.6" r="3.3" fill="#D95F02" stroke="#D95F02"/><circle cx="518.0" cy="406.3" r="3.3" fill="#D95F02" stroke="#D95F02"/><circle cx="189.3" cy="237.3" r="3.3" fill="#1B9E77" stroke="#1B9E77"/><circle cx="185.6" cy="450.7" r="3.3" fill="#D95F02" stroke="#D95F02"/><circle cx="201.5" cy="471.1" r="3.3" fill="#D95F02" stroke="#D95F02"/><circle cx="193.6" cy="502.1" r="3.3" fill="#1B9E77" stroke="#1B9E77"/><circle cx="524.6" cy="381.2" r="3.3" fill="#D95F02" stroke="#D95F02"/><circle cx="506.8" cy="323.7" r="3.3" fill="#1B9E77" stroke="#1B9E77"/><circle cx="531.9" cy="476.0" r="3.3" fill="#D95F02" stroke="#D95F02"/><circle cx="514.7" cy="458.4" r="3.3" fill="#1B9E77" stroke="#1B9E77"/><circle cx="186.7" cy="332.1" r="3.3" fill="#1B9E77" stroke="#1B9E77"/><circle cx="189.4" cy="361.4" r="3.3" fill="#D95F02" stroke="#D95F02"/><circle cx="192.8" cy="268.4" r="3.3" fill="#D95F02" stroke="#D95F02"/><circle cx="507.9" cy="414.0" r="3.3" fill="#1B9E77" stroke="#1B9E77"/><circle cx="204.9" cy="450.6" r="3.3" fill="#1B9E77" stroke="#1B9E77"/><circle cx="525.4" cy="274.4" r="3.3" fill="#D95F02" stroke="#D95F02"/><circle cx="209.6" cy="387.0" r="3.3" fill="#D95F02" stroke="#D95F02"/><circle cx="509.0" cy="386.9" r="3.3" fill="#1B9E77" stroke="#1B9E77"/><circle cx="511.2" cy="378.2" r="3.3" fill="#D95F02" stroke="#D95F02"/><circle cx="209.8" cy="334.0" r="3.3" fill="#D95F02" stroke="#D95F02"/><circle cx="506.8" cy="300.1" r="3.3" fill="#1B9E77" stroke="#1B9E77"/><circle cx="507.9" cy="292.5" r="3.3" fill="#1B9E77" stroke="#1B9E77"/><circle cx="506.9" cy="323.7" r="3.3" fill="#1B9E77" stroke="#1B9E77"/><circle cx="504.2" cy="427.4" r="3.3" fill="#D95F02" stroke="#D95F02"/><circle cx="503.4" cy="402.0" r="3.3" fill="#1B9E77" stroke="#1B9E77"/><circle cx="191.5" cy="349.7" r="3.3" fill="#1B9E77" stroke="#1B9E77"/><circle cx="187.4" cy="326.9" r="3.3" fill="#1B9E77" stroke="#1B9E77"/><circle cx="521.5" cy="526.0" r="3.3" fill="#1B9E77" stroke="#1B9E77"/><circle cx="211.5" cy="328.3" r="3.3" fill="#1B9E77" stroke="#1B9E77"/><circle cx="215.4" cy="241.0" r="3.3" fill="#D95F02" stroke="#D95F02"/><circle cx="186.0" cy="329.4" r="3.3" fill="#D95F02" stroke="#D95F02"/><circle cx="204.8" cy="242.0" r="3.3" fill="#D95F02" stroke="#D95F02"/><circle cx="187.1" cy="302.3" r="3.3" fill="#D95F02" stroke="#D95F02"/><circle cx="505.2" cy="399.9" r="3.3" fill="#D95F02" stroke="#D95F02"/><circle cx="199.9" cy="501.4" r="3.3" fill="#1B9E77" stroke="#1B9E77"/><circle cx="504.3" cy="292.5" r="3.3" fill="#1B9E77" stroke="#1B9E77"/><circle cx="193.8" cy="232.4" r="3.3" fill="#1B9E77" stroke="#1B9E77"/><circle cx="204.1" cy="268.1" r="3.3" fill="#1B9E77" stroke="#1B9E77"/><circle cx="203.7" cy="340.7" r="3.3" fill="#D95F02" stroke="#D95F02"/><circle cx="201.8" cy="327.9" r="3.3" fill="#D95F02" stroke="#D95F02"/><circle cx="185.5" cy="316.2" r="3.3" fill="#1B9E77" stroke="#1B9E77"/><circle cx="519.8" cy="310.5" r="3.3" fill="#D95F02" stroke="#D95F02"/><circle cx="206.7" cy="241.1" r="3.3" fill="#1B9E77" stroke="#1B9E77"/><circle cx="207.1" cy="414.2" r="3.3" fill="#1B9E77" stroke="#1B9E77"/><circle cx="195.9" cy="315.6" r="3.3" fill="#D95F02" stroke="#D95F02"/><circle cx="522.0" cy="288.6" r="3.3" fill="#D95F02" stroke="#D95F02"/><circle cx="204.8" cy="376.3" r="3.3" fill="#D95F02" stroke="#D95F02"/><circle cx="205.2" cy="409.1" r="3.3" fill="#D95F02" stroke="#D95F02"/><circle cx="185.4" cy="305.1" r="3.3" fill="#D95F02" stroke="#D95F02"/><circle cx="528.9" cy="325.6" r="3.3" fill="#1B9E77" stroke="#1B9E77"/><circle cx="188.7" cy="483.1" r="3.3" fill="#1B9E77" stroke="#1B9E77"/><circle cx="530.0" cy="267.9" r="3.3" fill="#D95F02" stroke="#D95F02"/><circle cx="188.7" cy="438.5" r="3.3" fill="#D95F02" stroke="#D95F02"/><circle cx="197.3" cy="314.5" r="3.3" fill="#1B9E77" stroke="#1B9E77"/><circle cx="517.9" cy="233.8" r="3.3" fill="#1B9E77" stroke="#1B9E77"/><circle cx="200.6" cy="426.1" r="3.3" fill="#D95F02" stroke="#D95F02"/><circle cx="202.4" cy="531.6" r="3.3" fill="#D95F02" stroke="#D95F02"/><circle cx="190.9" cy="388.0" r="3.3" fill="#1B9E77" stroke="#1B9E77"/><circle cx="523.6" cy="225.7" r="3.3" fill="#D95F02" stroke="#D95F02"/><circle cx="514.4" cy="508.3" r="3.3" fill="#D95F02" stroke="#D95F02"/><circle cx="196.3" cy="397.0" r="3.3" fill="#1B9E77" stroke="#1B9E77"/><circle cx="518.0" cy="203.4" r="3.3" fill="#1B9E77" stroke="#1B9E77"/><circle cx="516.3" cy="314.1" r="3.3" fill="#D95F02" stroke="#D95F02"/><circle cx="531.5" cy="188.5" r="3.3" fill="#D95F02" stroke="#D95F02"/><circle cx="513.9" cy="281.4" r="3.3" fill="#1B9E77" stroke="#1B9E77"/><circle cx="204.7" cy="412.7" r="3.3" fill="#1B9E77" stroke="#1B9E77"/><circle cx="204.1" cy="209.1" r="3.3" fill="#D95F02" stroke="#D95F02"/><circle cx="516.3" cy="451.1" r="3.3" fill="#1B9E77" stroke="#1B9E77"/><circle cx="196.9" cy="348.9" r="3.3" fill="#1B9E77" stroke="#1B9E77"/><circle cx="186.0" cy="499.3" r="3.3" fill="#D95F02" stroke="#D95F02"/><circle cx="520.8" cy="266.6" r="3.3" fill="#1B9E77" stroke="#1B9E77"/><circle cx="197.5" cy="309.6" r="3.3" fill="#D95F02" stroke="#D95F02"/><circle cx="205.0" cy="158.0" r="3.3" fill="#D95F02" stroke="#D95F02"/><circle cx="205.5" cy="436.8" r="3.3" fill="#D95F02" stroke="#D95F02"/><circle cx="504.1" cy="327.1" r="3.3" fill="#1B9E77" stroke="#1B9E77"/><circle cx="513.2" cy="317.1" r="3.3" fill="#D95F02" stroke="#D95F02"/><circle cx="525.3" cy="311.6" r="3.3" fill="#D95F02" stroke="#D95F02"/><circle cx="202.3" cy="169.2" r="3.3" fill="#D95F02" stroke="#D95F02"/><circle cx="506.1" cy="341.2" r="3.3" fill="#D95F02" stroke="#D95F02"/><circle cx="519.6" cy="163.5" r="3.3" fill="#D95F02" stroke="#D95F02"/><circle cx="521.7" cy="469.6" r="3.3" fill="#1B9E77" stroke="#1B9E77"/><circle cx="508.4" cy="327.4" r="3.3" fill="#1B9E77" stroke="#1B9E77"/><circle cx="191.9" cy="236.9" r="3.3" fill="#1B9E77" stroke="#1B9E77"/><circle cx="526.3" cy="202.7" r="3.3" fill="#D95F02" stroke="#D95F02"/><circle cx="193.8" cy="508.0" r="3.3" fill="#D95F02" stroke="#D95F02"/><circle cx="512.2" cy="154.6" r="3.3" fill="#1B9E77" stroke="#1B9E77"/><circle cx="208.8" cy="254.2" r="3.3" fill="#1B9E77" stroke="#1B9E77"/><circle cx="514.5" cy="511.4" r="3.3" fill="#D95F02" stroke="#D95F02"/><circle cx="195.1" cy="305.2" r="3.3" fill="#1B9E77" stroke="#1B9E77"/><circle cx="191.4" cy="404.5" r="3.3" fill="#D95F02" stroke="#D95F02"/><circle cx="500.3" cy="382.7" r="3.3" fill="#1B9E77" stroke="#1B9E77"/><circle cx="519.7" cy="255.6" r="3.3" fill="#1B9E77" stroke="#1B9E77"/><circle cx="194.0" cy="449.3" r="3.3" fill="#D95F02" stroke="#D95F02"/><circle cx="211.4" cy="328.6" r="3.3" fill="#D95F02" stroke="#D95F02"/><circle cx="513.9" cy="495.1" r="3.3" fill="#D95F02" stroke="#D95F02"/><circle cx="509.8" cy="261.7" r="3.3" fill="#D95F02" stroke="#D95F02"/><circle cx="516.7" cy="169.8" r="3.3" fill="#D95F02" stroke="#D95F02"/><circle cx="501.2" cy="300.7" r="3.3" fill="#D95F02" stroke="#D95F02"/><circle cx="502.1" cy="302.8" r="3.3" fill="#D95F02" stroke="#D95F02"/><circle cx="205.4" cy="486.0" r="3.3" fill="#1B9E77" stroke="#1B9E77"/><circle cx="204.7" cy="313.9" r="3.3" fill="#D95F02" stroke="#D95F02"/><circle cx="530.3" cy="178.9" r="3.3" fill="#1B9E77" stroke="#1B9E77"/><circle cx="504.2" cy="486.3" r="3.3" fill="#1B9E77" stroke="#1B9E77"/><circle cx="191.2" cy="381.7" r="3.3" fill="#1B9E77" stroke="#1B9E77"/><circle cx="202.5" cy="308.0" r="3.3" fill="#1B9E77" stroke="#1B9E77"/><circle cx="188.4" cy="289.5" r="3.3" fill="#1B9E77" stroke="#1B9E77"/><circle cx="529.3" cy="261.0" r="3.3" fill="#D95F02" stroke="#D95F02"/><circle cx="189.4" cy="468.6" r="3.3" fill="#1B9E77" stroke="#1B9E77"/><circle cx="190.7" cy="332.4" r="3.3" fill="#1B9E77" stroke="#1B9E77"/><circle cx="502.6" cy="510.5" r="3.3" fill="#1B9E77" stroke="#1B9E77"/><circle cx="506.9" cy="278.2" r="3.3" fill="#1B9E77" stroke="#1B9E77"/><circle cx="205.4" cy="605.8" r="3.3" fill="#D95F02" stroke="#D95F02"/><circle cx="187.3" cy="481.2" r="3.3" fill="#D95F02" stroke="#D95F02"/><circle cx="197.8" cy="373.0" r="3.3" fill="#D95F02" stroke="#D95F02"/><circle cx="516.9" cy="192.2" r="3.3" fill="#1B9E77" stroke="#1B9E77"/><circle cx="190.5" cy="380.3" r="3.3" fill="#1B9E77" stroke="#1B9E77"/><circle cx="195.4" cy="262.9" r="3.3" fill="#1B9E77" stroke="#1B9E77"/><circle cx="516.6" cy="377.3" r="3.3" fill="#D95F02" stroke="#D95F02"/><circle cx="195.0" cy="287.5" r="3.3" fill="#D95F02" stroke="#D95F02"/><circle cx="530.8" cy="409.5" r="3.3" fill="#D95F02" stroke="#D95F02"/><circle cx="200.1" cy="398.2" r="3.3" fill="#1B9E77" stroke="#1B9E77"/><circle cx="205.3" cy="230.5" r="3.3" fill="#D95F02" stroke="#D95F02"/><circle cx="189.6" cy="499.3" r="3.3" fill="#1B9E77" stroke="#1B9E77"/><circle cx="216.6" cy="253.3" r="3.3" fill="#1B9E77" stroke="#1B9E77"/><circle cx="204.1" cy="438.0" r="3.3" fill="#D95F02" stroke="#D95F02"/><circle cx="190.4" cy="282.9" r="3.3" fill="#1B9E77" stroke="#1B9E77"/><circle cx="530.3" cy="396.0" r="3.3" fill="#1B9E77" stroke="#1B9E77"/><circle cx="214.7" cy="276.7" r="3.3" fill="#1B9E77" stroke="#1B9E77"/><circle cx="191.8" cy="284.3" r="3.3" fill="#D95F02" stroke="#D95F02"/><circle cx="189.3" cy="360.3" r="3.3" fill="#D95F02" stroke="#D95F02"/><circle cx="189.1" cy="308.9" r="3.3" fill="#1B9E77" stroke="#1B9E77"/><circle cx="215.5" cy="548.0" r="3.3" fill="#D95F02" stroke="#D95F02"/><circle cx="507.4" cy="232.4" r="3.3" fill="#D95F02" stroke="#D95F02"/><circle cx="509.4" cy="333.8" r="3.3" fill="#D95F02" stroke="#D95F02"/><circle cx="198.6" cy="353.0" r="3.3" fill="#D95F02" stroke="#D95F02"/><circle cx="503.9" cy="226.9" r="3.3" fill="#D95F02" stroke="#D95F02"/><circle cx="508.7" cy="405.5" r="3.3" fill="#1B9E77" stroke="#1B9E77"/><circle cx="196.4" cy="325.6" r="3.3" fill="#D95F02" stroke="#D95F02"/><circle cx="188.6" cy="510.0" r="3.3" fill="#D95F02" stroke="#D95F02"/><circle cx="523.3" cy="324.9" r="3.3" fill="#D95F02" stroke="#D95F02"/><circle cx="213.3" cy="519.9" r="3.3" fill="#D95F02" stroke="#D95F02"/><circle cx="522.9" cy="483.7" r="3.3" fill="#1B9E77" stroke="#1B9E77"/><circle cx="512.8" cy="326.8" r="3.3" fill="#1B9E77" stroke="#1B9E77"/><circle cx="523.7" cy="195.0" r="3.3" fill="#D95F02" stroke="#D95F02"/><circle cx="216.5" cy="256.9" r="3.3" fill="#D95F02" stroke="#D95F02"/><circle cx="190.4" cy="315.6" r="3.3" fill="#1B9E77" stroke="#1B9E77"/><circle cx="200.0" cy="435.7" r="3.3" fill="#D95F02" stroke="#D95F02"/><circle cx="522.7" cy="303.9" r="3.3" fill="#D95F02" stroke="#D95F02"/><circle cx="528.3" cy="252.4" r="3.3" fill="#1B9E77" stroke="#1B9E77"/><circle cx="519.3" cy="389.6" r="3.3" fill="#D95F02" stroke="#D95F02"/><circle cx="526.1" cy="511.2" r="3.3" fill="#D95F02" stroke="#D95F02"/><circle cx="206.0" cy="153.5" r="3.3" fill="#D95F02" stroke="#D95F02"/><circle cx="508.0" cy="349.8" r="3.3" fill="#1B9E77" stroke="#1B9E77"/><circle cx="197.7" cy="239.6" r="3.3" fill="#1B9E77" stroke="#1B9E77"/><circle cx="193.0" cy="276.4" r="3.3" fill="#D95F02" stroke="#D95F02"/><circle cx="515.3" cy="201.4" r="3.3" fill="#1B9E77" stroke="#1B9E77"/><circle cx="513.7" cy="324.8" r="3.3" fill="#1B9E77" stroke="#1B9E77"/><circle cx="517.3" cy="284.0" r="3.3" fill="#1B9E77" stroke="#1B9E77"/><circle cx="505.5" cy="358.1" r="3.3" fill="#D95F02" stroke="#D95F02"/><circle cx="504.2" cy="262.1" r="3.3" fill="#1B9E77" stroke="#1B9E77"/><circle cx="525.1" cy="339.0" r="3.3" fill="#D95F02" stroke="#D95F02"/><circle cx="217.1" cy="262.3" r="3.3" fill="#1B9E77" stroke="#1B9E77"/><circle cx="531.3" cy="484.0" r="3.3" fill="#D95F02" stroke="#D95F02"/><circle cx="187.1" cy="227.4" r="3.3" fill="#1B9E77" stroke="#1B9E77"/><circle cx="530.6" cy="398.7" r="3.3" fill="#D95F02" stroke="#D95F02"/><circle cx="211.2" cy="553.7" r="3.3" fill="#D95F02" stroke="#D95F02"/><circle cx="514.7" cy="432.9" r="3.3" fill="#D95F02" stroke="#D95F02"/><circle cx="511.1" cy="395.8" r="3.3" fill="#1B9E77" stroke="#1B9E77"/><circle cx="191.9" cy="324.4" r="3.3" fill="#D95F02" stroke="#D95F02"/><circle cx="512.7" cy="282.4" r="3.3" fill="#1B9E77" stroke="#1B9E77"/><circle cx="518.6" cy="214.8" r="3.3" fill="#D95F02" stroke="#D95F02"/><circle cx="514.7" cy="644.0" r="3.3" fill="#D95F02" stroke="#D95F02"/><circle cx="502.8" cy="479.7" r="3.3" fill="#1B9E77" stroke="#1B9E77"/><circle cx="529.8" cy="235.2" r="3.3" fill="#D95F02" stroke="#D95F02"/><circle cx="192.1" cy="210.5" r="3.3" fill="#D95F02" stroke="#D95F02"/><circle cx="212.2" cy="382.4" r="3.3" fill="#1B9E77" stroke="#1B9E77"/><circle cx="186.1" cy="268.1" r="3.3" fill="#D95F02" stroke="#D95F02"/><circle cx="516.6" cy="398.6" r="3.3" fill="#D95F02" stroke="#D95F02"/><circle cx="501.9" cy="178.4" r="3.3" fill="#1B9E77" stroke="#1B9E77"/><circle cx="525.4" cy="378.3" r="3.3" fill="#1B9E77" stroke="#1B9E77"/><circle cx="529.5" cy="468.7" r="3.3" fill="#1B9E77" stroke="#1B9E77"/><circle cx="504.6" cy="450.5" r="3.3" fill="#1B9E77" stroke="#1B9E77"/><circle cx="191.6" cy="402.4" r="3.3" fill="#1B9E77" stroke="#1B9E77"/><circle cx="203.3" cy="376.6" r="3.3" fill="#D95F02" stroke="#D95F02"/><circle cx="509.9" cy="376.2" r="3.3" fill="#D95F02" stroke="#D95F02"/><circle cx="528.9" cy="402.5" r="3.3" fill="#1B9E77" stroke="#1B9E77"/><circle cx="200.4" cy="413.0" r="3.3" fill="#1B9E77" stroke="#1B9E77"/><circle cx="197.1" cy="186.0" r="3.3" fill="#D95F02" stroke="#D95F02"/><circle cx="195.5" cy="355.0" r="3.3" fill="#1B9E77" stroke="#1B9E77"/><circle cx="212.0" cy="285.2" r="3.3" fill="#D95F02" stroke="#D95F02"/><circle cx="199.3" cy="408.9" r="3.3" fill="#1B9E77" stroke="#1B9E77"/><circle cx="506.4" cy="153.0" r="3.3" fill="#D95F02" stroke="#D95F02"/><circle cx="193.7" cy="159.0" r="3.3" fill="#D95F02" stroke="#D95F02"/><circle cx="505.5" cy="301.5" r="3.3" fill="#D95F02" stroke="#D95F02"/><circle cx="206.6" cy="402.6" r="3.3" fill="#D95F02" stroke="#D95F02"/><circle cx="209.4" cy="243.3" r="3.3" fill="#D95F02" stroke="#D95F02"/><circle cx="190.7" cy="531.5" r="3.3" fill="#1B9E77" stroke="#1B9E77"/><circle cx="522.5" cy="602.3" r="3.3" fill="#1B9E77" stroke="#1B9E77"/><circle cx="512.0" cy="190.7" r="3.3" fill="#D95F02" stroke="#D95F02"/><circle cx="189.5" cy="496.9" r="3.3" fill="#1B9E77" stroke="#1B9E77"/><circle cx="200.0" cy="256.5" r="3.3" fill="#D95F02" stroke="#D95F02"/><circle cx="501.8" cy="486.2" r="3.3" fill="#D95F02" stroke="#D95F02"/><circle cx="191.0" cy="325.7" r="3.3" fill="#1B9E77" stroke="#1B9E77"/><circle cx="507.4" cy="365.4" r="3.3" fill="#D95F02" stroke="#D95F02"/><circle cx="503.7" cy="574.1" r="3.3" fill="#1B9E77" stroke="#1B9E77"/><circle cx="511.2" cy="397.2" r="3.3" fill="#1B9E77" stroke="#1B9E77"/><circle cx="509.4" cy="479.2" r="3.3" fill="#1B9E77" stroke="#1B9E77"/><circle cx="200.5" cy="161.0" r="3.3" fill="#D95F02" stroke="#D95F02"/><circle cx="191.8" cy="275.1" r="3.3" fill="#1B9E77" stroke="#1B9E77"/><circle cx="513.3" cy="389.3" r="3.3" fill="#D95F02" stroke="#D95F02"/><circle cx="514.0" cy="226.9" r="3.3" fill="#D95F02" stroke="#D95F02"/><circle cx="525.6" cy="187.9" r="3.3" fill="#D95F02" stroke="#D95F02"/><circle cx="199.9" cy="379.5" r="3.3" fill="#1B9E77" stroke="#1B9E77"/><circle cx="528.8" cy="348.4" r="3.3" fill="#1B9E77" stroke="#1B9E77"/><circle cx="199.3" cy="251.8" r="3.3" fill="#D95F02" stroke="#D95F02"/><circle cx="513.8" cy="305.5" r="3.3" fill="#1B9E77" stroke="#1B9E77"/><circle cx="196.6" cy="483.3" r="3.3" fill="#1B9E77" stroke="#1B9E77"/><circle cx="508.1" cy="422.8" r="3.3" fill="#D95F02" stroke="#D95F02"/><circle cx="210.1" cy="398.3" r="3.3" fill="#D95F02" stroke="#D95F02"/><circle cx="506.8" cy="425.7" r="3.3" fill="#D95F02" stroke="#D95F02"/><circle cx="214.9" cy="494.6" r="3.3" fill="#D95F02" stroke="#D95F02"/><circle cx="509.8" cy="495.2" r="3.3" fill="#1B9E77" stroke="#1B9E77"/><circle cx="518.1" cy="313.1" r="3.3" fill="#1B9E77" stroke="#1B9E77"/><circle cx="196.7" cy="263.7" r="3.3" fill="#D95F02" stroke="#D95F02"/><circle cx="203.8" cy="363.3" r="3.3" fill="#D95F02" stroke="#D95F02"/><circle cx="201.7" cy="303.4" r="3.3" fill="#1B9E77" stroke="#1B9E77"/><circle cx="518.6" cy="215.5" r="3.3" fill="#1B9E77" stroke="#1B9E77"/><circle cx="196.8" cy="427.0" r="3.3" fill="#D95F02" stroke="#D95F02"/><circle cx="216.8" cy="262.2" r="3.3" fill="#D95F02" stroke="#D95F02"/><circle cx="521.3" cy="239.2" r="3.3" fill="#D95F02" stroke="#D95F02"/><circle cx="188.5" cy="251.0" r="3.3" fill="#1B9E77" stroke="#1B9E77"/><circle cx="504.7" cy="188.6" r="3.3" fill="#D95F02" stroke="#D95F02"/><circle cx="190.1" cy="460.3" r="3.3" fill="#D95F02" stroke="#D95F02"/><circle cx="516.7" cy="299.6" r="3.3" fill="#1B9E77" stroke="#1B9E77"/><circle cx="204.0" cy="316.4" r="3.3" fill="#1B9E77" stroke="#1B9E77"/><circle cx="530.5" cy="525.4" r="3.3" fill="#1B9E77" stroke="#1B9E77"/><circle cx="207.4" cy="325.6" r="3.3" fill="#1B9E77" stroke="#1B9E77"/><circle cx="185.5" cy="486.7" r="3.3" fill="#1B9E77" stroke="#1B9E77"/><circle cx="205.4" cy="378.8" r="3.3" fill="#D95F02" stroke="#D95F02"/><circle cx="210.9" cy="450.1" r="3.3" fill="#1B9E77" stroke="#1B9E77"/><circle cx="200.1" cy="348.1" r="3.3" fill="#1B9E77" stroke="#1B9E77"/><circle cx="522.3" cy="299.3" r="3.3" fill="#1B9E77" stroke="#1B9E77"/><circle cx="500.5" cy="234.3" r="3.3" fill="#1B9E77" stroke="#1B9E77"/><circle cx="202.0" cy="209.9" r="3.3" fill="#1B9E77" stroke="#1B9E77"/><circle cx="512.8" cy="396.6" r="3.3" fill="#1B9E77" stroke="#1B9E77"/><circle cx="197.2" cy="288.3" r="3.3" fill="#1B9E77" stroke="#1B9E77"/><circle cx="192.1" cy="432.9" r="3.3" fill="#D95F02" stroke="#D95F02"/><circle cx="520.4" cy="274.6" r="3.3" fill="#D95F02" stroke="#D95F02"/><circle cx="214.4" cy="329.7" r="3.3" fill="#1B9E77" stroke="#1B9E77"/><circle cx="519.0" cy="265.1" r="3.3" fill="#D95F02" stroke="#D95F02"/><circle cx="188.3" cy="285.8" r="3.3" fill="#D95F02" stroke="#D95F02"/><circle cx="527.0" cy="285.6" r="3.3" fill="#D95F02" stroke="#D95F02"/><circle cx="206.8" cy="299.0" r="3.3" fill="#1B9E77" stroke="#1B9E77"/><circle cx="185.8" cy="430.0" r="3.3" fill="#1B9E77" stroke="#1B9E77"/><circle cx="513.8" cy="298.3" r="3.3" fill="#1B9E77" stroke="#1B9E77"/><circle cx="195.3" cy="405.3" r="3.3" fill="#1B9E77" stroke="#1B9E77"/><circle cx="209.3" cy="414.0" r="3.3" fill="#1B9E77" stroke="#1B9E77"/><circle cx="514.2" cy="326.0" r="3.3" fill="#D95F02" stroke="#D95F02"/><circle cx="519.4" cy="349.3" r="3.3" fill="#1B9E77" stroke="#1B9E77"/><circle cx="525.7" cy="505.6" r="3.3" fill="#1B9E77" stroke="#1B9E77"/><circle cx="517.5" cy="479.6" r="3.3" fill="#D95F02" stroke="#D95F02"/><circle cx="507.0" cy="338.7" r="3.3" fill="#D95F02" stroke="#D95F02"/><circle cx="194.2" cy="450.1" r="3.3" fill="#D95F02" stroke="#D95F02"/><circle cx="513.8" cy="265.9" r="3.3" fill="#1B9E77" stroke="#1B9E77"/><circle cx="515.6" cy="306.5" r="3.3" fill="#D95F02" stroke="#D95F02"/><circle cx="188.6" cy="257.2" r="3.3" fill="#1B9E77" stroke="#1B9E77"/><circle cx="530.0" cy="381.2" r="3.3" fill="#D95F02" stroke="#D95F02"/><circle cx="507.9" cy="217.5" r="3.3" fill="#1B9E77" stroke="#1B9E77"/><circle cx="524.0" cy="316.4" r="3.3" fill="#1B9E77" stroke="#1B9E77"/><circle cx="513.8" cy="458.2" r="3.3" fill="#D95F02" stroke="#D95F02"/><circle cx="508.0" cy="627.8" r="3.3" fill="#1B9E77" stroke="#1B9E77"/><circle cx="189.8" cy="493.5" r="3.3" fill="#D95F02" stroke="#D95F02"/><circle cx="524.1" cy="261.6" r="3.3" fill="#1B9E77" stroke="#1B9E77"/><circle cx="520.8" cy="232.0" r="3.3" fill="#D95F02" stroke="#D95F02"/><circle cx="200.1" cy="457.0" r="3.3" fill="#D95F02" stroke="#D95F02"/><circle cx="515.4" cy="437.5" r="3.3" fill="#D95F02" stroke="#D95F02"/><circle cx="516.9" cy="526.1" r="3.3" fill="#1B9E77" stroke="#1B9E77"/><circle cx="196.1" cy="365.1" r="3.3" fill="#D95F02" stroke="#D95F02"/><circle cx="186.6" cy="258.6" r="3.3" fill="#D95F02" stroke="#D95F02"/><circle cx="513.0" cy="388.8" r="3.3" fill="#1B9E77" stroke="#1B9E77"/><circle cx="191.3" cy="231.2" r="3.3" fill="#D95F02" stroke="#D95F02"/><circle cx="506.9" cy="178.1" r="3.3" fill="#D95F02" stroke="#D95F02"/><circle cx="508.5" cy="405.3" r="3.3" fill="#D95F02" stroke="#D95F02"/><circle cx="209.7" cy="341.1" r="3.3" fill="#D95F02" stroke="#D95F02"/><circle cx="205.0" cy="363.6" r="3.3" fill="#1B9E77" stroke="#1B9E77"/><circle cx="529.6" cy="282.5" r="3.3" fill="#1B9E77" stroke="#1B9E77"/><circle cx="528.0" cy="256.7" r="3.3" fill="#1B9E77" stroke="#1B9E77"/><circle cx="519.8" cy="283.6" r="3.3" fill="#D95F02" stroke="#D95F02"/><circle cx="188.6" cy="230.1" r="3.3" fill="#1B9E77" stroke="#1B9E77"/><circle cx="524.7" cy="256.8" r="3.3" fill="#D95F02" stroke="#D95F02"/><circle cx="500.4" cy="171.4" r="3.3" fill="#D95F02" stroke="#D95F02"/><circle cx="213.2" cy="331.1" r="3.3" fill="#D95F02" stroke="#D95F02"/><circle cx="202.8" cy="238.2" r="3.3" fill="#1B9E77" stroke="#1B9E77"/><circle cx="186.6" cy="259.5" r="3.3" fill="#1B9E77" stroke="#1B9E77"/><circle cx="506.6" cy="428.1" r="3.3" fill="#1B9E77" stroke="#1B9E77"/><circle cx="514.2" cy="334.9" r="3.3" fill="#1B9E77" stroke="#1B9E77"/><circle cx="194.9" cy="378.2" r="3.3" fill="#D95F02" stroke="#D95F02"/><circle cx="530.1" cy="384.7" r="3.3" fill="#D95F02" stroke="#D95F02"/><circle cx="528.9" cy="242.2" r="3.3" fill="#D95F02" stroke="#D95F02"/><circle cx="504.2" cy="267.4" r="3.3" fill="#1B9E77" stroke="#1B9E77"/><circle cx="188.2" cy="160.0" r="3.3" fill="#D95F02" stroke="#D95F02"/><circle cx="195.8" cy="299.1" r="3.3" fill="#1B9E77" stroke="#1B9E77"/><circle cx="515.3" cy="159.9" r="3.3" fill="#1B9E77" stroke="#1B9E77"/><circle cx="506.2" cy="478.3" r="3.3" fill="#1B9E77" stroke="#1B9E77"/><circle cx="194.5" cy="304.4" r="3.3" fill="#D95F02" stroke="#D95F02"/><circle cx="526.8" cy="480.7" r="3.3" fill="#1B9E77" stroke="#1B9E77"/><circle cx="215.3" cy="283.2" r="3.3" fill="#D95F02" stroke="#D95F02"/><circle cx="530.6" cy="477.7" r="3.3" fill="#1B9E77" stroke="#1B9E77"/><circle cx="197.5" cy="400.7" r="3.3" fill="#1B9E77" stroke="#1B9E77"/><circle cx="527.5" cy="160.1" r="3.3" fill="#D95F02" stroke="#D95F02"/><circle cx="504.2" cy="284.6" r="3.3" fill="#D95F02" stroke="#D95F02"/><circle cx="522.3" cy="308.4" r="3.3" fill="#1B9E77" stroke="#1B9E77"/><circle cx="205.3" cy="305.4" r="3.3" fill="#1B9E77" stroke="#1B9E77"/><circle cx="206.8" cy="430.4" r="3.3" fill="#1B9E77" stroke="#1B9E77"/><circle cx="531.3" cy="202.0" r="3.3" fill="#D95F02" stroke="#D95F02"/><circle cx="519.6" cy="445.5" r="3.3" fill="#D95F02" stroke="#D95F02"/><circle cx="530.3" cy="338.5" r="3.3" fill="#1B9E77" stroke="#1B9E77"/><circle cx="502.1" cy="422.9" r="3.3" fill="#D95F02" stroke="#D95F02"/><circle cx="203.9" cy="583.4" r="3.3" fill="#D95F02" stroke="#D95F02"/><circle cx="214.9" cy="486.9" r="3.3" fill="#D95F02" stroke="#D95F02"/><circle cx="521.1" cy="265.1" r="3.3" fill="#1B9E77" stroke="#1B9E77"/><circle cx="523.9" cy="155.1" r="3.3" fill="#D95F02" stroke="#D95F02"/><circle cx="204.7" cy="277.8" r="3.3" fill="#D95F02" stroke="#D95F02"/><circle cx="189.0" cy="504.1" r="3.3" fill="#1B9E77" stroke="#1B9E77"/><circle cx="510.0" cy="429.0" r="3.3" fill="#D95F02" stroke="#D95F02"/><circle cx="522.6" cy="405.0" r="3.3" fill="#D95F02" stroke="#D95F02"/><circle cx="199.1" cy="181.3" r="3.3" fill="#1B9E77" stroke="#1B9E77"/><circle cx="185.5" cy="529.3" r="3.3" fill="#D95F02" stroke="#D95F02"/><circle cx="216.6" cy="238.5" r="3.3" fill="#D95F02" stroke="#D95F02"/><circle cx="189.6" cy="257.5" r="3.3" fill="#1B9E77" stroke="#1B9E77"/><circle cx="190.5" cy="475.3" r="3.3" fill="#1B9E77" stroke="#1B9E77"/><circle cx="506.9" cy="260.0" r="3.3" fill="#1B9E77" stroke="#1B9E77"/><circle cx="201.5" cy="381.0" r="3.3" fill="#1B9E77" stroke="#1B9E77"/><circle cx="509.0" cy="309.4" r="3.3" fill="#D95F02" stroke="#D95F02"/><circle cx="199.5" cy="308.6" r="3.3" fill="#1B9E77" stroke="#1B9E77"/><circle cx="527.2" cy="162.7" r="3.3" fill="#D95F02" stroke="#D95F02"/><circle cx="214.3" cy="290.0" r="3.3" fill="#D95F02" stroke="#D95F02"/><circle cx="514.9" cy="363.4" r="3.3" fill="#D95F02" stroke="#D95F02"/><circle cx="526.7" cy="202.5" r="3.3" fill="#1B9E77" stroke="#1B9E77"/><circle cx="199.6" cy="347.7" r="3.3" fill="#D95F02" stroke="#D95F02"/><circle cx="521.0" cy="262.6" r="3.3" fill="#D95F02" stroke="#D95F02"/><circle cx="187.1" cy="287.8" r="3.3" fill="#D95F02" stroke="#D95F02"/><circle cx="190.1" cy="340.3" r="3.3" fill="#D95F02" stroke="#D95F02"/><circle cx="518.4" cy="457.6" r="3.3" fill="#1B9E77" stroke="#1B9E77"/><circle cx="507.2" cy="263.3" r="3.3" fill="#D95F02" stroke="#D95F02"/><circle cx="200.1" cy="373.3" r="3.3" fill="#D95F02" stroke="#D95F02"/><circle cx="521.3" cy="405.3" r="3.3" fill="#1B9E77" stroke="#1B9E77"/><circle cx="192.7" cy="302.5" r="3.3" fill="#1B9E77" stroke="#1B9E77"/><circle cx="198.6" cy="251.5" r="3.3" fill="#D95F02" stroke="#D95F02"/><circle cx="199.9" cy="329.7" r="3.3" fill="#D95F02" stroke="#D95F02"/><circle cx="506.0" cy="365.3" r="3.3" fill="#1B9E77" stroke="#1B9E77"/><circle cx="212.2" cy="313.1" r="3.3" fill="#1B9E77" stroke="#1B9E77"/><circle cx="199.8" cy="348.9" r="3.3" fill="#1B9E77" stroke="#1B9E77"/><circle cx="195.4" cy="461.6" r="3.3" fill="#D95F02" stroke="#D95F02"/><circle cx="213.6" cy="263.6" r="3.3" fill="#D95F02" stroke="#D95F02"/><circle cx="521.0" cy="450.7" r="3.3" fill="#D95F02" stroke="#D95F02"/><circle cx="187.4" cy="229.4" r="3.3" fill="#D95F02" stroke="#D95F02"/><circle cx="185.4" cy="496.1" r="3.3" fill="#1B9E77" stroke="#1B9E77"/><circle cx="523.2" cy="361.7" r="3.3" fill="#D95F02" stroke="#D95F02"/><circle cx="515.5" cy="254.5" r="3.3" fill="#D95F02" stroke="#D95F02"/><circle cx="197.2" cy="323.2" r="3.3" fill="#1B9E77" stroke="#1B9E77"/><circle cx="192.2" cy="212.4" r="3.3" fill="#D95F02" stroke="#D95F02"/><circle cx="195.5" cy="166.2" r="3.3" fill="#1B9E77" stroke="#1B9E77"/><circle cx="204.6" cy="251.9" r="3.3" fill="#1B9E77" stroke="#1B9E77"/><circle cx="195.2" cy="347.5" r="3.3" fill="#D95F02" stroke="#D95F02"/><circle cx="202.7" cy="284.1" r="3.3" fill="#1B9E77" stroke="#1B9E77"/><circle cx="186.5" cy="155.0" r="3.3" fill="#D95F02" stroke="#D95F02"/><circle cx="525.1" cy="281.3" r="3.3" fill="#D95F02" stroke="#D95F02"/><circle cx="530.6" cy="185.9" r="3.3" fill="#D95F02" stroke="#D95F02"/><circle cx="214.5" cy="402.5" r="3.3" fill="#D95F02" stroke="#D95F02"/><circle cx="199.0" cy="371.1" r="3.3" fill="#D95F02" stroke="#D95F02"/><circle cx="505.0" cy="470.5" r="3.3" fill="#1B9E77" stroke="#1B9E77"/><circle cx="195.2" cy="280.5" r="3.3" fill="#D95F02" stroke="#D95F02"/><circle cx="518.4" cy="218.0" r="3.3" fill="#D95F02" stroke="#D95F02"/><circle cx="216.1" cy="437.2" r="3.3" fill="#1B9E77" stroke="#1B9E77"/><circle cx="501.6" cy="452.2" r="3.3" fill="#D95F02" stroke="#D95F02"/><circle cx="527.4" cy="303.9" r="3.3" fill="#D95F02" stroke="#D95F02"/><circle cx="213.4" cy="159.9" r="3.3" fill="#1B9E77" stroke="#1B9E77"/><circle cx="512.2" cy="362.9" r="3.3" fill="#1B9E77" stroke="#1B9E77"/><circle cx="518.2" cy="372.5" r="3.3" fill="#1B9E77" stroke="#1B9E77"/><circle cx="192.8" cy="350.8" r="3.3" fill="#1B9E77" stroke="#1B9E77"/><circle cx="515.9" cy="166.1" r="3.3" fill="#D95F02" stroke="#D95F02"/><circle cx="185.9" cy="421.7" r="3.3" fill="#1B9E77" stroke="#1B9E77"/><circle cx="503.0" cy="388.7" r="3.3" fill="#D95F02" stroke="#D95F02"/><circle cx="524.8" cy="435.0" r="3.3" fill="#D95F02" stroke="#D95F02"/><circle cx="186.6" cy="216.8" r="3.3" fill="#D95F02" stroke="#D95F02"/><circle cx="502.7" cy="350.3" r="3.3" fill="#D95F02" stroke="#D95F02"/><circle cx="526.6" cy="251.0" r="3.3" fill="#D95F02" stroke="#D95F02"/><circle cx="187.4" cy="327.2" r="3.3" fill="#D95F02" stroke="#D95F02"/><circle cx="204.0" cy="458.0" r="3.3" fill="#1B9E77" stroke="#1B9E77"/><circle cx="514.7" cy="234.6" r="3.3" fill="#D95F02" stroke="#D95F02"/><circle cx="202.6" cy="404.5" r="3.3" fill="#1B9E77" stroke="#1B9E77"/><circle cx="207.6" cy="261.4" r="3.3" fill="#D95F02" stroke="#D95F02"/><circle cx="508.7" cy="379.5" r="3.3" fill="#D95F02" stroke="#D95F02"/><circle cx="521.1" cy="455.8" r="3.3" fill="#D95F02" stroke="#D95F02"/><circle cx="191.5" cy="177.3" r="3.3" fill="#D95F02" stroke="#D95F02"/><circle cx="513.3" cy="189.1" r="3.3" fill="#D95F02" stroke="#D95F02"/><circle cx="530.3" cy="315.7" r="3.3" fill="#1B9E77" stroke="#1B9E77"/><circle cx="214.9" cy="215.5" r="3.3" fill="#D95F02" stroke="#D95F02"/><circle cx="523.3" cy="165.4" r="3.3" fill="#D95F02" stroke="#D95F02"/><circle cx="518.9" cy="448.3" r="3.3" fill="#D95F02" stroke="#D95F02"/><circle cx="525.1" cy="227.1" r="3.3" fill="#D95F02" stroke="#D95F02"/><circle cx="195.1" cy="409.3" r="3.3" fill="#D95F02" stroke="#D95F02"/><circle cx="208.0" cy="385.4" r="3.3" fill="#1B9E77" stroke="#1B9E77"/><circle cx="531.9" cy="337.3" r="3.3" fill="#1B9E77" stroke="#1B9E77"/><circle cx="521.9" cy="171.3" r="3.3" fill="#1B9E77" stroke="#1B9E77"/><circle cx="530.3" cy="376.5" r="3.3" fill="#D95F02" stroke="#D95F02"/><circle cx="522.2" cy="424.5" r="3.3" fill="#D95F02" stroke="#D95F02"/><circle cx="187.1" cy="406.3" r="3.3" fill="#1B9E77" stroke="#1B9E77"/><circle cx="193.2" cy="388.7" r="3.3" fill="#1B9E77" stroke="#1B9E77"/><circle cx="519.5" cy="362.7" r="3.3" fill="#D95F02" stroke="#D95F02"/><circle cx="217.1" cy="308.8" r="3.3" fill="#D95F02" stroke="#D95F02"/><circle cx="502.3" cy="386.7" r="3.3" fill="#D95F02" stroke="#D95F02"/><circle cx="504.7" cy="238.2" r="3.3" fill="#D95F02" stroke="#D95F02"/><circle cx="528.3" cy="399.4" r="3.3" fill="#D95F02" stroke="#D95F02"/><circle cx="512.3" cy="424.2" r="3.3" fill="#D95F02" stroke="#D95F02"/><circle cx="510.4" cy="237.0" r="3.3" fill="#D95F02" stroke="#D95F02"/><circle cx="521.4" cy="430.6" r="3.3" fill="#1B9E77" stroke="#1B9E77"/><circle cx="204.4" cy="362.6" r="3.3" fill="#1B9E77" stroke="#1B9E77"/><circle cx="504.5" cy="357.3" r="3.3" fill="#D95F02" stroke="#D95F02"/><circle cx="518.7" cy="283.0" r="3.3" fill="#D95F02" stroke="#D95F02"/><circle cx="529.1" cy="240.5" r="3.3" fill="#1B9E77" stroke="#1B9E77"/><circle cx="204.5" cy="507.0" r="3.3" fill="#1B9E77" stroke="#1B9E77"/><circle cx="206.6" cy="436.8" r="3.3" fill="#D95F02" stroke="#D95F02"/><circle cx="510.3" cy="290.0" r="3.3" fill="#1B9E77" stroke="#1B9E77"/><circle cx="213.4" cy="289.9" r="3.3" fill="#1B9E77" stroke="#1B9E77"/><circle cx="200.9" cy="283.6" r="3.3" fill="#D95F02" stroke="#D95F02"/><circle cx="216.1" cy="479.0" r="3.3" fill="#1B9E77" stroke="#1B9E77"/><circle cx="513.7" cy="335.8" r="3.3" fill="#1B9E77" stroke="#1B9E77"/><circle cx="515.8" cy="184.1" r="3.3" fill="#1B9E77" stroke="#1B9E77"/><circle cx="192.4" cy="180.3" r="3.3" fill="#D95F02" stroke="#D95F02"/><circle cx="530.7" cy="316.6" r="3.3" fill="#1B9E77" stroke="#1B9E77"/><circle cx="517.4" cy="434.5" r="3.3" fill="#1B9E77" stroke="#1B9E77"/><circle cx="517.9" cy="214.7" r="3.3" fill="#D95F02" stroke="#D95F02"/><circle cx="513.1" cy="481.1" r="3.3" fill="#1B9E77" stroke="#1B9E77"/><circle cx="510.4" cy="472.7" r="3.3" fill="#1B9E77" stroke="#1B9E77"/><circle cx="192.3" cy="230.9" r="3.3" fill="#D95F02" stroke="#D95F02"/><circle cx="192.8" cy="503.4" r="3.3" fill="#D95F02" stroke="#D95F02"/><circle cx="523.0" cy="183.2" r="3.3" fill="#D95F02" stroke="#D95F02"/><circle cx="199.7" cy="205.5" r="3.3" fill="#1B9E77" stroke="#1B9E77"/><circle cx="530.0" cy="428.8" r="3.3" fill="#1B9E77" stroke="#1B9E77"/><circle cx="508.2" cy="307.7" r="3.3" fill="#D95F02" stroke="#D95F02"/><circle cx="216.4" cy="522.6" r="3.3" fill="#1B9E77" stroke="#1B9E77"/><circle cx="204.6" cy="401.2" r="3.3" fill="#1B9E77" stroke="#1B9E77"/><circle cx="510.9" cy="288.4" r="3.3" fill="#D95F02" stroke="#D95F02"/><circle cx="521.0" cy="300.4" r="3.3" fill="#1B9E77" stroke="#1B9E77"/><circle cx="197.8" cy="450.3" r="3.3" fill="#1B9E77" stroke="#1B9E77"/><circle cx="205.7" cy="409.5" r="3.3" fill="#1B9E77" stroke="#1B9E77"/><circle cx="506.2" cy="430.7" r="3.3" fill="#D95F02" stroke="#D95F02"/><circle cx="207.3" cy="281.7" r="3.3" fill="#D95F02" stroke="#D95F02"/><circle cx="202.9" cy="383.9" r="3.3" fill="#D95F02" stroke="#D95F02"/><circle cx="196.9" cy="423.6" r="3.3" fill="#1B9E77" stroke="#1B9E77"/><circle cx="189.1" cy="407.9" r="3.3" fill="#1B9E77" stroke="#1B9E77"/><circle cx="203.5" cy="194.3" r="3.3" fill="#D95F02" stroke="#D95F02"/><circle cx="203.6" cy="292.9" r="3.3" fill="#1B9E77" stroke="#1B9E77"/><circle cx="215.5" cy="341.4" r="3.3" fill="#1B9E77" stroke="#1B9E77"/><circle cx="198.6" cy="348.1" r="3.3" fill="#D95F02" stroke="#D95F02"/><circle cx="198.5" cy="373.3" r="3.3" fill="#1B9E77" stroke="#1B9E77"/><circle cx="199.2" cy="284.0" r="3.3" fill="#D95F02" stroke="#D95F02"/><circle cx="201.6" cy="483.2" r="3.3" fill="#1B9E77" stroke="#1B9E77"/><circle cx="189.3" cy="310.1" r="3.3" fill="#D95F02" stroke="#D95F02"/><circle cx="526.2" cy="434.7" r="3.3" fill="#1B9E77" stroke="#1B9E77"/><circle cx="503.6" cy="279.5" r="3.3" fill="#D95F02" stroke="#D95F02"/><circle cx="201.8" cy="165.4" r="3.3" fill="#D95F02" stroke="#D95F02"/><circle cx="191.5" cy="352.9" r="3.3" fill="#1B9E77" stroke="#1B9E77"/><circle cx="204.5" cy="287.5" r="3.3" fill="#1B9E77" stroke="#1B9E77"/><circle cx="506.5" cy="446.3" r="3.3" fill="#D95F02" stroke="#D95F02"/><circle cx="511.3" cy="299.6" r="3.3" fill="#1B9E77" stroke="#1B9E77"/><circle cx="210.1" cy="180.2" r="3.3" fill="#D95F02" stroke="#D95F02"/><circle cx="209.1" cy="284.7" r="3.3" fill="#1B9E77" stroke="#1B9E77"/><circle cx="526.5" cy="301.4" r="3.3" fill="#D95F02" stroke="#D95F02"/><circle cx="526.5" cy="215.9" r="3.3" fill="#D95F02" stroke="#D95F02"/><circle cx="201.1" cy="362.7" r="3.3" fill="#1B9E77" stroke="#1B9E77"/><circle cx="526.0" cy="267.3" r="3.3" fill="#D95F02" stroke="#D95F02"/><circle cx="508.3" cy="324.9" r="3.3" fill="#D95F02" stroke="#D95F02"/><circle cx="209.8" cy="188.8" r="3.3" fill="#D95F02" stroke="#D95F02"/><circle cx="199.0" cy="152.6" r="3.3" fill="#1B9E77" stroke="#1B9E77"/><circle cx="205.1" cy="277.4" r="3.3" fill="#D95F02" stroke="#D95F02"/><circle cx="202.5" cy="433.7" r="3.3" fill="#D95F02" stroke="#D95F02"/><circle cx="514.4" cy="338.0" r="3.3" fill="#D95F02" stroke="#D95F02"/><circle cx="205.5" cy="337.7" r="3.3" fill="#1B9E77" stroke="#1B9E77"/><circle cx="193.7" cy="413.9" r="3.3" fill="#D95F02" stroke="#D95F02"/><circle cx="210.8" cy="286.6" r="3.3" fill="#1B9E77" stroke="#1B9E77"/><circle cx="505.3" cy="304.0" r="3.3" fill="#D95F02" stroke="#D95F02"/><circle cx="506.3" cy="500.9" r="3.3" fill="#1B9E77" stroke="#1B9E77"/><circle cx="505.0" cy="430.8" r="3.3" fill="#1B9E77" stroke="#1B9E77"/><circle cx="187.9" cy="525.2" r="3.3" fill="#D95F02" stroke="#D95F02"/><circle cx="210.5" cy="329.9" r="3.3" fill="#D95F02" stroke="#D95F02"/><circle cx="501.4" cy="655.4" r="3.3" fill="#D95F02" stroke="#D95F02"/><circle cx="530.6" cy="279.7" r="3.3" fill="#1B9E77" stroke="#1B9E77"/><circle cx="213.6" cy="171.2" r="3.3" fill="#1B9E77" stroke="#1B9E77"/><circle cx="513.7" cy="380.2" r="3.3" fill="#D95F02" stroke="#D95F02"/><circle cx="206.7" cy="362.1" r="3.3" fill="#1B9E77" stroke="#1B9E77"/><circle cx="213.0" cy="284.4" r="3.3" fill="#D95F02" stroke="#D95F02"/><circle cx="517.7" cy="400.7" r="3.3" fill="#D95F02" stroke="#D95F02"/><circle cx="515.7" cy="312.1" r="3.3" fill="#D95F02" stroke="#D95F02"/><circle cx="198.5" cy="274.5" r="3.3" fill="#1B9E77" stroke="#1B9E77"/><circle cx="510.5" cy="328.6" r="3.3" fill="#1B9E77" stroke="#1B9E77"/><circle cx="510.5" cy="225.4" r="3.3" fill="#D95F02" stroke="#D95F02"/><circle cx="512.3" cy="502.3" r="3.3" fill="#1B9E77" stroke="#1B9E77"/><circle cx="515.0" cy="291.0" r="3.3" fill="#D95F02" stroke="#D95F02"/><circle cx="203.2" cy="410.0" r="3.3" fill="#1B9E77" stroke="#1B9E77"/><circle cx="189.4" cy="461.3" r="3.3" fill="#1B9E77" stroke="#1B9E77"/><circle cx="192.1" cy="378.6" r="3.3" fill="#1B9E77" stroke="#1B9E77"/><circle cx="211.8" cy="453.4" r="3.3" fill="#D95F02" stroke="#D95F02"/><circle cx="215.7" cy="354.8" r="3.3" fill="#D95F02" stroke="#D95F02"/><circle cx="212.4" cy="171.1" r="3.3" fill="#D95F02" stroke="#D95F02"/><circle cx="208.2" cy="194.6" r="3.3" fill="#D95F02" stroke="#D95F02"/><circle cx="186.9" cy="256.3" r="3.3" fill="#1B9E77" stroke="#1B9E77"/><circle cx="201.0" cy="639.1" r="3.3" fill="#1B9E77" stroke="#1B9E77"/><circle cx="209.3" cy="238.4" r="3.3" fill="#1B9E77" stroke="#1B9E77"/><circle cx="189.7" cy="237.5" r="3.3" fill="#D95F02" stroke="#D95F02"/><circle cx="521.3" cy="307.2" r="3.3" fill="#D95F02" stroke="#D95F02"/><circle cx="193.6" cy="397.3" r="3.3" fill="#1B9E77" stroke="#1B9E77"/><circle cx="187.2" cy="410.7" r="3.3" fill="#D95F02" stroke="#D95F02"/><circle cx="505.7" cy="436.9" r="3.3" fill="#D95F02" stroke="#D95F02"/><circle cx="509.1" cy="324.4" r="3.3" fill="#1B9E77" stroke="#1B9E77"/><circle cx="503.7" cy="445.4" r="3.3" fill="#1B9E77" stroke="#1B9E77"/><circle cx="520.1" cy="250.2" r="3.3" fill="#D95F02" stroke="#D95F02"/><circle cx="528.7" cy="333.1" r="3.3" fill="#1B9E77" stroke="#1B9E77"/><circle cx="504.8" cy="279.7" r="3.3" fill="#D95F02" stroke="#D95F02"/><circle cx="201.8" cy="285.5" r="3.3" fill="#D95F02" stroke="#D95F02"/><circle cx="501.5" cy="238.9" r="3.3" fill="#D95F02" stroke="#D95F02"/><circle cx="201.8" cy="434.6" r="3.3" fill="#1B9E77" stroke="#1B9E77"/><circle cx="506.6" cy="523.3" r="3.3" fill="#1B9E77" stroke="#1B9E77"/><circle cx="185.4" cy="288.8" r="3.3" fill="#D95F02" stroke="#D95F02"/><circle cx="500.4" cy="436.4" r="3.3" fill="#D95F02" stroke="#D95F02"/><circle cx="528.6" cy="349.3" r="3.3" fill="#D95F02" stroke="#D95F02"/><circle cx="186.5" cy="305.4" r="3.3" fill="#D95F02" stroke="#D95F02"/><circle cx="212.7" cy="481.1" r="3.3" fill="#D95F02" stroke="#D95F02"/><circle cx="514.8" cy="353.8" r="3.3" fill="#D95F02" stroke="#D95F02"/><circle cx="521.2" cy="284.9" r="3.3" fill="#1B9E77" stroke="#1B9E77"/><circle cx="502.2" cy="210.3" r="3.3" fill="#D95F02" stroke="#D95F02"/><circle cx="216.6" cy="260.5" r="3.3" fill="#D95F02" stroke="#D95F02"/><circle cx="508.3" cy="436.0" r="3.3" fill="#1B9E77" stroke="#1B9E77"/><circle cx="505.5" cy="382.6" r="3.3" fill="#D95F02" stroke="#D95F02"/><circle cx="195.3" cy="300.2" r="3.3" fill="#D95F02" stroke="#D95F02"/><circle cx="199.1" cy="267.9" r="3.3" fill="#1B9E77" stroke="#1B9E77"/><circle cx="195.7" cy="250.1" r="3.3" fill="#D95F02" stroke="#D95F02"/><circle cx="192.9" cy="339.8" r="3.3" fill="#D95F02" stroke="#D95F02"/><circle cx="205.7" cy="349.0" r="3.3" fill="#D95F02" stroke="#D95F02"/><circle cx="202.7" cy="444.7" r="3.3" fill="#1B9E77" stroke="#1B9E77"/><circle cx="189.1" cy="407.0" r="3.3" fill="#D95F02" stroke="#D95F02"/><circle cx="186.0" cy="477.2" r="3.3" fill="#D95F02" stroke="#D95F02"/><circle cx="511.2" cy="353.6" r="3.3" fill="#1B9E77" stroke="#1B9E77"/><circle cx="191.6" cy="432.0" r="3.3" fill="#D95F02" stroke="#D95F02"/><circle cx="186.7" cy="170.2" r="3.3" fill="#1B9E77" stroke="#1B9E77"/><circle cx="187.6" cy="375.5" r="3.3" fill="#1B9E77" stroke="#1B9E77"/><circle cx="205.5" cy="323.2" r="3.3" fill="#1B9E77" stroke="#1B9E77"/><circle cx="203.4" cy="382.6" r="3.3" fill="#1B9E77" stroke="#1B9E77"/><circle cx="216.3" cy="332.8" r="3.3" fill="#1B9E77" stroke="#1B9E77"/><circle cx="213.1" cy="324.1" r="3.3" fill="#D95F02" stroke="#D95F02"/><circle cx="523.7" cy="377.8" r="3.3" fill="#D95F02" stroke="#D95F02"/><circle cx="203.8" cy="340.2" r="3.3" fill="#1B9E77" stroke="#1B9E77"/><circle cx="505.7" cy="396.6" r="3.3" fill="#D95F02" stroke="#D95F02"/><circle cx="502.7" cy="282.3" r="3.3" fill="#1B9E77" stroke="#1B9E77"/><circle cx="521.7" cy="279.8" r="3.3" fill="#1B9E77" stroke="#1B9E77"/><circle cx="521.8" cy="420.7" r="3.3" fill="#1B9E77" stroke="#1B9E77"/><circle cx="511.5" cy="387.6" r="3.3" fill="#1B9E77" stroke="#1B9E77"/><circle cx="193.4" cy="522.9" r="3.3" fill="#1B9E77" stroke="#1B9E77"/><circle cx="509.7" cy="407.3" r="3.3" fill="#1B9E77" stroke="#1B9E77"/><circle cx="515.0" cy="457.6" r="3.3" fill="#D95F02" stroke="#D95F02"/><circle cx="209.0" cy="351.4" r="3.3" fill="#D95F02" stroke="#D95F02"/><circle cx="513.1" cy="261.5" r="3.3" fill="#1B9E77" stroke="#1B9E77"/><circle cx="186.8" cy="259.5" r="3.3" fill="#1B9E77" stroke="#1B9E77"/><circle cx="192.5" cy="484.6" r="3.3" fill="#D95F02" stroke="#D95F02"/><circle cx="524.3" cy="212.7" r="3.3" fill="#D95F02" stroke="#D95F02"/><circle cx="517.2" cy="309.9" r="3.3" fill="#D95F02" stroke="#D95F02"/><circle cx="207.7" cy="380.9" r="3.3" fill="#D95F02" stroke="#D95F02"/><circle cx="517.1" cy="340.1" r="3.3" fill="#1B9E77" stroke="#1B9E77"/><circle cx="511.2" cy="302.4" r="3.3" fill="#D95F02" stroke="#D95F02"/><circle cx="187.9" cy="335.2" r="3.3" fill="#D95F02" stroke="#D95F02"/><circle cx="502.3" cy="308.1" r="3.3" fill="#D95F02" stroke="#D95F02"/><circle cx="530.4" cy="263.2" r="3.3" fill="#D95F02" stroke="#D95F02"/><circle cx="501.3" cy="399.2" r="3.3" fill="#1B9E77" stroke="#1B9E77"/><circle cx="212.1" cy="250.1" r="3.3" fill="#1B9E77" stroke="#1B9E77"/><circle cx="188.9" cy="325.2" r="3.3" fill="#D95F02" stroke="#D95F02"/><circle cx="510.3" cy="574.1" r="3.3" fill="#D95F02" stroke="#D95F02"/><circle cx="522.7" cy="469.0" r="3.3" fill="#D95F02" stroke="#D95F02"/><circle cx="531.7" cy="482.0" r="3.3" fill="#1B9E77" stroke="#1B9E77"/><circle cx="527.4" cy="288.3" r="3.3" fill="#D95F02" stroke="#D95F02"/><circle cx="517.8" cy="378.2" r="3.3" fill="#1B9E77" stroke="#1B9E77"/><circle cx="214.1" cy="287.0" r="3.3" fill="#D95F02" stroke="#D95F02"/><circle cx="506.4" cy="426.9" r="3.3" fill="#1B9E77" stroke="#1B9E77"/><circle cx="200.7" cy="461.8" r="3.3" fill="#1B9E77" stroke="#1B9E77"/><circle cx="210.4" cy="376.7" r="3.3" fill="#D95F02" stroke="#D95F02"/><circle cx="192.3" cy="333.3" r="3.3" fill="#1B9E77" stroke="#1B9E77"/><circle cx="192.3" cy="333.9" r="3.3" fill="#1B9E77" stroke="#1B9E77"/><circle cx="191.8" cy="263.2" r="3.3" fill="#D95F02" stroke="#D95F02"/><circle cx="201.0" cy="382.9" r="3.3" fill="#1B9E77" stroke="#1B9E77"/><circle cx="511.9" cy="374.8" r="3.3" fill="#1B9E77" stroke="#1B9E77"/><circle cx="211.4" cy="383.3" r="3.3" fill="#1B9E77" stroke="#1B9E77"/><circle cx="518.1" cy="289.3" r="3.3" fill="#1B9E77" stroke="#1B9E77"/><circle cx="197.5" cy="301.3" r="3.3" fill="#1B9E77" stroke="#1B9E77"/><circle cx="194.9" cy="453.5" r="3.3" fill="#D95F02" stroke="#D95F02"/><circle cx="506.6" cy="537.0" r="3.3" fill="#D95F02" stroke="#D95F02"/><circle cx="205.9" cy="386.3" r="3.3" fill="#1B9E77" stroke="#1B9E77"/><circle cx="510.7" cy="480.7" r="3.3" fill="#D95F02" stroke="#D95F02"/><circle cx="213.3" cy="382.9" r="3.3" fill="#D95F02" stroke="#D95F02"/><circle cx="522.2" cy="335.0" r="3.3" fill="#D95F02" stroke="#D95F02"/><circle cx="216.1" cy="325.5" r="3.3" fill="#1B9E77" stroke="#1B9E77"/><circle cx="506.0" cy="347.0" r="3.3" fill="#D95F02" stroke="#D95F02"/><circle cx="523.9" cy="250.3" r="3.3" fill="#D95F02" stroke="#D95F02"/><circle cx="529.1" cy="462.0" r="3.3" fill="#D95F02" stroke="#D95F02"/><circle cx="210.5" cy="426.5" r="3.3" fill="#1B9E77" stroke="#1B9E77"/><circle cx="187.7" cy="311.0" r="3.3" fill="#D95F02" stroke="#D95F02"/><circle cx="208.6" cy="238.3" r="3.3" fill="#1B9E77" stroke="#1B9E77"/><circle cx="194.5" cy="380.2" r="3.3" fill="#1B9E77" stroke="#1B9E77"/><circle cx="206.7" cy="364.0" r="3.3" fill="#1B9E77" stroke="#1B9E77"/><circle cx="522.2" cy="423.8" r="3.3" fill="#D95F02" stroke="#D95F02"/><circle cx="521.4" cy="361.7" r="3.3" fill="#1B9E77" stroke="#1B9E77"/><circle cx="211.2" cy="250.0" r="3.3" fill="#1B9E77" stroke="#1B9E77"/><circle cx="520.3" cy="331.7" r="3.3" fill="#D95F02" stroke="#D95F02"/><circle cx="510.7" cy="300.5" r="3.3" fill="#D95F02" stroke="#D95F02"/><circle cx="214.6" cy="263.6" r="3.3" fill="#1B9E77" stroke="#1B9E77"/><circle cx="503.7" cy="187.7" r="3.3" fill="#D95F02" stroke="#D95F02"/><circle cx="194.8" cy="274.7" r="3.3" fill="#1B9E77" stroke="#1B9E77"/><circle cx="207.1" cy="182.7" r="3.3" fill="#1B9E77" stroke="#1B9E77"/><circle cx="528.4" cy="364.4" r="3.3" fill="#1B9E77" stroke="#1B9E77"/><circle cx="195.8" cy="437.0" r="3.3" fill="#D95F02" stroke="#D95F02"/><circle cx="514.3" cy="284.8" r="3.3" fill="#1B9E77" stroke="#1B9E77"/><circle cx="193.9" cy="206.7" r="3.3" fill="#1B9E77" stroke="#1B9E77"/><circle cx="517.4" cy="264.9" r="3.3" fill="#D95F02" stroke="#D95F02"/><circle cx="503.2" cy="268.7" r="3.3" fill="#1B9E77" stroke="#1B9E77"/><circle cx="214.5" cy="195.2" r="3.3" fill="#1B9E77" stroke="#1B9E77"/><circle cx="198.0" cy="262.6" r="3.3" fill="#1B9E77" stroke="#1B9E77"/><circle cx="501.5" cy="259.8" r="3.3" fill="#1B9E77" stroke="#1B9E77"/><circle cx="206.6" cy="307.4" r="3.3" fill="#1B9E77" stroke="#1B9E77"/><circle cx="507.7" cy="217.1" r="3.3" fill="#1B9E77" stroke="#1B9E77"/><circle cx="204.7" cy="577.6" r="3.3" fill="#1B9E77" stroke="#1B9E77"/><circle cx="508.2" cy="285.5" r="3.3" fill="#1B9E77" stroke="#1B9E77"/><circle cx="525.8" cy="434.4" r="3.3" fill="#D95F02" stroke="#D95F02"/><circle cx="198.1" cy="329.2" r="3.3" fill="#1B9E77" stroke="#1B9E77"/><circle cx="209.9" cy="382.1" r="3.3" fill="#1B9E77" stroke="#1B9E77"/><circle cx="521.9" cy="292.6" r="3.3" fill="#1B9E77" stroke="#1B9E77"/><circle cx="213.1" cy="427.8" r="3.3" fill="#1B9E77" stroke="#1B9E77"/><circle cx="521.3" cy="475.8" r="3.3" fill="#D95F02" stroke="#D95F02"/><circle cx="506.9" cy="332.0" r="3.3" fill="#1B9E77" stroke="#1B9E77"/><circle cx="198.1" cy="408.9" r="3.3" fill="#1B9E77" stroke="#1B9E77"/><circle cx="525.2" cy="157.4" r="3.3" fill="#1B9E77" stroke="#1B9E77"/><circle cx="205.4" cy="378.5" r="3.3" fill="#1B9E77" stroke="#1B9E77"/><circle cx="515.3" cy="550.9" r="3.3" fill="#D95F02" stroke="#D95F02"/><circle cx="193.8" cy="504.3" r="3.3" fill="#D95F02" stroke="#D95F02"/><circle cx="503.1" cy="242.0" r="3.3" fill="#D95F02" stroke="#D95F02"/><circle cx="512.2" cy="291.0" r="3.3" fill="#D95F02" stroke="#D95F02"/><circle cx="190.9" cy="290.1" r="3.3" fill="#D95F02" stroke="#D95F02"/><circle cx="186.4" cy="231.1" r="3.3" fill="#D95F02" stroke="#D95F02"/><circle cx="518.0" cy="380.3" r="3.3" fill="#1B9E77" stroke="#1B9E77"/><circle cx="203.9" cy="548.0" r="3.3" fill="#D95F02" stroke="#D95F02"/><circle cx="197.0" cy="430.7" r="3.3" fill="#D95F02" stroke="#D95F02"/><circle cx="526.9" cy="372.6" r="3.3" fill="#1B9E77" stroke="#1B9E77"/><circle cx="196.6" cy="190.5" r="3.3" fill="#D95F02" stroke="#D95F02"/><circle cx="198.8" cy="449.3" r="3.3" fill="#1B9E77" stroke="#1B9E77"/><circle cx="214.8" cy="413.1" r="3.3" fill="#D95F02" stroke="#D95F02"/><circle cx="196.3" cy="385.6" r="3.3" fill="#D95F02" stroke="#D95F02"/><circle cx="215.1" cy="238.2" r="3.3" fill="#D95F02" stroke="#D95F02"/><circle cx="210.5" cy="508.2" r="3.3" fill="#1B9E77" stroke="#1B9E77"/><circle cx="207.5" cy="240.4" r="3.3" fill="#1B9E77" stroke="#1B9E77"/><circle cx="194.7" cy="509.4" r="3.3" fill="#D95F02" stroke="#D95F02"/><circle cx="510.4" cy="239.0" r="3.3" fill="#1B9E77" stroke="#1B9E77"/><circle cx="526.5" cy="159.5" r="3.3" fill="#D95F02" stroke="#D95F02"/><circle cx="211.1" cy="300.8" r="3.3" fill="#1B9E77" stroke="#1B9E77"/><circle cx="507.1" cy="262.3" r="3.3" fill="#1B9E77" stroke="#1B9E77"/><circle cx="198.2" cy="475.0" r="3.3" fill="#D95F02" stroke="#D95F02"/><circle cx="203.9" cy="339.6" r="3.3" fill="#D95F02" stroke="#D95F02"/><circle cx="504.3" cy="531.4" r="3.3" fill="#1B9E77" stroke="#1B9E77"/><circle cx="192.1" cy="371.1" r="3.3" fill="#1B9E77" stroke="#1B9E77"/><circle cx="203.5" cy="304.9" r="3.3" fill="#D95F02" stroke="#D95F02"/><circle cx="208.5" cy="447.5" r="3.3" fill="#1B9E77" stroke="#1B9E77"/><circle cx="524.4" cy="241.2" r="3.3" fill="#D95F02" stroke="#D95F02"/><circle cx="206.9" cy="275.6" r="3.3" fill="#D95F02" stroke="#D95F02"/><circle cx="518.5" cy="409.6" r="3.3" fill="#1B9E77" stroke="#1B9E77"/><circle cx="195.0" cy="384.1" r="3.3" fill="#D95F02" stroke="#D95F02"/><circle cx="518.9" cy="281.9" r="3.3" fill="#1B9E77" stroke="#1B9E77"/><circle cx="214.7" cy="315.0" r="3.3" fill="#D95F02" stroke="#D95F02"/><circle cx="525.5" cy="181.5" r="3.3" fill="#1B9E77" stroke="#1B9E77"/><circle cx="528.7" cy="285.9" r="3.3" fill="#1B9E77" stroke="#1B9E77"/><circle cx="192.9" cy="209.2" r="3.3" fill="#D95F02" stroke="#D95F02"/><circle cx="210.3" cy="409.4" r="3.3" fill="#D95F02" stroke="#D95F02"/><circle cx="200.5" cy="383.5" r="3.3" fill="#D95F02" stroke="#D95F02"/><circle cx="204.8" cy="500.3" r="3.3" fill="#1B9E77" stroke="#1B9E77"/><circle cx="189.0" cy="449.7" r="3.3" fill="#1B9E77" stroke="#1B9E77"/><circle cx="518.5" cy="381.2" r="3.3" fill="#D95F02" stroke="#D95F02"/><circle cx="529.2" cy="260.1" r="3.3" fill="#1B9E77" stroke="#1B9E77"/><circle cx="208.8" cy="377.4" r="3.3" fill="#D95F02" stroke="#D95F02"/><circle cx="529.5" cy="292.1" r="3.3" fill="#D95F02" stroke="#D95F02"/><circle cx="202.0" cy="406.0" r="3.3" fill="#1B9E77" stroke="#1B9E77"/><circle cx="213.3" cy="411.0" r="3.3" fill="#D95F02" stroke="#D95F02"/><circle cx="507.4" cy="207.1" r="3.3" fill="#D95F02" stroke="#D95F02"/><circle cx="524.7" cy="556.0" r="3.3" fill="#1B9E77" stroke="#1B9E77"/><circle cx="211.8" cy="383.5" r="3.3" fill="#D95F02" stroke="#D95F02"/><circle cx="192.5" cy="355.7" r="3.3" fill="#D95F02" stroke="#D95F02"/><circle cx="196.6" cy="291.3" r="3.3" fill="#D95F02" stroke="#D95F02"/><circle cx="502.7" cy="423.2" r="3.3" fill="#D95F02" stroke="#D95F02"/><circle cx="515.3" cy="184.2" r="3.3" fill="#1B9E77" stroke="#1B9E77"/><circle cx="217.1" cy="284.3" r="3.3" fill="#D95F02" stroke="#D95F02"/><circle cx="530.4" cy="153.4" r="3.3" fill="#D95F02" stroke="#D95F02"/><circle cx="525.7" cy="329.7" r="3.3" fill="#1B9E77" stroke="#1B9E77"/><circle cx="528.7" cy="312.4" r="3.3" fill="#1B9E77" stroke="#1B9E77"/><circle cx="186.3" cy="265.3" r="3.3" fill="#D95F02" stroke="#D95F02"/><circle cx="518.0" cy="153.8" r="3.3" fill="#1B9E77" stroke="#1B9E77"/><circle cx="519.6" cy="336.5" r="3.3" fill="#D95F02" stroke="#D95F02"/><circle cx="207.4" cy="240.1" r="3.3" fill="#D95F02" stroke="#D95F02"/><circle cx="514.2" cy="314.1" r="3.3" fill="#1B9E77" stroke="#1B9E77"/><circle cx="186.1" cy="475.3" r="3.3" fill="#D95F02" stroke="#D95F02"/><circle cx="514.3" cy="241.0" r="3.3" fill="#D95F02" stroke="#D95F02"/><circle cx="500.9" cy="401.6" r="3.3" fill="#1B9E77" stroke="#1B9E77"/><circle cx="192.3" cy="460.4" r="3.3" fill="#1B9E77" stroke="#1B9E77"/><circle cx="209.8" cy="531.7" r="3.3" fill="#D95F02" stroke="#D95F02"/><circle cx="522.6" cy="364.0" r="3.3" fill="#1B9E77" stroke="#1B9E77"/><circle cx="516.7" cy="171.1" r="3.3" fill="#D95F02" stroke="#D95F02"/><circle cx="211.0" cy="338.2" r="3.3" fill="#D95F02" stroke="#D95F02"/><circle cx="213.0" cy="401.5" r="3.3" fill="#D95F02" stroke="#D95F02"/><circle cx="187.1" cy="384.2" r="3.3" fill="#D95F02" stroke="#D95F02"/><circle cx="187.5" cy="237.2" r="3.3" fill="#1B9E77" stroke="#1B9E77"/><circle cx="510.0" cy="336.9" r="3.3" fill="#1B9E77" stroke="#1B9E77"/><circle cx="194.0" cy="412.5" r="3.3" fill="#D95F02" stroke="#D95F02"/><circle cx="530.0" cy="331.1" r="3.3" fill="#D95F02" stroke="#D95F02"/><circle cx="216.5" cy="421.2" r="3.3" fill="#D95F02" stroke="#D95F02"/><circle cx="198.2" cy="365.4" r="3.3" fill="#1B9E77" stroke="#1B9E77"/><circle cx="509.7" cy="336.1" r="3.3" fill="#1B9E77" stroke="#1B9E77"/><circle cx="194.2" cy="484.5" r="3.3" fill="#1B9E77" stroke="#1B9E77"/><circle cx="525.3" cy="341.0" r="3.3" fill="#1B9E77" stroke="#1B9E77"/><circle cx="208.4" cy="352.3" r="3.3" fill="#1B9E77" stroke="#1B9E77"/><circle cx="207.2" cy="337.5" r="3.3" fill="#1B9E77" stroke="#1B9E77"/><circle cx="501.5" cy="381.4" r="3.3" fill="#D95F02" stroke="#D95F02"/><circle cx="519.9" cy="400.5" r="3.3" fill="#D95F02" stroke="#D95F02"/><circle cx="529.9" cy="183.8" r="3.3" fill="#D95F02" stroke="#D95F02"/><circle cx="520.4" cy="280.4" r="3.3" fill="#1B9E77" stroke="#1B9E77"/><circle cx="511.4" cy="349.6" r="3.3" fill="#1B9E77" stroke="#1B9E77"/><circle cx="216.4" cy="359.8" r="3.3" fill="#D95F02" stroke="#D95F02"/><circle cx="500.6" cy="332.7" r="3.3" fill="#D95F02" stroke="#D95F02"/><circle cx="501.1" cy="242.1" r="3.3" fill="#1B9E77" stroke="#1B9E77"/><circle cx="215.0" cy="266.4" r="3.3" fill="#1B9E77" stroke="#1B9E77"/><circle cx="202.4" cy="267.9" r="3.3" fill="#1B9E77" stroke="#1B9E77"/><circle cx="523.5" cy="426.0" r="3.3" fill="#1B9E77" stroke="#1B9E77"/><circle cx="500.6" cy="226.3" r="3.3" fill="#D95F02" stroke="#D95F02"/><circle cx="189.4" cy="435.4" r="3.3" fill="#1B9E77" stroke="#1B9E77"/><circle cx="210.6" cy="434.7" r="3.3" fill="#D95F02" stroke="#D95F02"/><circle cx="215.3" cy="520.6" r="3.3" fill="#1B9E77" stroke="#1B9E77"/><circle cx="191.0" cy="378.0" r="3.3" fill="#1B9E77" stroke="#1B9E77"/><circle cx="522.1" cy="311.3" r="3.3" fill="#D95F02" stroke="#D95F02"/><circle cx="188.0" cy="335.0" r="3.3" fill="#D95F02" stroke="#D95F02"/><circle cx="524.9" cy="452.2" r="3.3" fill="#D95F02" stroke="#D95F02"/><circle cx="512.3" cy="235.6" r="3.3" fill="#1B9E77" stroke="#1B9E77"/><circle cx="192.0" cy="359.5" r="3.3" fill="#1B9E77" stroke="#1B9E77"/><circle cx="512.1" cy="386.1" r="3.3" fill="#1B9E77" stroke="#1B9E77"/><circle cx="200.5" cy="266.9" r="3.3" fill="#D95F02" stroke="#D95F02"/><circle cx="206.4" cy="298.8" r="3.3" fill="#1B9E77" stroke="#1B9E77"/><circle cx="186.6" cy="382.2" r="3.3" fill="#1B9E77" stroke="#1B9E77"/><circle cx="211.0" cy="509.8" r="3.3" fill="#D95F02" stroke="#D95F02"/><circle cx="190.4" cy="450.5" r="3.3" fill="#D95F02" stroke="#D95F02"/><circle cx="520.6" cy="232.9" r="3.3" fill="#1B9E77" stroke="#1B9E77"/><circle cx="206.3" cy="428.7" r="3.3" fill="#1B9E77" stroke="#1B9E77"/><circle cx="524.7" cy="255.4" r="3.3" fill="#D95F02" stroke="#D95F02"/><circle cx="501.3" cy="170.4" r="3.3" fill="#D95F02" stroke="#D95F02"/><circle cx="194.0" cy="425.7" r="3.3" fill="#1B9E77" stroke="#1B9E77"/><circle cx="501.6" cy="425.1" r="3.3" fill="#D95F02" stroke="#D95F02"/><circle cx="214.6" cy="209.1" r="3.3" fill="#1B9E77" stroke="#1B9E77"/><circle cx="520.0" cy="275.0" r="3.3" fill="#1B9E77" stroke="#1B9E77"/><circle cx="188.6" cy="331.1" r="3.3" fill="#D95F02" stroke="#D95F02"/><circle cx="215.8" cy="252.3" r="3.3" fill="#1B9E77" stroke="#1B9E77"/><circle cx="500.2" cy="278.7" r="3.3" fill="#1B9E77" stroke="#1B9E77"/><circle cx="525.1" cy="314.5" r="3.3" fill="#D95F02" stroke="#D95F02"/><circle cx="186.3" cy="253.2" r="3.3" fill="#1B9E77" stroke="#1B9E77"/><circle cx="512.4" cy="313.2" r="3.3" fill="#D95F02" stroke="#D95F02"/><circle cx="525.3" cy="275.2" r="3.3" fill="#1B9E77" stroke="#1B9E77"/><circle cx="205.6" cy="313.8" r="3.3" fill="#D95F02" stroke="#D95F02"/><circle cx="193.7" cy="232.6" r="3.3" fill="#D95F02" stroke="#D95F02"/><circle cx="504.1" cy="153.7" r="3.3" fill="#D95F02" stroke="#D95F02"/><circle cx="523.4" cy="275.0" r="3.3" fill="#D95F02" stroke="#D95F02"/><circle cx="529.1" cy="358.4" r="3.3" fill="#1B9E77" stroke="#1B9E77"/><circle cx="208.8" cy="204.7" r="3.3" fill="#D95F02" stroke="#D95F02"/><circle cx="513.2" cy="384.3" r="3.3" fill="#D95F02" stroke="#D95F02"/><circle cx="201.8" cy="308.4" r="3.3" fill="#D95F02" stroke="#D95F02"/><circle cx="198.1" cy="372.2" r="3.3" fill="#D95F02" stroke="#D95F02"/><circle cx="190.0" cy="435.4" r="3.3" fill="#1B9E77" stroke="#1B9E77"/><circle cx="512.0" cy="257.1" r="3.3" fill="#1B9E77" stroke="#1B9E77"/><circle cx="503.5" cy="190.7" r="3.3" fill="#D95F02" stroke="#D95F02"/><circle cx="502.4" cy="509.0" r="3.3" fill="#1B9E77" stroke="#1B9E77"/><circle cx="513.9" cy="422.6" r="3.3" fill="#D95F02" stroke="#D95F02"/><circle cx="205.8" cy="183.2" r="3.3" fill="#D95F02" stroke="#D95F02"/><circle cx="511.6" cy="480.9" r="3.3" fill="#1B9E77" stroke="#1B9E77"/><circle cx="521.6" cy="187.4" r="3.3" fill="#1B9E77" stroke="#1B9E77"/><circle cx="198.7" cy="453.7" r="3.3" fill="#1B9E77" stroke="#1B9E77"/><circle cx="209.2" cy="396.4" r="3.3" fill="#D95F02" stroke="#D95F02"/><circle cx="189.5" cy="258.5" r="3.3" fill="#D95F02" stroke="#D95F02"/><circle cx="198.1" cy="266.1" r="3.3" fill="#D95F02" stroke="#D95F02"/><circle cx="514.6" cy="480.1" r="3.3" fill="#1B9E77" stroke="#1B9E77"/><circle cx="520.2" cy="474.6" r="3.3" fill="#1B9E77" stroke="#1B9E77"/><circle cx="512.1" cy="290.4" r="3.3" fill="#1B9E77" stroke="#1B9E77"/><circle cx="186.7" cy="404.3" r="3.3" fill="#1B9E77" stroke="#1B9E77"/><circle cx="197.9" cy="362.4" r="3.3" fill="#D95F02" stroke="#D95F02"/><circle cx="212.2" cy="232.4" r="3.3" fill="#1B9E77" stroke="#1B9E77"/><circle cx="203.9" cy="331.0" r="3.3" fill="#D95F02" stroke="#D95F02"/><circle cx="528.3" cy="219.8" r="3.3" fill="#1B9E77" stroke="#1B9E77"/><circle cx="520.1" cy="397.5" r="3.3" fill="#D95F02" stroke="#D95F02"/><circle cx="187.6" cy="232.3" r="3.3" fill="#D95F02" stroke="#D95F02"/><circle cx="200.4" cy="386.5" r="3.3" fill="#D95F02" stroke="#D95F02"/><circle cx="518.6" cy="309.7" r="3.3" fill="#1B9E77" stroke="#1B9E77"/><circle cx="508.1" cy="330.6" r="3.3" fill="#D95F02" stroke="#D95F02"/><circle cx="202.6" cy="383.5" r="3.3" fill="#D95F02" stroke="#D95F02"/><circle cx="186.9" cy="249.9" r="3.3" fill="#1B9E77" stroke="#1B9E77"/><circle cx="199.8" cy="494.8" r="3.3" fill="#D95F02" stroke="#D95F02"/><circle cx="526.9" cy="180.9" r="3.3" fill="#D95F02" stroke="#D95F02"/><circle cx="530.5" cy="377.9" r="3.3" fill="#1B9E77" stroke="#1B9E77"/><circle cx="210.3" cy="407.7" r="3.3" fill="#D95F02" stroke="#D95F02"/><circle cx="508.1" cy="234.3" r="3.3" fill="#1B9E77" stroke="#1B9E77"/><circle cx="520.0" cy="307.1" r="3.3" fill="#D95F02" stroke="#D95F02"/><circle cx="208.3" cy="558.8" r="3.3" fill="#1B9E77" stroke="#1B9E77"/><circle cx="523.3" cy="163.7" r="3.3" fill="#1B9E77" stroke="#1B9E77"/><circle cx="510.4" cy="454.5" r="3.3" fill="#1B9E77" stroke="#1B9E77"/><circle cx="526.0" cy="480.7" r="3.3" fill="#D95F02" stroke="#D95F02"/><circle cx="516.5" cy="478.5" r="3.3" fill="#D95F02" stroke="#D95F02"/><circle cx="530.6" cy="389.6" r="3.3" fill="#D95F02" stroke="#D95F02"/><circle cx="203.5" cy="165.9" r="3.3" fill="#D95F02" stroke="#D95F02"/><circle cx="193.2" cy="469.9" r="3.3" fill="#1B9E77" stroke="#1B9E77"/><circle cx="203.7" cy="168.5" r="3.3" fill="#D95F02" stroke="#D95F02"/><circle cx="198.9" cy="555.9" r="3.3" fill="#D95F02" stroke="#D95F02"/><circle cx="194.6" cy="156.5" r="3.3" fill="#1B9E77" stroke="#1B9E77"/><circle cx="530.6" cy="404.2" r="3.3" fill="#D95F02" stroke="#D95F02"/><circle cx="524.9" cy="336.0" r="3.3" fill="#D95F02" stroke="#D95F02"/><circle cx="207.2" cy="479.5" r="3.3" fill="#D95F02" stroke="#D95F02"/><circle cx="214.3" cy="474.5" r="3.3" fill="#1B9E77" stroke="#1B9E77"/><circle cx="193.2" cy="363.4" r="3.3" fill="#1B9E77" stroke="#1B9E77"/><circle cx="522.2" cy="334.8" r="3.3" fill="#1B9E77" stroke="#1B9E77"/><circle cx="513.4" cy="300.7" r="3.3" fill="#1B9E77" stroke="#1B9E77"/><circle cx="528.9" cy="311.5" r="3.3" fill="#D95F02" stroke="#D95F02"/><circle cx="213.5" cy="180.1" r="3.3" fill="#1B9E77" stroke="#1B9E77"/><circle cx="199.4" cy="470.3" r="3.3" fill="#1B9E77" stroke="#1B9E77"/><circle cx="507.5" cy="308.5" r="3.3" fill="#1B9E77" stroke="#1B9E77"/><circle cx="215.3" cy="502.1" r="3.3" fill="#D95F02" stroke="#D95F02"/><circle cx="516.2" cy="308.1" r="3.3" fill="#1B9E77" stroke="#1B9E77"/><circle cx="192.8" cy="184.5" r="3.3" fill="#1B9E77" stroke="#1B9E77"/><circle cx="531.9" cy="469.6" r="3.3" fill="#1B9E77" stroke="#1B9E77"/><circle cx="208.4" cy="535.0" r="3.3" fill="#D95F02" stroke="#D95F02"/><circle cx="528.4" cy="243.1" r="3.3" fill="#1B9E77" stroke="#1B9E77"/><circle cx="514.6" cy="260.9" r="3.3" fill="#D95F02" stroke="#D95F02"/><circle cx="213.6" cy="485.4" r="3.3" fill="#1B9E77" stroke="#1B9E77"/><circle cx="201.3" cy="411.4" r="3.3" fill="#D95F02" stroke="#D95F02"/><circle cx="204.8" cy="292.2" r="3.3" fill="#1B9E77" stroke="#1B9E77"/><circle cx="509.6" cy="255.5" r="3.3" fill="#D95F02" stroke="#D95F02"/><circle cx="528.5" cy="380.9" r="3.3" fill="#1B9E77" stroke="#1B9E77"/><circle cx="520.1" cy="277.0" r="3.3" fill="#1B9E77" stroke="#1B9E77"/><circle cx="503.9" cy="438.1" r="3.3" fill="#1B9E77" stroke="#1B9E77"/><circle cx="511.8" cy="282.6" r="3.3" fill="#1B9E77" stroke="#1B9E77"/><circle cx="211.5" cy="235.9" r="3.3" fill="#1B9E77" stroke="#1B9E77"/><circle cx="500.5" cy="312.3" r="3.3" fill="#D95F02" stroke="#D95F02"/><circle cx="523.7" cy="387.3" r="3.3" fill="#D95F02" stroke="#D95F02"/><circle cx="209.9" cy="373.4" r="3.3" fill="#D95F02" stroke="#D95F02"/><circle cx="500.5" cy="187.7" r="3.3" fill="#1B9E77" stroke="#1B9E77"/><circle cx="195.8" cy="279.9" r="3.3" fill="#1B9E77" stroke="#1B9E77"/><circle cx="188.5" cy="338.8" r="3.3" fill="#1B9E77" stroke="#1B9E77"/><circle cx="202.2" cy="388.4" r="3.3" fill="#D95F02" stroke="#D95F02"/><circle cx="513.3" cy="182.1" r="3.3" fill="#D95F02" stroke="#D95F02"/><circle cx="191.4" cy="255.5" r="3.3" fill="#D95F02" stroke="#D95F02"/><circle cx="522.9" cy="323.6" r="3.3" fill="#D95F02" stroke="#D95F02"/><circle cx="212.2" cy="382.1" r="3.3" fill="#D95F02" stroke="#D95F02"/><circle cx="197.1" cy="282.9" r="3.3" fill="#D95F02" stroke="#D95F02"/><circle cx="530.6" cy="486.5" r="3.3" fill="#D95F02" stroke="#D95F02"/><circle cx="208.2" cy="477.3" r="3.3" fill="#1B9E77" stroke="#1B9E77"/><circle cx="209.8" cy="383.0" r="3.3" fill="#D95F02" stroke="#D95F02"/><circle cx="215.7" cy="166.8" r="3.3" fill="#1B9E77" stroke="#1B9E77"/><circle cx="204.7" cy="402.9" r="3.3" fill="#1B9E77" stroke="#1B9E77"/><circle cx="208.9" cy="470.3" r="3.3" fill="#1B9E77" stroke="#1B9E77"/><circle cx="501.0" cy="226.0" r="3.3" fill="#D95F02" stroke="#D95F02"/><circle cx="213.0" cy="171.0" r="3.3" fill="#1B9E77" stroke="#1B9E77"/><circle cx="525.4" cy="209.9" r="3.3" fill="#1B9E77" stroke="#1B9E77"/><circle cx="209.2" cy="353.1" r="3.3" fill="#D95F02" stroke="#D95F02"/><circle cx="216.6" cy="234.6" r="3.3" fill="#D95F02" stroke="#D95F02"/><circle cx="203.2" cy="193.6" r="3.3" fill="#1B9E77" stroke="#1B9E77"/><circle cx="192.4" cy="375.8" r="3.3" fill="#1B9E77" stroke="#1B9E77"/><circle cx="207.3" cy="469.3" r="3.3" fill="#1B9E77" stroke="#1B9E77"/><circle cx="201.8" cy="529.7" r="3.3" fill="#1B9E77" stroke="#1B9E77"/><circle cx="515.6" cy="517.2" r="3.3" fill="#1B9E77" stroke="#1B9E77"/><circle cx="527.5" cy="265.9" r="3.3" fill="#1B9E77" stroke="#1B9E77"/><circle cx="212.3" cy="503.4" r="3.3" fill="#D95F02" stroke="#D95F02"/><circle cx="509.1" cy="372.1" r="3.3" fill="#D95F02" stroke="#D95F02"/><circle cx="202.9" cy="256.5" r="3.3" fill="#1B9E77" stroke="#1B9E77"/><circle cx="207.9" cy="312.2" r="3.3" fill="#1B9E77" stroke="#1B9E77"/><circle cx="185.7" cy="299.8" r="3.3" fill="#D95F02" stroke="#D95F02"/><circle cx="503.0" cy="565.4" r="3.3" fill="#D95F02" stroke="#D95F02"/><circle cx="199.1" cy="431.2" r="3.3" fill="#1B9E77" stroke="#1B9E77"/><circle cx="202.5" cy="458.1" r="3.3" fill="#1B9E77" stroke="#1B9E77"/><circle cx="202.7" cy="432.1" r="3.3" fill="#1B9E77" stroke="#1B9E77"/><circle cx="529.3" cy="526.3" r="3.3" fill="#D95F02" stroke="#D95F02"/><circle cx="509.0" cy="291.0" r="3.3" fill="#1B9E77" stroke="#1B9E77"/><circle cx="501.9" cy="493.4" r="3.3" fill="#1B9E77" stroke="#1B9E77"/><circle cx="186.6" cy="603.0" r="3.3" fill="#D95F02" stroke="#D95F02"/><circle cx="521.6" cy="470.8" r="3.3" fill="#1B9E77" stroke="#1B9E77"/><circle cx="502.3" cy="501.9" r="3.3" fill="#D95F02" stroke="#D95F02"/><circle cx="529.0" cy="506.1" r="3.3" fill="#1B9E77" stroke="#1B9E77"/><circle cx="205.1" cy="378.5" r="3.3" fill="#D95F02" stroke="#D95F02"/><circle cx="530.1" cy="533.1" r="3.3" fill="#D95F02" stroke="#D95F02"/><circle cx="199.0" cy="500.8" r="3.3" fill="#D95F02" stroke="#D95F02"/><circle cx="207.6" cy="310.3" r="3.3" fill="#1B9E77" stroke="#1B9E77"/><circle cx="215.4" cy="335.4" r="3.3" fill="#D95F02" stroke="#D95F02"/><circle cx="510.2" cy="315.5" r="3.3" fill="#D95F02" stroke="#D95F02"/><circle cx="188.1" cy="361.8" r="3.3" fill="#1B9E77" stroke="#1B9E77"/><circle cx="210.0" cy="233.1" r="3.3" fill="#D95F02" stroke="#D95F02"/><circle cx="526.2" cy="349.7" r="3.3" fill="#D95F02" stroke="#D95F02"/><circle cx="208.1" cy="170.1" r="3.3" fill="#D95F02" stroke="#D95F02"/><circle cx="210.9" cy="455.5" r="3.3" fill="#1B9E77" stroke="#1B9E77"/><circle cx="198.2" cy="648.5" r="3.3" fill="#D95F02" stroke="#D95F02"/><circle cx="202.7" cy="385.0" r="3.3" fill="#D95F02" stroke="#D95F02"/><circle cx="507.0" cy="399.0" r="3.3" fill="#D95F02" stroke="#D95F02"/><circle cx="519.5" cy="476.8" r="3.3" fill="#1B9E77" stroke="#1B9E77"/><circle cx="512.2" cy="349.6" r="3.3" fill="#D95F02" stroke="#D95F02"/><circle cx="523.2" cy="399.8" r="3.3" fill="#1B9E77" stroke="#1B9E77"/><circle cx="212.2" cy="311.7" r="3.3" fill="#D95F02" stroke="#D95F02"/><circle cx="204.2" cy="279.8" r="3.3" fill="#D95F02" stroke="#D95F02"/><circle cx="528.6" cy="526.5" r="3.3" fill="#1B9E77" stroke="#1B9E77"/><circle cx="209.4" cy="434.2" r="3.3" fill="#D95F02" stroke="#D95F02"/><circle cx="505.7" cy="429.0" r="3.3" fill="#D95F02" stroke="#D95F02"/><circle cx="188.5" cy="313.5" r="3.3" fill="#1B9E77" stroke="#1B9E77"/><circle cx="193.8" cy="652.9" r="3.3" fill="#D95F02" stroke="#D95F02"/><circle cx="515.7" cy="380.8" r="3.3" fill="#D95F02" stroke="#D95F02"/><circle cx="519.2" cy="412.2" r="3.3" fill="#1B9E77" stroke="#1B9E77"/><circle cx="213.9" cy="202.8" r="3.3" fill="#1B9E77" stroke="#1B9E77"/><circle cx="204.0" cy="283.9" r="3.3" fill="#1B9E77" stroke="#1B9E77"/><circle cx="503.0" cy="259.0" r="3.3" fill="#1B9E77" stroke="#1B9E77"/><circle cx="501.7" cy="469.9" r="3.3" fill="#1B9E77" stroke="#1B9E77"/><circle cx="525.0" cy="265.2" r="3.3" fill="#D95F02" stroke="#D95F02"/><circle cx="525.4" cy="476.6" r="3.3" fill="#D95F02" stroke="#D95F02"/><circle cx="187.1" cy="413.5" r="3.3" fill="#1B9E77" stroke="#1B9E77"/><circle cx="204.7" cy="206.3" r="3.3" fill="#D95F02" stroke="#D95F02"/><circle cx="525.8" cy="232.6" r="3.3" fill="#D95F02" stroke="#D95F02"/><circle cx="509.2" cy="267.1" r="3.3" fill="#1B9E77" stroke="#1B9E77"/><circle cx="194.4" cy="379.4" r="3.3" fill="#1B9E77" stroke="#1B9E77"/><circle cx="522.0" cy="243.0" r="3.3" fill="#1B9E77" stroke="#1B9E77"/><circle cx="531.2" cy="323.9" r="3.3" fill="#1B9E77" stroke="#1B9E77"/><circle cx="200.9" cy="267.3" r="3.3" fill="#1B9E77" stroke="#1B9E77"/><circle cx="211.1" cy="435.0" r="3.3" fill="#1B9E77" stroke="#1B9E77"/><circle cx="216.5" cy="226.8" r="3.3" fill="#D95F02" stroke="#D95F02"/><circle cx="506.1" cy="335.7" r="3.3" fill="#1B9E77" stroke="#1B9E77"/><circle cx="502.4" cy="183.0" r="3.3" fill="#D95F02" stroke="#D95F02"/><circle cx="505.4" cy="163.3" r="3.3" fill="#D95F02" stroke="#D95F02"/><circle cx="531.4" cy="182.7" r="3.3" fill="#D95F02" stroke="#D95F02"/><circle cx="209.9" cy="444.5" r="3.3" fill="#1B9E77" stroke="#1B9E77"/><circle cx="524.1" cy="437.8" r="3.3" fill="#D95F02" stroke="#D95F02"/><circle cx="212.0" cy="396.7" r="3.3" fill="#1B9E77" stroke="#1B9E77"/><circle cx="522.5" cy="206.0" r="3.3" fill="#1B9E77" stroke="#1B9E77"/><circle cx="520.1" cy="482.2" r="3.3" fill="#1B9E77" stroke="#1B9E77"/><circle cx="216.9" cy="292.1" r="3.3" fill="#1B9E77" stroke="#1B9E77"/><circle cx="201.4" cy="267.8" r="3.3" fill="#D95F02" stroke="#D95F02"/><circle cx="198.6" cy="355.6" r="3.3" fill="#1B9E77" stroke="#1B9E77"/><circle cx="519.4" cy="236.6" r="3.3" fill="#1B9E77" stroke="#1B9E77"/><circle cx="216.4" cy="479.3" r="3.3" fill="#1B9E77" stroke="#1B9E77"/><circle cx="213.9" cy="446.3" r="3.3" fill="#D95F02" stroke="#D95F02"/><circle cx="203.5" cy="213.4" r="3.3" fill="#D95F02" stroke="#D95F02"/><circle cx="523.5" cy="481.5" r="3.3" fill="#D95F02" stroke="#D95F02"/><circle cx="510.2" cy="275.4" r="3.3" fill="#D95F02" stroke="#D95F02"/><circle cx="507.1" cy="307.8" r="3.3" fill="#D95F02" stroke="#D95F02"/><circle cx="524.7" cy="437.4" r="3.3" fill="#D95F02" stroke="#D95F02"/><circle cx="501.2" cy="387.5" r="3.3" fill="#1B9E77" stroke="#1B9E77"/><circle cx="207.1" cy="303.5" r="3.3" fill="#1B9E77" stroke="#1B9E77"/><circle cx="511.9" cy="360.4" r="3.3" fill="#D95F02" stroke="#D95F02"/><circle cx="523.2" cy="304.0" r="3.3" fill="#D95F02" stroke="#D95F02"/><circle cx="195.8" cy="363.9" r="3.3" fill="#D95F02" stroke="#D95F02"/><circle cx="529.3" cy="386.3" r="3.3" fill="#1B9E77" stroke="#1B9E77"/><circle cx="205.4" cy="236.1" r="3.3" fill="#1B9E77" stroke="#1B9E77"/><circle cx="208.8" cy="328.6" r="3.3" fill="#D95F02" stroke="#D95F02"/><circle cx="506.5" cy="289.6" r="3.3" fill="#D95F02" stroke="#D95F02"/><circle cx="185.4" cy="155.8" r="3.3" fill="#D95F02" stroke="#D95F02"/><circle cx="503.9" cy="407.3" r="3.3" fill="#D95F02" stroke="#D95F02"/><circle cx="518.8" cy="337.8" r="3.3" fill="#1B9E77" stroke="#1B9E77"/><circle cx="213.5" cy="339.1" r="3.3" fill="#1B9E77" stroke="#1B9E77"/><circle cx="526.9" cy="241.1" r="3.3" fill="#D95F02" stroke="#D95F02"/><circle cx="208.0" cy="240.9" r="3.3" fill="#D95F02" stroke="#D95F02"/><circle cx="211.2" cy="426.8" r="3.3" fill="#D95F02" stroke="#D95F02"/><circle cx="504.1" cy="413.8" r="3.3" fill="#D95F02" stroke="#D95F02"/><circle cx="505.3" cy="274.2" r="3.3" fill="#D95F02" stroke="#D95F02"/><circle cx="203.2" cy="338.8" r="3.3" fill="#1B9E77" stroke="#1B9E77"/><circle cx="192.1" cy="500.5" r="3.3" fill="#1B9E77" stroke="#1B9E77"/><circle cx="191.9" cy="301.0" r="3.3" fill="#D95F02" stroke="#D95F02"/><circle cx="506.7" cy="160.0" r="3.3" fill="#D95F02" stroke="#D95F02"/><circle cx="216.6" cy="233.3" r="3.3" fill="#D95F02" stroke="#D95F02"/><circle cx="519.8" cy="518.9" r="3.3" fill="#1B9E77" stroke="#1B9E77"/><circle cx="501.3" cy="291.1" r="3.3" fill="#D95F02" stroke="#D95F02"/><circle cx="521.5" cy="353.9" r="3.3" fill="#1B9E77" stroke="#1B9E77"/><circle cx="504.8" cy="290.5" r="3.3" fill="#D95F02" stroke="#D95F02"/><circle cx="199.8" cy="338.0" r="3.3" fill="#D95F02" stroke="#D95F02"/><circle cx="203.7" cy="203.0" r="3.3" fill="#1B9E77" stroke="#1B9E77"/><circle cx="194.7" cy="469.1" r="3.3" fill="#D95F02" stroke="#D95F02"/><circle cx="509.1" cy="171.4" r="3.3" fill="#1B9E77" stroke="#1B9E77"/><circle cx="527.7" cy="218.7" r="3.3" fill="#1B9E77" stroke="#1B9E77"/><circle cx="525.6" cy="363.5" r="3.3" fill="#D95F02" stroke="#D95F02"/><circle cx="189.3" cy="450.0" r="3.3" fill="#1B9E77" stroke="#1B9E77"/><circle cx="519.6" cy="281.8" r="3.3" fill="#D95F02" stroke="#D95F02"/><circle cx="508.8" cy="337.3" r="3.3" fill="#1B9E77" stroke="#1B9E77"/><circle cx="205.9" cy="266.6" r="3.3" fill="#1B9E77" stroke="#1B9E77"/><circle cx="507.8" cy="423.7" r="3.3" fill="#1B9E77" stroke="#1B9E77"/><circle cx="190.7" cy="429.1" r="3.3" fill="#1B9E77" stroke="#1B9E77"/><circle cx="192.4" cy="309.5" r="3.3" fill="#D95F02" stroke="#D95F02"/><circle cx="528.8" cy="304.9" r="3.3" fill="#1B9E77" stroke="#1B9E77"/><circle cx="204.1" cy="505.0" r="3.3" fill="#1B9E77" stroke="#1B9E77"/><circle cx="509.8" cy="438.1" r="3.3" fill="#1B9E77" stroke="#1B9E77"/><circle cx="187.8" cy="325.4" r="3.3" fill="#1B9E77" stroke="#1B9E77"/><circle cx="502.6" cy="284.0" r="3.3" fill="#1B9E77" stroke="#1B9E77"/><circle cx="197.1" cy="201.3" r="3.3" fill="#D95F02" stroke="#D95F02"/><circle cx="204.3" cy="518.6" r="3.3" fill="#D95F02" stroke="#D95F02"/><circle cx="521.5" cy="501.5" r="3.3" fill="#D95F02" stroke="#D95F02"/><circle cx="213.6" cy="412.4" r="3.3" fill="#D95F02" stroke="#D95F02"/><circle cx="521.5" cy="312.6" r="3.3" fill="#D95F02" stroke="#D95F02"/><circle cx="503.3" cy="284.0" r="3.3" fill="#1B9E77" stroke="#1B9E77"/><circle cx="197.0" cy="277.4" r="3.3" fill="#1B9E77" stroke="#1B9E77"/><circle cx="208.9" cy="494.0" r="3.3" fill="#D95F02" stroke="#D95F02"/><circle cx="504.5" cy="328.9" r="3.3" fill="#D95F02" stroke="#D95F02"/><circle cx="198.2" cy="232.4" r="3.3" fill="#D95F02" stroke="#D95F02"/><circle cx="193.2" cy="459.7" r="3.3" fill="#1B9E77" stroke="#1B9E77"/><circle cx="187.7" cy="510.4" r="3.3" fill="#D95F02" stroke="#D95F02"/><circle cx="203.8" cy="482.7" r="3.3" fill="#1B9E77" stroke="#1B9E77"/><circle cx="199.8" cy="219.2" r="3.3" fill="#1B9E77" stroke="#1B9E77"/><circle cx="519.0" cy="302.7" r="3.3" fill="#D95F02" stroke="#D95F02"/><circle cx="506.9" cy="180.1" r="3.3" fill="#D95F02" stroke="#D95F02"/><circle cx="509.0" cy="341.2" r="3.3" fill="#D95F02" stroke="#D95F02"/><circle cx="193.3" cy="251.6" r="3.3" fill="#D95F02" stroke="#D95F02"/><circle cx="510.9" cy="336.6" r="3.3" fill="#1B9E77" stroke="#1B9E77"/><circle cx="206.4" cy="405.7" r="3.3" fill="#1B9E77" stroke="#1B9E77"/><circle cx="522.8" cy="360.2" r="3.3" fill="#1B9E77" stroke="#1B9E77"/><circle cx="186.5" cy="238.4" r="3.3" fill="#1B9E77" stroke="#1B9E77"/><circle cx="501.1" cy="497.5" r="3.3" fill="#D95F02" stroke="#D95F02"/><circle cx="185.3" cy="304.2" r="3.3" fill="#D95F02" stroke="#D95F02"/><circle cx="514.4" cy="242.4" r="3.3" fill="#1B9E77" stroke="#1B9E77"/><circle cx="198.7" cy="251.8" r="3.3" fill="#D95F02" stroke="#D95F02"/><circle cx="204.1" cy="456.5" r="3.3" fill="#1B9E77" stroke="#1B9E77"/><circle cx="210.0" cy="500.0" r="3.3" fill="#D95F02" stroke="#D95F02"/><circle cx="518.8" cy="263.1" r="3.3" fill="#D95F02" stroke="#D95F02"/><circle cx="192.2" cy="341.5" r="3.3" fill="#1B9E77" stroke="#1B9E77"/><circle cx="214.1" cy="432.2" r="3.3" fill="#D95F02" stroke="#D95F02"/><circle cx="523.4" cy="433.5" r="3.3" fill="#1B9E77" stroke="#1B9E77"/><circle cx="211.7" cy="387.9" r="3.3" fill="#D95F02" stroke="#D95F02"/><circle cx="516.2" cy="350.5" r="3.3" fill="#1B9E77" stroke="#1B9E77"/><circle cx="186.7" cy="256.7" r="3.3" fill="#1B9E77" stroke="#1B9E77"/><circle cx="526.8" cy="284.9" r="3.3" fill="#1B9E77" stroke="#1B9E77"/><circle cx="517.3" cy="154.5" r="3.3" fill="#D95F02" stroke="#D95F02"/><circle cx="510.1" cy="195.2" r="3.3" fill="#D95F02" stroke="#D95F02"/><circle cx="528.9" cy="429.8" r="3.3" fill="#1B9E77" stroke="#1B9E77"/><circle cx="192.1" cy="314.2" r="3.3" fill="#D95F02" stroke="#D95F02"/><circle cx="195.7" cy="159.4" r="3.3" fill="#1B9E77" stroke="#1B9E77"/><circle cx="528.4" cy="376.7" r="3.3" fill="#1B9E77" stroke="#1B9E77"/><circle cx="215.6" cy="332.2" r="3.3" fill="#D95F02" stroke="#D95F02"/><circle cx="517.8" cy="408.7" r="3.3" fill="#D95F02" stroke="#D95F02"/><circle cx="527.9" cy="181.3" r="3.3" fill="#D95F02" stroke="#D95F02"/><circle cx="210.2" cy="480.8" r="3.3" fill="#1B9E77" stroke="#1B9E77"/><circle cx="511.9" cy="310.2" r="3.3" fill="#D95F02" stroke="#D95F02"/><circle cx="208.8" cy="454.7" r="3.3" fill="#D95F02" stroke="#D95F02"/><circle cx="186.3" cy="387.7" r="3.3" fill="#1B9E77" stroke="#1B9E77"/><circle cx="504.6" cy="449.0" r="3.3" fill="#D95F02" stroke="#D95F02"/><circle cx="190.8" cy="341.4" r="3.3" fill="#D95F02" stroke="#D95F02"/><circle cx="191.7" cy="255.5" r="3.3" fill="#D95F02" stroke="#D95F02"/><circle cx="190.9" cy="384.3" r="3.3" fill="#1B9E77" stroke="#1B9E77"/><circle cx="507.0" cy="267.0" r="3.3" fill="#1B9E77" stroke="#1B9E77"/><circle cx="192.4" cy="433.1" r="3.3" fill="#1B9E77" stroke="#1B9E77"/><circle cx="531.0" cy="251.3" r="3.3" fill="#1B9E77" stroke="#1B9E77"/><circle cx="523.5" cy="382.6" r="3.3" fill="#D95F02" stroke="#D95F02"/><circle cx="187.2" cy="517.1" r="3.3" fill="#D95F02" stroke="#D95F02"/><circle cx="202.0" cy="260.7" r="3.3" fill="#1B9E77" stroke="#1B9E77"/><circle cx="199.7" cy="396.1" r="3.3" fill="#1B9E77" stroke="#1B9E77"/><circle cx="197.5" cy="373.7" r="3.3" fill="#D95F02" stroke="#D95F02"/><circle cx="502.8" cy="215.2" r="3.3" fill="#D95F02" stroke="#D95F02"/><circle cx="513.3" cy="279.1" r="3.3" fill="#1B9E77" stroke="#1B9E77"/><circle cx="512.9" cy="425.2" r="3.3" fill="#D95F02" stroke="#D95F02"/><circle cx="192.7" cy="177.9" r="3.3" fill="#1B9E77" stroke="#1B9E77"/><circle cx="209.8" cy="351.2" r="3.3" fill="#1B9E77" stroke="#1B9E77"/><circle cx="213.3" cy="523.5" r="3.3" fill="#1B9E77" stroke="#1B9E77"/><circle cx="197.7" cy="339.2" r="3.3" fill="#1B9E77" stroke="#1B9E77"/><circle cx="195.3" cy="338.2" r="3.3" fill="#1B9E77" stroke="#1B9E77"/><circle cx="214.3" cy="217.0" r="3.3" fill="#1B9E77" stroke="#1B9E77"/><circle cx="502.6" cy="404.0" r="3.3" fill="#1B9E77" stroke="#1B9E77"/><circle cx="201.5" cy="188.3" r="3.3" fill="#D95F02" stroke="#D95F02"/><circle cx="195.6" cy="388.1" r="3.3" fill="#D95F02" stroke="#D95F02"/><circle cx="529.2" cy="403.4" r="3.3" fill="#D95F02" stroke="#D95F02"/><circle cx="206.2" cy="398.2" r="3.3" fill="#D95F02" stroke="#D95F02"/><circle cx="198.7" cy="456.3" r="3.3" fill="#1B9E77" stroke="#1B9E77"/><circle cx="207.2" cy="262.0" r="3.3" fill="#1B9E77" stroke="#1B9E77"/><circle cx="214.5" cy="267.8" r="3.3" fill="#1B9E77" stroke="#1B9E77"/><circle cx="216.9" cy="508.4" r="3.3" fill="#D95F02" stroke="#D95F02"/><circle cx="503.1" cy="340.7" r="3.3" fill="#D95F02" stroke="#D95F02"/><circle cx="530.6" cy="523.2" r="3.3" fill="#1B9E77" stroke="#1B9E77"/><circle cx="504.0" cy="162.1" r="3.3" fill="#D95F02" stroke="#D95F02"/><circle cx="530.5" cy="472.2" r="3.3" fill="#1B9E77" stroke="#1B9E77"/><circle cx="528.7" cy="253.9" r="3.3" fill="#1B9E77" stroke="#1B9E77"/><circle cx="501.8" cy="316.7" r="3.3" fill="#1B9E77" stroke="#1B9E77"/><circle cx="203.7" cy="291.2" r="3.3" fill="#D95F02" stroke="#D95F02"/><circle cx="522.0" cy="388.9" r="3.3" fill="#D95F02" stroke="#D95F02"/><circle cx="518.6" cy="176.9" r="3.3" fill="#D95F02" stroke="#D95F02"/><circle cx="518.6" cy="362.7" r="3.3" fill="#D95F02" stroke="#D95F02"/><circle cx="188.1" cy="263.5" r="3.3" fill="#D95F02" stroke="#D95F02"/><circle cx="523.6" cy="403.3" r="3.3" fill="#1B9E77" stroke="#1B9E77"/><circle cx="514.0" cy="299.3" r="3.3" fill="#D95F02" stroke="#D95F02"/><circle cx="524.6" cy="163.7" r="3.3" fill="#D95F02" stroke="#D95F02"/><circle cx="198.0" cy="179.5" r="3.3" fill="#1B9E77" stroke="#1B9E77"/><circle cx="191.5" cy="204.0" r="3.3" fill="#D95F02" stroke="#D95F02"/><circle cx="215.7" cy="497.0" r="3.3" fill="#1B9E77" stroke="#1B9E77"/><circle cx="524.8" cy="409.9" r="3.3" fill="#D95F02" stroke="#D95F02"/><circle cx="507.8" cy="258.8" r="3.3" fill="#1B9E77" stroke="#1B9E77"/><circle cx="205.7" cy="316.1" r="3.3" fill="#D95F02" stroke="#D95F02"/><circle cx="517.4" cy="450.6" r="3.3" fill="#D95F02" stroke="#D95F02"/><circle cx="195.5" cy="452.6" r="3.3" fill="#1B9E77" stroke="#1B9E77"/><circle cx="209.7" cy="300.0" r="3.3" fill="#1B9E77" stroke="#1B9E77"/><circle cx="215.1" cy="375.9" r="3.3" fill="#1B9E77" stroke="#1B9E77"/><circle cx="201.7" cy="251.8" r="3.3" fill="#D95F02" stroke="#D95F02"/><circle cx="201.8" cy="311.2" r="3.3" fill="#D95F02" stroke="#D95F02"/><circle cx="204.8" cy="462.1" r="3.3" fill="#1B9E77" stroke="#1B9E77"/><circle cx="212.3" cy="217.3" r="3.3" fill="#1B9E77" stroke="#1B9E77"/><circle cx="517.7" cy="257.8" r="3.3" fill="#1B9E77" stroke="#1B9E77"/><circle cx="530.0" cy="506.9" r="3.3" fill="#1B9E77" stroke="#1B9E77"/><circle cx="516.2" cy="338.7" r="3.3" fill="#1B9E77" stroke="#1B9E77"/><circle cx="524.8" cy="298.4" r="3.3" fill="#1B9E77" stroke="#1B9E77"/><circle cx="186.9" cy="498.7" r="3.3" fill="#D95F02" stroke="#D95F02"/><circle cx="504.7" cy="290.0" r="3.3" fill="#1B9E77" stroke="#1B9E77"/><circle cx="529.3" cy="250.1" r="3.3" fill="#D95F02" stroke="#D95F02"/><circle cx="514.2" cy="206.2" r="3.3" fill="#1B9E77" stroke="#1B9E77"/><circle cx="526.3" cy="234.0" r="3.3" fill="#D95F02" stroke="#D95F02"/><circle cx="200.2" cy="380.3" r="3.3" fill="#1B9E77" stroke="#1B9E77"/><circle cx="189.4" cy="431.5" r="3.3" fill="#1B9E77" stroke="#1B9E77"/><circle cx="216.7" cy="336.8" r="3.3" fill="#D95F02" stroke="#D95F02"/><circle cx="501.7" cy="385.9" r="3.3" fill="#1B9E77" stroke="#1B9E77"/><circle cx="205.4" cy="427.3" r="3.3" fill="#D95F02" stroke="#D95F02"/><circle cx="200.9" cy="357.4" r="3.3" fill="#D95F02" stroke="#D95F02"/><circle cx="204.1" cy="300.0" r="3.3" fill="#D95F02" stroke="#D95F02"/><circle cx="517.4" cy="494.5" r="3.3" fill="#D95F02" stroke="#D95F02"/><circle cx="210.0" cy="470.2" r="3.3" fill="#1B9E77" stroke="#1B9E77"/><circle cx="204.8" cy="184.5" r="3.3" fill="#D95F02" stroke="#D95F02"/><circle cx="502.1" cy="478.7" r="3.3" fill="#1B9E77" stroke="#1B9E77"/><circle cx="510.5" cy="287.8" r="3.3" fill="#D95F02" stroke="#D95F02"/><circle cx="522.5" cy="421.1" r="3.3" fill="#1B9E77" stroke="#1B9E77"/><circle cx="185.7" cy="509.7" r="3.3" fill="#1B9E77" stroke="#1B9E77"/><circle cx="515.1" cy="430.0" r="3.3" fill="#D95F02" stroke="#D95F02"/><circle cx="519.1" cy="304.8" r="3.3" fill="#1B9E77" stroke="#1B9E77"/><circle cx="509.1" cy="218.9" r="3.3" fill="#1B9E77" stroke="#1B9E77"/><circle cx="511.2" cy="261.3" r="3.3" fill="#D95F02" stroke="#D95F02"/><circle cx="193.5" cy="509.5" r="3.3" fill="#D95F02" stroke="#D95F02"/><circle cx="201.6" cy="455.7" r="3.3" fill="#1B9E77" stroke="#1B9E77"/><circle cx="189.5" cy="158.9" r="3.3" fill="#1B9E77" stroke="#1B9E77"/><circle cx="511.2" cy="455.8" r="3.3" fill="#1B9E77" stroke="#1B9E77"/><circle cx="531.3" cy="407.3" r="3.3" fill="#D95F02" stroke="#D95F02"/><circle cx="523.7" cy="316.8" r="3.3" fill="#1B9E77" stroke="#1B9E77"/><circle cx="192.4" cy="421.4" r="3.3" fill="#1B9E77" stroke="#1B9E77"/><circle cx="525.0" cy="155.8" r="3.3" fill="#D95F02" stroke="#D95F02"/><circle cx="191.3" cy="337.1" r="3.3" fill="#D95F02" stroke="#D95F02"/><circle cx="529.2" cy="371.3" r="3.3" fill="#1B9E77" stroke="#1B9E77"/><circle cx="213.2" cy="304.0" r="3.3" fill="#1B9E77" stroke="#1B9E77"/><circle cx="185.5" cy="506.8" r="3.3" fill="#1B9E77" stroke="#1B9E77"/><circle cx="196.4" cy="501.3" r="3.3" fill="#1B9E77" stroke="#1B9E77"/><circle cx="204.2" cy="396.8" r="3.3" fill="#1B9E77" stroke="#1B9E77"/><circle cx="501.6" cy="362.3" r="3.3" fill="#D95F02" stroke="#D95F02"/><circle cx="186.8" cy="312.5" r="3.3" fill="#D95F02" stroke="#D95F02"/><circle cx="202.6" cy="387.6" r="3.3" fill="#D95F02" stroke="#D95F02"/><circle cx="202.8" cy="201.9" r="3.3" fill="#1B9E77" stroke="#1B9E77"/><circle cx="192.3" cy="308.8" r="3.3" fill="#D95F02" stroke="#D95F02"/><circle cx="527.8" cy="476.0" r="3.3" fill="#1B9E77" stroke="#1B9E77"/><circle cx="213.0" cy="382.7" r="3.3" fill="#1B9E77" stroke="#1B9E77"/><circle cx="529.8" cy="300.3" r="3.3" fill="#D95F02" stroke="#D95F02"/><circle cx="215.4" cy="408.7" r="3.3" fill="#1B9E77" stroke="#1B9E77"/><circle cx="191.0" cy="411.8" r="3.3" fill="#1B9E77" stroke="#1B9E77"/><circle cx="524.1" cy="282.2" r="3.3" fill="#1B9E77" stroke="#1B9E77"/><circle cx="506.8" cy="653.6" r="3.3" fill="#D95F02" stroke="#D95F02"/><circle cx="516.4" cy="306.5" r="3.3" fill="#D95F02" stroke="#D95F02"/><circle cx="214.5" cy="473.1" r="3.3" fill="#1B9E77" stroke="#1B9E77"/><circle cx="204.5" cy="330.5" r="3.3" fill="#1B9E77" stroke="#1B9E77"/><circle cx="213.1" cy="361.3" r="3.3" fill="#D95F02" stroke="#D95F02"/><circle cx="195.0" cy="338.9" r="3.3" fill="#1B9E77" stroke="#1B9E77"/><circle cx="190.2" cy="193.8" r="3.3" fill="#D95F02" stroke="#D95F02"/><circle cx="203.6" cy="487.0" r="3.3" fill="#D95F02" stroke="#D95F02"/><circle cx="189.9" cy="329.3" r="3.3" fill="#1B9E77" stroke="#1B9E77"/><circle cx="214.9" cy="502.0" r="3.3" fill="#1B9E77" stroke="#1B9E77"/><circle cx="507.2" cy="396.1" r="3.3" fill="#D95F02" stroke="#D95F02"/><circle cx="531.6" cy="497.8" r="3.3" fill="#1B9E77" stroke="#1B9E77"/><circle cx="192.9" cy="218.8" r="3.3" fill="#1B9E77" stroke="#1B9E77"/><circle cx="501.9" cy="373.9" r="3.3" fill="#D95F02" stroke="#D95F02"/><circle cx="517.8" cy="282.9" r="3.3" fill="#1B9E77" stroke="#1B9E77"/><circle cx="203.5" cy="292.4" r="3.3" fill="#D95F02" stroke="#D95F02"/><circle cx="211.5" cy="331.5" r="3.3" fill="#1B9E77" stroke="#1B9E77"/><circle cx="516.7" cy="398.7" r="3.3" fill="#1B9E77" stroke="#1B9E77"/><circle cx="194.7" cy="348.0" r="3.3" fill="#1B9E77" stroke="#1B9E77"/><circle cx="530.3" cy="268.4" r="3.3" fill="#D95F02" stroke="#D95F02"/><circle cx="516.7" cy="355.9" r="3.3" fill="#1B9E77" stroke="#1B9E77"/><circle cx="530.5" cy="228.3" r="3.3" fill="#D95F02" stroke="#D95F02"/><circle cx="531.2" cy="468.7" r="3.3" fill="#1B9E77" stroke="#1B9E77"/><circle cx="519.6" cy="260.5" r="3.3" fill="#1B9E77" stroke="#1B9E77"/><circle cx="199.0" cy="325.6" r="3.3" fill="#1B9E77" stroke="#1B9E77"/><circle cx="509.0" cy="395.5" r="3.3" fill="#D95F02" stroke="#D95F02"/><circle cx="520.2" cy="215.1" r="3.3" fill="#D95F02" stroke="#D95F02"/><circle cx="195.3" cy="520.6" r="3.3" fill="#1B9E77" stroke="#1B9E77"/><circle cx="531.3" cy="397.4" r="3.3" fill="#1B9E77" stroke="#1B9E77"/><circle cx="196.6" cy="285.0" r="3.3" fill="#1B9E77" stroke="#1B9E77"/><circle cx="214.1" cy="568.9" r="3.3" fill="#D95F02" stroke="#D95F02"/><circle cx="516.8" cy="456.9" r="3.3" fill="#1B9E77" stroke="#1B9E77"/><circle cx="192.7" cy="444.4" r="3.3" fill="#D95F02" stroke="#D95F02"/><circle cx="501.3" cy="236.3" r="3.3" fill="#D95F02" stroke="#D95F02"/><circle cx="510.4" cy="359.3" r="3.3" fill="#1B9E77" stroke="#1B9E77"/><circle cx="526.7" cy="288.3" r="3.3" fill="#D95F02" stroke="#D95F02"/><circle cx="527.9" cy="250.9" r="3.3" fill="#1B9E77" stroke="#1B9E77"/><circle cx="210.6" cy="421.7" r="3.3" fill="#1B9E77" stroke="#1B9E77"/><circle cx="511.4" cy="251.9" r="3.3" fill="#1B9E77" stroke="#1B9E77"/><circle cx="524.2" cy="499.5" r="3.3" fill="#D95F02" stroke="#D95F02"/><circle cx="188.3" cy="242.6" r="3.3" fill="#D95F02" stroke="#D95F02"/><circle cx="504.4" cy="357.5" r="3.3" fill="#1B9E77" stroke="#1B9E77"/><circle cx="197.3" cy="285.7" r="3.3" fill="#1B9E77" stroke="#1B9E77"/><circle cx="504.3" cy="287.7" r="3.3" fill="#1B9E77" stroke="#1B9E77"/><circle cx="204.3" cy="160.2" r="3.3" fill="#1B9E77" stroke="#1B9E77"/><circle cx="530.4" cy="423.7" r="3.3" fill="#1B9E77" stroke="#1B9E77"/><circle cx="513.4" cy="287.6" r="3.3" fill="#D95F02" stroke="#D95F02"/><circle cx="211.3" cy="334.1" r="3.3" fill="#D95F02" stroke="#D95F02"/><circle cx="529.7" cy="469.6" r="3.3" fill="#1B9E77" stroke="#1B9E77"/><circle cx="194.2" cy="332.2" r="3.3" fill="#D95F02" stroke="#D95F02"/><circle cx="199.9" cy="302.6" r="3.3" fill="#1B9E77" stroke="#1B9E77"/><circle cx="205.9" cy="430.0" r="3.3" fill="#1B9E77" stroke="#1B9E77"/><circle cx="196.8" cy="381.3" r="3.3" fill="#1B9E77" stroke="#1B9E77"/><circle cx="508.6" cy="183.7" r="3.3" fill="#1B9E77" stroke="#1B9E77"/><circle cx="525.2" cy="408.8" r="3.3" fill="#1B9E77" stroke="#1B9E77"/><circle cx="525.8" cy="263.7" r="3.3" fill="#1B9E77" stroke="#1B9E77"/><circle cx="504.3" cy="231.8" r="3.3" fill="#D95F02" stroke="#D95F02"/><circle cx="518.3" cy="386.2" r="3.3" fill="#D95F02" stroke="#D95F02"/><circle cx="516.6" cy="157.3" r="3.3" fill="#D95F02" stroke="#D95F02"/><circle cx="516.9" cy="303.7" r="3.3" fill="#D95F02" stroke="#D95F02"/><circle cx="527.1" cy="267.4" r="3.3" fill="#1B9E77" stroke="#1B9E77"/><circle cx="214.5" cy="160.7" r="3.3" fill="#1B9E77" stroke="#1B9E77"/><circle cx="529.7" cy="644.0" r="3.3" fill="#1B9E77" stroke="#1B9E77"/><circle cx="215.8" cy="452.7" r="3.3" fill="#1B9E77" stroke="#1B9E77"/><circle cx="212.9" cy="213.7" r="3.3" fill="#D95F02" stroke="#D95F02"/><circle cx="196.5" cy="401.9" r="3.3" fill="#D95F02" stroke="#D95F02"/><circle cx="193.3" cy="260.1" r="3.3" fill="#1B9E77" stroke="#1B9E77"/><circle cx="191.8" cy="180.9" r="3.3" fill="#1B9E77" stroke="#1B9E77"/><circle cx="202.8" cy="326.3" r="3.3" fill="#D95F02" stroke="#D95F02"/><circle cx="214.4" cy="243.1" r="3.3" fill="#1B9E77" stroke="#1B9E77"/><circle cx="212.7" cy="256.3" r="3.3" fill="#1B9E77" stroke="#1B9E77"/><circle cx="216.3" cy="254.1" r="3.3" fill="#1B9E77" stroke="#1B9E77"/><circle cx="504.4" cy="361.1" r="3.3" fill="#1B9E77" stroke="#1B9E77"/><circle cx="518.4" cy="287.1" r="3.3" fill="#1B9E77" stroke="#1B9E77"/><circle cx="524.3" cy="383.5" r="3.3" fill="#D95F02" stroke="#D95F02"/><circle cx="529.1" cy="506.4" r="3.3" fill="#D95F02" stroke="#D95F02"/><circle cx="191.5" cy="492.6" r="3.3" fill="#1B9E77" stroke="#1B9E77"/><circle cx="199.8" cy="326.5" r="3.3" fill="#D95F02" stroke="#D95F02"/><circle cx="204.9" cy="163.8" r="3.3" fill="#D95F02" stroke="#D95F02"/><circle cx="525.2" cy="389.0" r="3.3" fill="#1B9E77" stroke="#1B9E77"/><circle cx="199.6" cy="255.0" r="3.3" fill="#D95F02" stroke="#D95F02"/><circle cx="522.4" cy="327.6" r="3.3" fill="#1B9E77" stroke="#1B9E77"/><circle cx="517.7" cy="499.3" r="3.3" fill="#D95F02" stroke="#D95F02"/><circle cx="194.7" cy="482.6" r="3.3" fill="#1B9E77" stroke="#1B9E77"/><circle cx="521.7" cy="261.3" r="3.3" fill="#1B9E77" stroke="#1B9E77"/><circle cx="207.7" cy="156.2" r="3.3" fill="#1B9E77" stroke="#1B9E77"/><circle cx="531.6" cy="227.5" r="3.3" fill="#1B9E77" stroke="#1B9E77"/><circle cx="515.0" cy="333.5" r="3.3" fill="#1B9E77" stroke="#1B9E77"/><circle cx="507.2" cy="164.1" r="3.3" fill="#D95F02" stroke="#D95F02"/><circle cx="510.7" cy="477.2" r="3.3" fill="#1B9E77" stroke="#1B9E77"/><circle cx="189.3" cy="243.7" r="3.3" fill="#D95F02" stroke="#D95F02"/><circle cx="525.3" cy="395.7" r="3.3" fill="#1B9E77" stroke="#1B9E77"/><circle cx="513.6" cy="285.4" r="3.3" fill="#D95F02" stroke="#D95F02"/><circle cx="200.0" cy="306.6" r="3.3" fill="#D95F02" stroke="#D95F02"/><circle cx="530.4" cy="462.9" r="3.3" fill="#D95F02" stroke="#D95F02"/><circle cx="525.1" cy="313.8" r="3.3" fill="#D95F02" stroke="#D95F02"/><circle cx="190.2" cy="328.7" r="3.3" fill="#1B9E77" stroke="#1B9E77"/><circle cx="192.4" cy="595.7" r="3.3" fill="#1B9E77" stroke="#1B9E77"/><circle cx="209.6" cy="308.1" r="3.3" fill="#1B9E77" stroke="#1B9E77"/><circle cx="513.3" cy="306.7" r="3.3" fill="#D95F02" stroke="#D95F02"/><circle cx="201.9" cy="376.1" r="3.3" fill="#D95F02" stroke="#D95F02"/><circle cx="210.6" cy="233.4" r="3.3" fill="#D95F02" stroke="#D95F02"/><circle cx="212.7" cy="447.8" r="3.3" fill="#1B9E77" stroke="#1B9E77"/><circle cx="520.3" cy="359.1" r="3.3" fill="#1B9E77" stroke="#1B9E77"/><circle cx="192.3" cy="520.9" r="3.3" fill="#1B9E77" stroke="#1B9E77"/><circle cx="518.7" cy="285.2" r="3.3" fill="#1B9E77" stroke="#1B9E77"/><circle cx="519.9" cy="398.1" r="3.3" fill="#1B9E77" stroke="#1B9E77"/><circle cx="196.5" cy="431.6" r="3.3" fill="#D95F02" stroke="#D95F02"/><circle cx="207.8" cy="264.8" r="3.3" fill="#D95F02" stroke="#D95F02"/><circle cx="185.4" cy="256.0" r="3.3" fill="#D95F02" stroke="#D95F02"/><circle cx="189.0" cy="232.7" r="3.3" fill="#1B9E77" stroke="#1B9E77"/><circle cx="513.6" cy="291.6" r="3.3" fill="#D95F02" stroke="#D95F02"/><circle cx="526.7" cy="284.5" r="3.3" fill="#1B9E77" stroke="#1B9E77"/><circle cx="530.5" cy="194.7" r="3.3" fill="#D95F02" stroke="#D95F02"/><circle cx="514.9" cy="255.8" r="3.3" fill="#1B9E77" stroke="#1B9E77"/><circle cx="526.3" cy="403.3" r="3.3" fill="#1B9E77" stroke="#1B9E77"/><circle cx="213.0" cy="397.8" r="3.3" fill="#1B9E77" stroke="#1B9E77"/><circle cx="525.0" cy="600.3" r="3.3" fill="#1B9E77" stroke="#1B9E77"/><circle cx="193.4" cy="434.8" r="3.3" fill="#1B9E77" stroke="#1B9E77"/><circle cx="514.5" cy="167.2" r="3.3" fill="#1B9E77" stroke="#1B9E77"/><circle cx="214.2" cy="204.5" r="3.3" fill="#D95F02" stroke="#D95F02"/><circle cx="193.7" cy="189.3" r="3.3" fill="#1B9E77" stroke="#1B9E77"/><circle cx="208.2" cy="302.3" r="3.3" fill="#1B9E77" stroke="#1B9E77"/><circle cx="195.0" cy="286.5" r="3.3" fill="#D95F02" stroke="#D95F02"/><circle cx="200.5" cy="312.6" r="3.3" fill="#1B9E77" stroke="#1B9E77"/><circle cx="520.3" cy="261.3" r="3.3" fill="#D95F02" stroke="#D95F02"/><circle cx="191.9" cy="171.2" r="3.3" fill="#1B9E77" stroke="#1B9E77"/><circle cx="208.6" cy="171.1" r="3.3" fill="#D95F02" stroke="#D95F02"/><circle cx="520.1" cy="361.8" r="3.3" fill="#1B9E77" stroke="#1B9E77"/><circle cx="193.4" cy="205.6" r="3.3" fill="#1B9E77" stroke="#1B9E77"/><circle cx="508.4" cy="448.6" r="3.3" fill="#1B9E77" stroke="#1B9E77"/><circle cx="502.0" cy="407.6" r="3.3" fill="#D95F02" stroke="#D95F02"/><circle cx="506.7" cy="378.8" r="3.3" fill="#1B9E77" stroke="#1B9E77"/><circle cx="201.0" cy="302.1" r="3.3" fill="#D95F02" stroke="#D95F02"/><circle cx="526.8" cy="338.6" r="3.3" fill="#1B9E77" stroke="#1B9E77"/><circle cx="526.7" cy="275.1" r="3.3" fill="#1B9E77" stroke="#1B9E77"/><circle cx="515.7" cy="301.4" r="3.3" fill="#D95F02" stroke="#D95F02"/><circle cx="522.7" cy="510.8" r="3.3" fill="#1B9E77" stroke="#1B9E77"/><circle cx="521.8" cy="259.6" r="3.3" fill="#D95F02" stroke="#D95F02"/><circle cx="191.2" cy="258.6" r="3.3" fill="#1B9E77" stroke="#1B9E77"/><circle cx="519.0" cy="398.2" r="3.3" fill="#1B9E77" stroke="#1B9E77"/><circle cx="531.0" cy="374.4" r="3.3" fill="#1B9E77" stroke="#1B9E77"/><circle cx="208.5" cy="163.9" r="3.3" fill="#D95F02" stroke="#D95F02"/><circle cx="527.3" cy="243.4" r="3.3" fill="#D95F02" stroke="#D95F02"/><circle cx="203.9" cy="348.0" r="3.3" fill="#1B9E77" stroke="#1B9E77"/><circle cx="530.0" cy="388.0" r="3.3" fill="#1B9E77" stroke="#1B9E77"/><circle cx="193.6" cy="349.4" r="3.3" fill="#1B9E77" stroke="#1B9E77"/><circle cx="190.5" cy="315.8" r="3.3" fill="#D95F02" stroke="#D95F02"/><circle cx="197.1" cy="316.3" r="3.3" fill="#1B9E77" stroke="#1B9E77"/><circle cx="199.2" cy="329.3" r="3.3" fill="#D95F02" stroke="#D95F02"/><circle cx="211.3" cy="340.8" r="3.3" fill="#D95F02" stroke="#D95F02"/><circle cx="192.3" cy="312.9" r="3.3" fill="#1B9E77" stroke="#1B9E77"/><circle cx="204.3" cy="365.7" r="3.3" fill="#D95F02" stroke="#D95F02"/><circle cx="515.4" cy="354.1" r="3.3" fill="#D95F02" stroke="#D95F02"/><circle cx="501.9" cy="427.4" r="3.3" fill="#1B9E77" stroke="#1B9E77"/><circle cx="520.8" cy="435.5" r="3.3" fill="#1B9E77" stroke="#1B9E77"/><circle cx="528.5" cy="377.4" r="3.3" fill="#D95F02" stroke="#D95F02"/><circle cx="502.0" cy="309.4" r="3.3" fill="#D95F02" stroke="#D95F02"/><circle cx="203.3" cy="301.1" r="3.3" fill="#1B9E77" stroke="#1B9E77"/><circle cx="191.4" cy="432.1" r="3.3" fill="#1B9E77" stroke="#1B9E77"/><circle cx="201.2" cy="497.3" r="3.3" fill="#D95F02" stroke="#D95F02"/><circle cx="199.7" cy="451.6" r="3.3" fill="#D95F02" stroke="#D95F02"/><circle cx="195.4" cy="511.4" r="3.3" fill="#1B9E77" stroke="#1B9E77"/><circle cx="201.4" cy="218.1" r="3.3" fill="#1B9E77" stroke="#1B9E77"/><circle cx="526.2" cy="552.4" r="3.3" fill="#D95F02" stroke="#D95F02"/><circle cx="190.0" cy="479.3" r="3.3" fill="#1B9E77" stroke="#1B9E77"/><circle cx="520.5" cy="390.0" r="3.3" fill="#D95F02" stroke="#D95F02"/><circle cx="526.2" cy="364.5" r="3.3" fill="#1B9E77" stroke="#1B9E77"/><circle cx="529.2" cy="193.0" r="3.3" fill="#1B9E77" stroke="#1B9E77"/><circle cx="525.9" cy="522.8" r="3.3" fill="#D95F02" stroke="#D95F02"/><circle cx="191.2" cy="361.4" r="3.3" fill="#1B9E77" stroke="#1B9E77"/><circle cx="512.3" cy="348.4" r="3.3" fill="#1B9E77" stroke="#1B9E77"/><circle cx="191.4" cy="350.6" r="3.3" fill="#D95F02" stroke="#D95F02"/><circle cx="513.5" cy="482.1" r="3.3" fill="#D95F02" stroke="#D95F02"/><circle cx="216.0" cy="161.8" r="3.3" fill="#1B9E77" stroke="#1B9E77"/><circle cx="213.9" cy="385.3" r="3.3" fill="#D95F02" stroke="#D95F02"/><circle cx="528.5" cy="304.4" r="3.3" fill="#D95F02" stroke="#D95F02"/><circle cx="186.8" cy="316.0" r="3.3" fill="#D95F02" stroke="#D95F02"/><circle cx="200.1" cy="470.4" r="3.3" fill="#D95F02" stroke="#D95F02"/><circle cx="204.4" cy="431.6" r="3.3" fill="#1B9E77" stroke="#1B9E77"/><circle cx="194.5" cy="449.1" r="3.3" fill="#D95F02" stroke="#D95F02"/><circle cx="215.7" cy="239.2" r="3.3" fill="#1B9E77" stroke="#1B9E77"/><circle cx="508.7" cy="476.6" r="3.3" fill="#1B9E77" stroke="#1B9E77"/><circle cx="519.5" cy="434.3" r="3.3" fill="#D95F02" stroke="#D95F02"/><circle cx="519.4" cy="289.1" r="3.3" fill="#D95F02" stroke="#D95F02"/><circle cx="506.5" cy="192.2" r="3.3" fill="#D95F02" stroke="#D95F02"/><circle cx="522.2" cy="205.8" r="3.3" fill="#D95F02" stroke="#D95F02"/><circle cx="521.2" cy="259.6" r="3.3" fill="#D95F02" stroke="#D95F02"/><circle cx="196.3" cy="276.5" r="3.3" fill="#1B9E77" stroke="#1B9E77"/><circle cx="506.6" cy="265.0" r="3.3" fill="#1B9E77" stroke="#1B9E77"/><circle cx="195.1" cy="307.4" r="3.3" fill="#1B9E77" stroke="#1B9E77"/><circle cx="197.5" cy="424.5" r="3.3" fill="#D95F02" stroke="#D95F02"/><circle cx="501.4" cy="529.2" r="3.3" fill="#1B9E77" stroke="#1B9E77"/><circle cx="506.6" cy="262.0" r="3.3" fill="#1B9E77" stroke="#1B9E77"/><circle cx="195.5" cy="258.4" r="3.3" fill="#D95F02" stroke="#D95F02"/><circle cx="214.9" cy="282.3" r="3.3" fill="#1B9E77" stroke="#1B9E77"/><circle cx="516.0" cy="473.4" r="3.3" fill="#D95F02" stroke="#D95F02"/><circle cx="532.2" cy="450.0" r="3.3" fill="#D95F02" stroke="#D95F02"/><circle cx="211.8" cy="375.4" r="3.3" fill="#1B9E77" stroke="#1B9E77"/><circle cx="505.8" cy="308.3" r="3.3" fill="#D95F02" stroke="#D95F02"/><circle cx="198.1" cy="155.5" r="3.3" fill="#D95F02" stroke="#D95F02"/><circle cx="191.9" cy="340.8" r="3.3" fill="#D95F02" stroke="#D95F02"/><circle cx="196.0" cy="447.8" r="3.3" fill="#1B9E77" stroke="#1B9E77"/><circle cx="505.7" cy="241.1" r="3.3" fill="#1B9E77" stroke="#1B9E77"/><circle cx="188.3" cy="478.1" r="3.3" fill="#D95F02" stroke="#D95F02"/><circle cx="208.8" cy="202.2" r="3.3" fill="#D95F02" stroke="#D95F02"/><circle cx="206.6" cy="400.0" r="3.3" fill="#1B9E77" stroke="#1B9E77"/><circle cx="191.2" cy="360.5" r="3.3" fill="#1B9E77" stroke="#1B9E77"/><circle cx="526.2" cy="307.0" r="3.3" fill="#D95F02" stroke="#D95F02"/><circle cx="212.2" cy="234.2" r="3.3" fill="#1B9E77" stroke="#1B9E77"/><circle cx="188.9" cy="411.6" r="3.3" fill="#1B9E77" stroke="#1B9E77"/><circle cx="212.5" cy="357.2" r="3.3" fill="#D95F02" stroke="#D95F02"/><circle cx="207.7" cy="435.0" r="3.3" fill="#D95F02" stroke="#D95F02"/><circle cx="507.7" cy="194.7" r="3.3" fill="#D95F02" stroke="#D95F02"/><circle cx="522.1" cy="238.3" r="3.3" fill="#D95F02" stroke="#D95F02"/><circle cx="505.9" cy="325.6" r="3.3" fill="#1B9E77" stroke="#1B9E77"/><circle cx="505.3" cy="449.9" r="3.3" fill="#1B9E77" stroke="#1B9E77"/><circle cx="190.2" cy="335.4" r="3.3" fill="#D95F02" stroke="#D95F02"/><circle cx="526.7" cy="244.1" r="3.3" fill="#D95F02" stroke="#D95F02"/><circle cx="202.5" cy="363.8" r="3.3" fill="#D95F02" stroke="#D95F02"/><circle cx="202.6" cy="284.8" r="3.3" fill="#D95F02" stroke="#D95F02"/><circle cx="514.5" cy="285.5" r="3.3" fill="#D95F02" stroke="#D95F02"/><circle cx="527.9" cy="281.5" r="3.3" fill="#D95F02" stroke="#D95F02"/><circle cx="517.1" cy="160.7" r="3.3" fill="#D95F02" stroke="#D95F02"/><circle cx="504.0" cy="353.5" r="3.3" fill="#1B9E77" stroke="#1B9E77"/><circle cx="190.0" cy="230.5" r="3.3" fill="#D95F02" stroke="#D95F02"/><circle cx="530.8" cy="184.7" r="3.3" fill="#D95F02" stroke="#D95F02"/><circle cx="512.7" cy="470.5" r="3.3" fill="#1B9E77" stroke="#1B9E77"/><circle cx="522.9" cy="401.5" r="3.3" fill="#1B9E77" stroke="#1B9E77"/><circle cx="524.6" cy="232.4" r="3.3" fill="#1B9E77" stroke="#1B9E77"/><circle cx="211.1" cy="298.6" r="3.3" fill="#1B9E77" stroke="#1B9E77"/><circle cx="207.6" cy="535.6" r="3.3" fill="#1B9E77" stroke="#1B9E77"/><circle cx="189.4" cy="225.7" r="3.3" fill="#1B9E77" stroke="#1B9E77"/><circle cx="186.1" cy="371.5" r="3.3" fill="#1B9E77" stroke="#1B9E77"/><circle cx="199.4" cy="498.6" r="3.3" fill="#D95F02" stroke="#D95F02"/><circle cx="514.8" cy="302.0" r="3.3" fill="#1B9E77" stroke="#1B9E77"/><circle cx="214.3" cy="428.7" r="3.3" fill="#D95F02" stroke="#D95F02"/><circle cx="503.2" cy="413.6" r="3.3" fill="#1B9E77" stroke="#1B9E77"/><circle cx="532.1" cy="188.3" r="3.3" fill="#1B9E77" stroke="#1B9E77"/><circle cx="530.8" cy="371.2" r="3.3" fill="#D95F02" stroke="#D95F02"/><circle cx="200.3" cy="509.4" r="3.3" fill="#1B9E77" stroke="#1B9E77"/><circle cx="190.6" cy="279.6" r="3.3" fill="#D95F02" stroke="#D95F02"/><circle cx="503.5" cy="374.8" r="3.3" fill="#D95F02" stroke="#D95F02"/><circle cx="195.7" cy="388.0" r="3.3" fill="#D95F02" stroke="#D95F02"/><circle cx="532.0" cy="300.5" r="3.3" fill="#D95F02" stroke="#D95F02"/><circle cx="202.2" cy="289.6" r="3.3" fill="#D95F02" stroke="#D95F02"/><circle cx="504.3" cy="363.9" r="3.3" fill="#D95F02" stroke="#D95F02"/><circle cx="513.9" cy="153.7" r="3.3" fill="#D95F02" stroke="#D95F02"/><circle cx="511.7" cy="157.4" r="3.3" fill="#1B9E77" stroke="#1B9E77"/><circle cx="202.3" cy="336.4" r="3.3" fill="#D95F02" stroke="#D95F02"/><circle cx="518.3" cy="397.4" r="3.3" fill="#D95F02" stroke="#D95F02"/><circle cx="198.7" cy="428.2" r="3.3" fill="#D95F02" stroke="#D95F02"/><circle cx="526.9" cy="236.0" r="3.3" fill="#1B9E77" stroke="#1B9E77"/><circle cx="530.9" cy="263.7" r="3.3" fill="#D95F02" stroke="#D95F02"/><circle cx="529.5" cy="430.0" r="3.3" fill="#1B9E77" stroke="#1B9E77"/><circle cx="513.4" cy="375.7" r="3.3" fill="#D95F02" stroke="#D95F02"/><circle cx="213.4" cy="386.8" r="3.3" fill="#1B9E77" stroke="#1B9E77"/><circle cx="502.1" cy="292.4" r="3.3" fill="#D95F02" stroke="#D95F02"/><circle cx="527.8" cy="444.5" r="3.3" fill="#1B9E77" stroke="#1B9E77"/><circle cx="210.3" cy="266.8" r="3.3" fill="#1B9E77" stroke="#1B9E77"/><circle cx="525.0" cy="500.6" r="3.3" fill="#1B9E77" stroke="#1B9E77"/><circle cx="212.2" cy="384.6" r="3.3" fill="#1B9E77" stroke="#1B9E77"/><circle cx="207.1" cy="432.1" r="3.3" fill="#1B9E77" stroke="#1B9E77"/><circle cx="197.6" cy="279.7" r="3.3" fill="#1B9E77" stroke="#1B9E77"/><circle cx="185.5" cy="216.1" r="3.3" fill="#D95F02" stroke="#D95F02"/><circle cx="185.6" cy="336.8" r="3.3" fill="#1B9E77" stroke="#1B9E77"/><circle cx="196.8" cy="259.4" r="3.3" fill="#1B9E77" stroke="#1B9E77"/><circle cx="189.5" cy="434.4" r="3.3" fill="#D95F02" stroke="#D95F02"/><circle cx="205.9" cy="431.0" r="3.3" fill="#D95F02" stroke="#D95F02"/><circle cx="194.2" cy="171.2" r="3.3" fill="#D95F02" stroke="#D95F02"/><circle cx="529.2" cy="336.2" r="3.3" fill="#D95F02" stroke="#D95F02"/><circle cx="526.9" cy="225.9" r="3.3" fill="#1B9E77" stroke="#1B9E77"/><circle cx="187.2" cy="304.2" r="3.3" fill="#D95F02" stroke="#D95F02"/><circle cx="518.5" cy="453.8" r="3.3" fill="#1B9E77" stroke="#1B9E77"/><circle cx="515.3" cy="350.0" r="3.3" fill="#D95F02" stroke="#D95F02"/><circle cx="209.0" cy="449.1" r="3.3" fill="#D95F02" stroke="#D95F02"/><circle cx="528.2" cy="398.9" r="3.3" fill="#1B9E77" stroke="#1B9E77"/><circle cx="213.2" cy="401.9" r="3.3" fill="#D95F02" stroke="#D95F02"/><circle cx="515.0" cy="326.7" r="3.3" fill="#D95F02" stroke="#D95F02"/><circle cx="195.2" cy="432.9" r="3.3" fill="#D95F02" stroke="#D95F02"/><circle cx="189.0" cy="450.2" r="3.3" fill="#D95F02" stroke="#D95F02"/><circle cx="511.4" cy="185.2" r="3.3" fill="#1B9E77" stroke="#1B9E77"/><circle cx="510.2" cy="289.8" r="3.3" fill="#D95F02" stroke="#D95F02"/><circle cx="512.3" cy="436.8" r="3.3" fill="#1B9E77" stroke="#1B9E77"/><circle cx="525.6" cy="259.3" r="3.3" fill="#D95F02" stroke="#D95F02"/><circle cx="522.9" cy="458.4" r="3.3" fill="#1B9E77" stroke="#1B9E77"/><circle cx="207.7" cy="470.6" r="3.3" fill="#D95F02" stroke="#D95F02"/><circle cx="515.0" cy="278.2" r="3.3" fill="#D95F02" stroke="#D95F02"/><circle cx="517.8" cy="308.9" r="3.3" fill="#1B9E77" stroke="#1B9E77"/><circle cx="505.0" cy="479.0" r="3.3" fill="#1B9E77" stroke="#1B9E77"/><circle cx="214.3" cy="377.6" r="3.3" fill="#1B9E77" stroke="#1B9E77"/><circle cx="509.1" cy="508.1" r="3.3" fill="#D95F02" stroke="#D95F02"/><circle cx="200.8" cy="470.1" r="3.3" fill="#D95F02" stroke="#D95F02"/><circle cx="189.9" cy="331.3" r="3.3" fill="#1B9E77" stroke="#1B9E77"/><circle cx="526.4" cy="209.9" r="3.3" fill="#D95F02" stroke="#D95F02"/><circle cx="186.0" cy="350.2" r="3.3" fill="#D95F02" stroke="#D95F02"/><circle cx="505.4" cy="214.2" r="3.3" fill="#D95F02" stroke="#D95F02"/><circle cx="205.4" cy="526.4" r="3.3" fill="#D95F02" stroke="#D95F02"/><circle cx="520.1" cy="286.7" r="3.3" fill="#D95F02" stroke="#D95F02"/><circle cx="199.0" cy="349.0" r="3.3" fill="#1B9E77" stroke="#1B9E77"/><circle cx="504.1" cy="375.3" r="3.3" fill="#1B9E77" stroke="#1B9E77"/><circle cx="518.4" cy="378.1" r="3.3" fill="#1B9E77" stroke="#1B9E77"/><circle cx="518.4" cy="409.7" r="3.3" fill="#D95F02" stroke="#D95F02"/><circle cx="502.9" cy="496.5" r="3.3" fill="#1B9E77" stroke="#1B9E77"/><circle cx="203.6" cy="179.9" r="3.3" fill="#D95F02" stroke="#D95F02"/><circle cx="204.7" cy="167.3" r="3.3" fill="#D95F02" stroke="#D95F02"/><circle cx="513.2" cy="158.9" r="3.3" fill="#D95F02" stroke="#D95F02"/><circle cx="524.4" cy="482.8" r="3.3" fill="#1B9E77" stroke="#1B9E77"/><circle cx="530.8" cy="218.2" r="3.3" fill="#1B9E77" stroke="#1B9E77"/><circle cx="209.0" cy="445.3" r="3.3" fill="#D95F02" stroke="#D95F02"/><circle cx="518.9" cy="336.6" r="3.3" fill="#D95F02" stroke="#D95F02"/><circle cx="193.6" cy="336.2" r="3.3" fill="#D95F02" stroke="#D95F02"/><circle cx="212.2" cy="482.3" r="3.3" fill="#1B9E77" stroke="#1B9E77"/><circle cx="508.2" cy="301.8" r="3.3" fill="#1B9E77" stroke="#1B9E77"/><circle cx="199.0" cy="169.5" r="3.3" fill="#1B9E77" stroke="#1B9E77"/><circle cx="208.5" cy="289.0" r="3.3" fill="#1B9E77" stroke="#1B9E77"/><circle cx="193.6" cy="373.4" r="3.3" fill="#D95F02" stroke="#D95F02"/><circle cx="190.1" cy="284.0" r="3.3" fill="#D95F02" stroke="#D95F02"/><circle cx="198.2" cy="349.0" r="3.3" fill="#D95F02" stroke="#D95F02"/><circle cx="204.5" cy="503.5" r="3.3" fill="#D95F02" stroke="#D95F02"/><circle cx="529.0" cy="371.6" r="3.3" fill="#1B9E77" stroke="#1B9E77"/><circle cx="212.9" cy="338.6" r="3.3" fill="#D95F02" stroke="#D95F02"/><circle cx="517.2" cy="387.4" r="3.3" fill="#1B9E77" stroke="#1B9E77"/><circle cx="194.0" cy="435.9" r="3.3" fill="#D95F02" stroke="#D95F02"/><circle cx="524.6" cy="315.9" r="3.3" fill="#D95F02" stroke="#D95F02"/><circle cx="501.5" cy="312.3" r="3.3" fill="#D95F02" stroke="#D95F02"/><circle cx="520.7" cy="422.7" r="3.3" fill="#D95F02" stroke="#D95F02"/><circle cx="502.9" cy="527.1" r="3.3" fill="#D95F02" stroke="#D95F02"/><circle cx="510.0" cy="154.5" r="3.3" fill="#1B9E77" stroke="#1B9E77"/><circle cx="186.4" cy="304.6" r="3.3" fill="#1B9E77" stroke="#1B9E77"/><circle cx="507.6" cy="193.0" r="3.3" fill="#1B9E77" stroke="#1B9E77"/><circle cx="207.0" cy="379.0" r="3.3" fill="#1B9E77" stroke="#1B9E77"/><circle cx="521.4" cy="156.8" r="3.3" fill="#1B9E77" stroke="#1B9E77"/><circle cx="525.2" cy="364.7" r="3.3" fill="#1B9E77" stroke="#1B9E77"/><circle cx="502.5" cy="349.5" r="3.3" fill="#D95F02" stroke="#D95F02"/><circle cx="502.6" cy="387.8" r="3.3" fill="#1B9E77" stroke="#1B9E77"/><circle cx="526.2" cy="506.5" r="3.3" fill="#D95F02" stroke="#D95F02"/><circle cx="209.1" cy="347.7" r="3.3" fill="#D95F02" stroke="#D95F02"/><circle cx="215.5" cy="397.0" r="3.3" fill="#D95F02" stroke="#D95F02"/><circle cx="201.2" cy="291.2" r="3.3" fill="#1B9E77" stroke="#1B9E77"/><circle cx="216.8" cy="456.8" r="3.3" fill="#D95F02" stroke="#D95F02"/><circle cx="524.7" cy="234.2" r="3.3" fill="#D95F02" stroke="#D95F02"/><circle cx="209.0" cy="485.3" r="3.3" fill="#D95F02" stroke="#D95F02"/><circle cx="521.8" cy="348.3" r="3.3" fill="#D95F02" stroke="#D95F02"/><circle cx="508.8" cy="290.4" r="3.3" fill="#1B9E77" stroke="#1B9E77"/><circle cx="212.6" cy="262.9" r="3.3" fill="#D95F02" stroke="#D95F02"/><circle cx="213.4" cy="476.7" r="3.3" fill="#1B9E77" stroke="#1B9E77"/><circle cx="509.7" cy="327.4" r="3.3" fill="#D95F02" stroke="#D95F02"/><circle cx="531.2" cy="355.8" r="3.3" fill="#D95F02" stroke="#D95F02"/><circle cx="503.6" cy="177.9" r="3.3" fill="#D95F02" stroke="#D95F02"/><circle cx="504.0" cy="307.8" r="3.3" fill="#D95F02" stroke="#D95F02"/><circle cx="523.2" cy="332.5" r="3.3" fill="#1B9E77" stroke="#1B9E77"/><circle cx="194.7" cy="257.3" r="3.3" fill="#D95F02" stroke="#D95F02"/><circle cx="206.8" cy="192.3" r="3.3" fill="#D95F02" stroke="#D95F02"/><circle cx="519.5" cy="285.2" r="3.3" fill="#D95F02" stroke="#D95F02"/><circle cx="522.9" cy="263.9" r="3.3" fill="#1B9E77" stroke="#1B9E77"/><circle cx="509.4" cy="284.8" r="3.3" fill="#1B9E77" stroke="#1B9E77"/><circle cx="192.5" cy="420.7" r="3.3" fill="#1B9E77" stroke="#1B9E77"/><circle cx="512.9" cy="238.9" r="3.3" fill="#1B9E77" stroke="#1B9E77"/><circle cx="205.4" cy="555.9" r="3.3" fill="#1B9E77" stroke="#1B9E77"/><circle cx="212.2" cy="282.1" r="3.3" fill="#D95F02" stroke="#D95F02"/><circle cx="203.6" cy="211.6" r="3.3" fill="#1B9E77" stroke="#1B9E77"/><circle cx="528.6" cy="433.5" r="3.3" fill="#D95F02" stroke="#D95F02"/><circle cx="201.7" cy="301.9" r="3.3" fill="#1B9E77" stroke="#1B9E77"/><circle cx="531.8" cy="508.0" r="3.3" fill="#1B9E77" stroke="#1B9E77"/><circle cx="525.5" cy="164.1" r="3.3" fill="#1B9E77" stroke="#1B9E77"/><circle cx="518.2" cy="409.3" r="3.3" fill="#1B9E77" stroke="#1B9E77"/><circle cx="529.6" cy="240.8" r="3.3" fill="#D95F02" stroke="#D95F02"/><circle cx="216.1" cy="186.1" r="3.3" fill="#1B9E77" stroke="#1B9E77"/><circle cx="207.9" cy="267.3" r="3.3" fill="#D95F02" stroke="#D95F02"/><circle cx="210.7" cy="243.8" r="3.3" fill="#1B9E77" stroke="#1B9E77"/><circle cx="511.6" cy="191.2" r="3.3" fill="#1B9E77" stroke="#1B9E77"/><circle cx="203.8" cy="335.3" r="3.3" fill="#1B9E77" stroke="#1B9E77"/><circle cx="514.2" cy="310.5" r="3.3" fill="#D95F02" stroke="#D95F02"/><circle cx="505.7" cy="281.0" r="3.3" fill="#D95F02" stroke="#D95F02"/><circle cx="521.2" cy="353.1" r="3.3" fill="#1B9E77" stroke="#1B9E77"/><circle cx="529.3" cy="381.8" r="3.3" fill="#1B9E77" stroke="#1B9E77"/><circle cx="523.7" cy="326.8" r="3.3" fill="#1B9E77" stroke="#1B9E77"/><circle cx="512.8" cy="283.8" r="3.3" fill="#D95F02" stroke="#D95F02"/><circle cx="215.5" cy="302.3" r="3.3" fill="#1B9E77" stroke="#1B9E77"/><circle cx="204.1" cy="274.6" r="3.3" fill="#D95F02" stroke="#D95F02"/><circle cx="203.6" cy="404.0" r="3.3" fill="#D95F02" stroke="#D95F02"/><circle cx="198.4" cy="304.4" r="3.3" fill="#D95F02" stroke="#D95F02"/><circle cx="518.4" cy="160.0" r="3.3" fill="#D95F02" stroke="#D95F02"/><circle cx="198.8" cy="307.4" r="3.3" fill="#D95F02" stroke="#D95F02"/><circle cx="525.8" cy="209.2" r="3.3" fill="#1B9E77" stroke="#1B9E77"/><circle cx="518.1" cy="421.9" r="3.3" fill="#1B9E77" stroke="#1B9E77"/><circle cx="512.8" cy="282.9" r="3.3" fill="#D95F02" stroke="#D95F02"/><circle cx="501.6" cy="331.5" r="3.3" fill="#1B9E77" stroke="#1B9E77"/><circle cx="524.7" cy="309.3" r="3.3" fill="#1B9E77" stroke="#1B9E77"/><circle cx="511.4" cy="434.6" r="3.3" fill="#D95F02" stroke="#D95F02"/><circle cx="516.2" cy="323.6" r="3.3" fill="#D95F02" stroke="#D95F02"/><circle cx="507.0" cy="349.3" r="3.3" fill="#1B9E77" stroke="#1B9E77"/><circle cx="188.4" cy="315.6" r="3.3" fill="#D95F02" stroke="#D95F02"/><circle cx="522.4" cy="216.3" r="3.3" fill="#D95F02" stroke="#D95F02"/><circle cx="185.4" cy="266.5" r="3.3" fill="#1B9E77" stroke="#1B9E77"/><circle cx="501.2" cy="382.1" r="3.3" fill="#D95F02" stroke="#D95F02"/><circle cx="525.4" cy="244.3" r="3.3" fill="#1B9E77" stroke="#1B9E77"/><circle cx="509.6" cy="434.4" r="3.3" fill="#1B9E77" stroke="#1B9E77"/><circle cx="213.6" cy="405.9" r="3.3" fill="#D95F02" stroke="#D95F02"/><circle cx="208.2" cy="349.7" r="3.3" fill="#1B9E77" stroke="#1B9E77"/><circle cx="507.6" cy="185.7" r="3.3" fill="#D95F02" stroke="#D95F02"/><circle cx="188.1" cy="243.2" r="3.3" fill="#D95F02" stroke="#D95F02"/><circle cx="508.0" cy="431.9" r="3.3" fill="#1B9E77" stroke="#1B9E77"/><circle cx="189.8" cy="425.9" r="3.3" fill="#1B9E77" stroke="#1B9E77"/><circle cx="519.6" cy="180.9" r="3.3" fill="#D95F02" stroke="#D95F02"/><circle cx="530.0" cy="481.6" r="3.3" fill="#1B9E77" stroke="#1B9E77"/><circle cx="199.4" cy="212.4" r="3.3" fill="#D95F02" stroke="#D95F02"/><circle cx="515.6" cy="535.7" r="3.3" fill="#1B9E77" stroke="#1B9E77"/><circle cx="207.3" cy="402.2" r="3.3" fill="#1B9E77" stroke="#1B9E77"/><circle cx="522.5" cy="359.0" r="3.3" fill="#D95F02" stroke="#D95F02"/><circle cx="187.0" cy="424.7" r="3.3" fill="#1B9E77" stroke="#1B9E77"/><circle cx="206.9" cy="265.3" r="3.3" fill="#1B9E77" stroke="#1B9E77"/><circle cx="202.9" cy="249.9" r="3.3" fill="#1B9E77" stroke="#1B9E77"/><circle cx="194.5" cy="363.9" r="3.3" fill="#D95F02" stroke="#D95F02"/><circle cx="211.8" cy="365.7" r="3.3" fill="#1B9E77" stroke="#1B9E77"/><circle cx="511.2" cy="279.2" r="3.3" fill="#D95F02" stroke="#D95F02"/><circle cx="209.9" cy="238.5" r="3.3" fill="#D95F02" stroke="#D95F02"/><circle cx="508.9" cy="431.9" r="3.3" fill="#1B9E77" stroke="#1B9E77"/><circle cx="206.3" cy="277.8" r="3.3" fill="#1B9E77" stroke="#1B9E77"/><circle cx="202.5" cy="277.3" r="3.3" fill="#D95F02" stroke="#D95F02"/><circle cx="502.7" cy="496.7" r="3.3" fill="#D95F02" stroke="#D95F02"/><circle cx="509.2" cy="334.2" r="3.3" fill="#D95F02" stroke="#D95F02"/><circle cx="501.9" cy="432.5" r="3.3" fill="#D95F02" stroke="#D95F02"/><circle cx="505.4" cy="250.4" r="3.3" fill="#D95F02" stroke="#D95F02"/><circle cx="209.9" cy="240.4" r="3.3" fill="#1B9E77" stroke="#1B9E77"/><circle cx="199.7" cy="427.1" r="3.3" fill="#1B9E77" stroke="#1B9E77"/><circle cx="512.0" cy="256.9" r="3.3" fill="#1B9E77" stroke="#1B9E77"/><circle cx="518.7" cy="332.2" r="3.3" fill="#D95F02" stroke="#D95F02"/><circle cx="514.1" cy="510.8" r="3.3" fill="#1B9E77" stroke="#1B9E77"/><circle cx="195.5" cy="348.2" r="3.3" fill="#1B9E77" stroke="#1B9E77"/><circle cx="204.9" cy="323.0" r="3.3" fill="#D95F02" stroke="#D95F02"/><circle cx="186.5" cy="388.7" r="3.3" fill="#1B9E77" stroke="#1B9E77"/><circle cx="194.7" cy="350.9" r="3.3" fill="#1B9E77" stroke="#1B9E77"/><circle cx="530.3" cy="282.4" r="3.3" fill="#D95F02" stroke="#D95F02"/><circle cx="203.8" cy="425.3" r="3.3" fill="#1B9E77" stroke="#1B9E77"/><circle cx="522.3" cy="502.4" r="3.3" fill="#1B9E77" stroke="#1B9E77"/><circle cx="514.8" cy="255.8" r="3.3" fill="#D95F02" stroke="#D95F02"/><circle cx="205.8" cy="261.9" r="3.3" fill="#1B9E77" stroke="#1B9E77"/><circle cx="190.4" cy="255.8" r="3.3" fill="#1B9E77" stroke="#1B9E77"/><circle cx="204.9" cy="349.7" r="3.3" fill="#D95F02" stroke="#D95F02"/><circle cx="212.2" cy="331.4" r="3.3" fill="#1B9E77" stroke="#1B9E77"/><circle cx="192.9" cy="335.8" r="3.3" fill="#D95F02" stroke="#D95F02"/><circle cx="188.8" cy="400.8" r="3.3" fill="#D95F02" stroke="#D95F02"/><circle cx="201.7" cy="411.2" r="3.3" fill="#1B9E77" stroke="#1B9E77"/><circle cx="508.2" cy="431.4" r="3.3" fill="#1B9E77" stroke="#1B9E77"/><circle cx="202.5" cy="560.3" r="3.3" fill="#1B9E77" stroke="#1B9E77"/><circle cx="528.4" cy="210.2" r="3.3" fill="#1B9E77" stroke="#1B9E77"/><circle cx="519.1" cy="484.0" r="3.3" fill="#1B9E77" stroke="#1B9E77"/><circle cx="197.9" cy="203.7" r="3.3" fill="#D95F02" stroke="#D95F02"/><circle cx="207.0" cy="510.5" r="3.3" fill="#D95F02" stroke="#D95F02"/><circle cx="527.8" cy="411.9" r="3.3" fill="#1B9E77" stroke="#1B9E77"/><circle cx="210.6" cy="339.7" r="3.3" fill="#D95F02" stroke="#D95F02"/><circle cx="525.9" cy="351.7" r="3.3" fill="#D95F02" stroke="#D95F02"/><circle cx="530.4" cy="381.8" r="3.3" fill="#D95F02" stroke="#D95F02"/><circle cx="212.8" cy="242.4" r="3.3" fill="#D95F02" stroke="#D95F02"/><circle cx="505.5" cy="252.5" r="3.3" fill="#1B9E77" stroke="#1B9E77"/><circle cx="514.6" cy="362.7" r="3.3" fill="#1B9E77" stroke="#1B9E77"/><circle cx="505.1" cy="476.1" r="3.3" fill="#1B9E77" stroke="#1B9E77"/><circle cx="502.7" cy="371.5" r="3.3" fill="#1B9E77" stroke="#1B9E77"/><circle cx="195.9" cy="522.9" r="3.3" fill="#1B9E77" stroke="#1B9E77"/><circle cx="511.0" cy="300.6" r="3.3" fill="#D95F02" stroke="#D95F02"/><circle cx="523.5" cy="277.6" r="3.3" fill="#1B9E77" stroke="#1B9E77"/><circle cx="213.3" cy="186.6" r="3.3" fill="#D95F02" stroke="#D95F02"/><circle cx="503.9" cy="471.7" r="3.3" fill="#D95F02" stroke="#D95F02"/><circle cx="520.0" cy="155.6" r="3.3" fill="#1B9E77" stroke="#1B9E77"/><circle cx="508.3" cy="509.1" r="3.3" fill="#1B9E77" stroke="#1B9E77"/><circle cx="510.8" cy="401.7" r="3.3" fill="#D95F02" stroke="#D95F02"/><circle cx="206.9" cy="430.3" r="3.3" fill="#1B9E77" stroke="#1B9E77"/><circle cx="522.5" cy="328.8" r="3.3" fill="#1B9E77" stroke="#1B9E77"/><circle cx="522.4" cy="251.6" r="3.3" fill="#1B9E77" stroke="#1B9E77"/><circle cx="214.0" cy="203.0" r="3.3" fill="#D95F02" stroke="#D95F02"/><circle cx="204.2" cy="202.8" r="3.3" fill="#D95F02" stroke="#D95F02"/><circle cx="523.5" cy="414.2" r="3.3" fill="#D95F02" stroke="#D95F02"/><circle cx="523.7" cy="377.2" r="3.3" fill="#D95F02" stroke="#D95F02"/><circle cx="198.8" cy="334.1" r="3.3" fill="#1B9E77" stroke="#1B9E77"/><circle cx="504.5" cy="497.5" r="3.3" fill="#D95F02" stroke="#D95F02"/><circle cx="213.8" cy="316.3" r="3.3" fill="#1B9E77" stroke="#1B9E77"/><circle cx="207.1" cy="389.9" r="3.3" fill="#D95F02" stroke="#D95F02"/><circle cx="500.7" cy="333.1" r="3.3" fill="#D95F02" stroke="#D95F02"/><circle cx="530.3" cy="520.6" r="3.3" fill="#1B9E77" stroke="#1B9E77"/><circle cx="529.9" cy="216.1" r="3.3" fill="#1B9E77" stroke="#1B9E77"/><circle cx="186.2" cy="426.6" r="3.3" fill="#D95F02" stroke="#D95F02"/></g>
<line x1="240.9" y1="161.6" x2="240.9" y2="258.7" stroke="#000" stroke-width="1.7"/><line x1="240.9" y1="404.6" x2="240.9" y2="597.4" stroke="#000" stroke-width="1.7"/><rect x="234.8" y="258.7" width="13.50" height="145.90" fill="#1B9E77" fill-opacity="0.5" stroke="#000" stroke-width="1.7"/><line x1="234.8" y1="330.8" x2="248.3" y2="330.8" stroke="#000" stroke-width="3.2"/>
<line x1="255.7" y1="161.6" x2="255.7" y2="258.7" stroke="#000" stroke-width="1.7"/><line x1="255.7" y1="379.4" x2="255.7" y2="549.6" stroke="#000" stroke-width="1.7"/><rect x="248.3" y="258.7" width="15.70" height="120.70" fill="#D95F02" fill-opacity="0.5" stroke="#000" stroke-width="1.7"/><line x1="248.3" y1="330.8" x2="264.0" y2="330.8" stroke="#000" stroke-width="3.2"/>
<line x1="556.7" y1="161.6" x2="556.7" y2="277.0" stroke="#000" stroke-width="1.7"/><line x1="556.7" y1="404.6" x2="556.7" y2="573.0" stroke="#000" stroke-width="1.7"/><rect x="549.2" y="277.0" width="14.20" height="127.60" fill="#1B9E77" fill-opacity="0.5" stroke="#000" stroke-width="1.7"/><line x1="549.2" y1="330.5" x2="563.4" y2="330.5" stroke="#000" stroke-width="3.2"/>
<line x1="571.6" y1="161.6" x2="571.6" y2="258.7" stroke="#000" stroke-width="1.7"/><line x1="571.6" y1="378.6" x2="571.6" y2="549.5" stroke="#000" stroke-width="1.7"/><rect x="563.4" y="258.7" width="15.20" height="119.90" fill="#D95F02" fill-opacity="0.5" stroke="#000" stroke-width="1.7"/><line x1="563.4" y1="307.2" x2="578.6" y2="307.2" stroke="#000" stroke-width="3.2"/>
<line x1="279.5" y1="331.2" x2="594.3" y2="322.5" stroke="#D95F02" stroke-width="2.6" stroke-dasharray="2.6 10.7"/>
<line x1="279.5" y1="334.0" x2="594.3" y2="341.6" stroke="#1B9E77" stroke-width="2.6" stroke-dasharray="2.6 10.7"/>
<path d="M271.8,330.1 H287.40000000000003 M279.6,330.1 V338.6 M271.8,338.6 H287.40000000000003" stroke="#1B9E77" stroke-width="2.6" fill="none"/>
<path d="M271.8,326.9 H287.40000000000003 M279.6,326.9 V335.8 M271.8,335.8 H287.40000000000003" stroke="#D95F02" stroke-width="2.6" fill="none"/>
<path d="M587.1,337.6 H602.6999999999999 M594.9,337.6 V345.8 M587.1,345.8 H602.6999999999999" stroke="#1B9E77" stroke-width="2.6" fill="none"/>
<path d="M587.1,319.2 H602.6999999999999 M594.9,319.2 V325.7 M587.1,325.7 H602.6999999999999" stroke="#D95F02" stroke-width="2.6" fill="none"/>
<line x1="59.8" y1="59.8" x2="59.8" y2="749.8" stroke="#333" stroke-width="2.2"/>
<line x1="58.7" y1="748.8" x2="751.7" y2="748.8" stroke="#333" stroke-width="2.2"/>
<line x1="53" y1="647.8" x2="59.8" y2="647.8" stroke="#333" stroke-width="2.2"/>
<text x="46.6" y="656.4" text-anchor="end" font-size="20" fill="#4d4d4d">1</text>
<line x1="53" y1="526.3" x2="59.8" y2="526.3" stroke="#333" stroke-width="2.2"/>
<text x="46.6" y="534.9" text-anchor="end" font-size="20" fill="#4d4d4d">2</text>
<line x1="53" y1="404.9" x2="59.8" y2="404.9" stroke="#333" stroke-width="2.2"/>
<text x="46.6" y="413.5" text-anchor="end" font-size="20" fill="#4d4d4d">3</text>
<line x1="53" y1="283.4" x2="59.8" y2="283.4" stroke="#333" stroke-width="2.2"/>
<text x="46.6" y="292.0" text-anchor="end" font-size="20" fill="#4d4d4d">4</text>
<line x1="53" y1="162.0" x2="59.8" y2="162.0" stroke="#333" stroke-width="2.2"/>
<text x="46.6" y="170.6" text-anchor="end" font-size="20" fill="#4d4d4d">5</text>
<line x1="249.0" y1="748.8" x2="249.0" y2="754.8" stroke="#333" stroke-width="2.2"/>
<text x="248.4" y="777.8" text-anchor="middle" font-size="20" fill="#4d4d4d">no</text>
<line x1="563.3" y1="748.8" x2="563.3" y2="754.8" stroke="#333" stroke-width="2.2"/>
<text x="560.9" y="777.8" text-anchor="middle" font-size="20" fill="#4d4d4d">yes</text>
<text x="406" y="805.8" text-anchor="middle" font-size="24.5" fill="#000">Priming</text>
<text transform="translate(27.3,404.5) rotate(-90)" text-anchor="middle" font-size="24.5" fill="#000">Perceived Autonomy</text>
<text x="788.0" y="370.4" font-size="24" fill="#000">Explanation</text>
<rect x="790.3" y="386.2" width="34.5" height="34.5" fill="#1B9E77" fill-opacity="0.5"/><line x1="807.6" y1="386.2" x2="807.6" y2="394.8" stroke="#000" stroke-width="2"/><line x1="807.6" y1="412.59999999999997" x2="807.6" y2="420.7" stroke="#000" stroke-width="2"/><rect x="794" y="394.8" width="28.5" height="17.8" fill="#1B9E77" fill-opacity="0.5" stroke="#000" stroke-width="2"/><line x1="792" y1="403.59999999999997" x2="823" y2="403.59999999999997" stroke="#1B9E77" stroke-width="3"/>
<rect x="790.3" y="424.3" width="34.5" height="34.5" fill="#D95F02" fill-opacity="0.5"/><line x1="807.6" y1="424.3" x2="807.6" y2="432.90000000000003" stroke="#000" stroke-width="2"/><line x1="807.6" y1="450.7" x2="807.6" y2="458.8" stroke="#000" stroke-width="2"/><rect x="794" y="432.90000000000003" width="28.5" height="17.8" fill="#D95F02" fill-opacity="0.5" stroke="#000" stroke-width="2"/><line x1="792" y1="441.7" x2="823" y2="441.7" stroke="#D95F02" stroke-width="3"/>
<text x="838.0" y="413.6" font-size="20" fill="#000">no</text>
<text x="838.0" y="451.6" font-size="20" fill="#000">yes</text>
</svg>
</body></html>
